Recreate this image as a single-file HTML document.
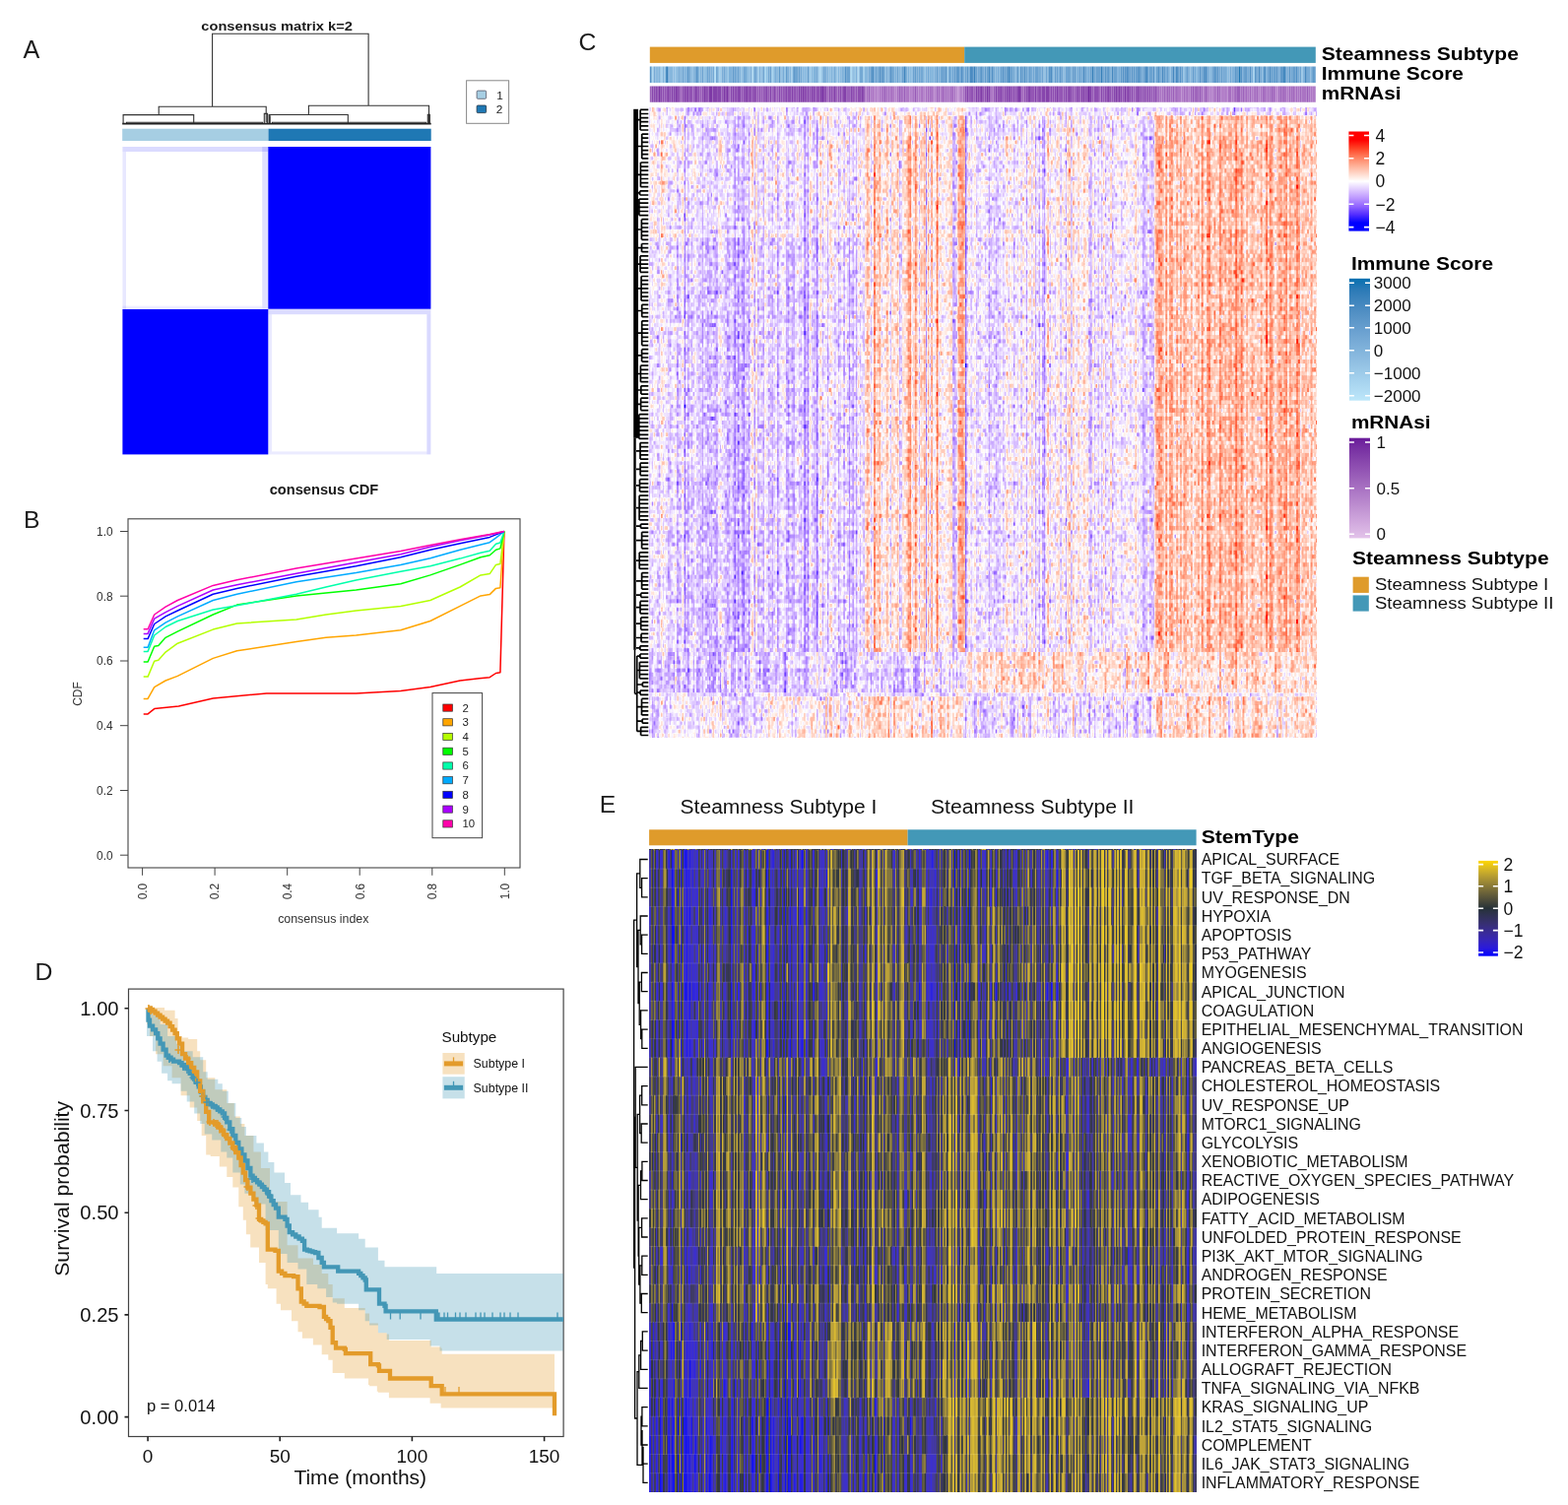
<!DOCTYPE html>
<html><head><meta charset="utf-8"><title>Figure</title>
<style>html,body{margin:0;padding:0;background:#fff;}svg{display:block;}</style></head>
<body><svg width="1592" height="1528" viewBox="0 0 1592 1528" font-family="'Liberation Sans', Arial, Helvetica, sans-serif">
<defs><filter id="fC" x="0" y="0" width="1" height="1" filterUnits="objectBoundingBox" color-interpolation-filters="sRGB"><feComponentTransfer><feFuncR type="table" tableValues="0 0 0 0 0 0 0 0 0 0 0 0 0 0 0 0 0.254 0.361 0.443 0.511 0.572 0.626 0.677 0.725 0.77 0.812 0.853 0.892 0.929 0.965 1 1 1 1 1 1 1 1 1 1 1 1 1 1 1 1 1 1 1 1 1 1 1 1 1 1 1 1 1 1 1"/><feFuncG type="table" tableValues="0 0 0 0 0 0 0 0 0 0 0 0 0 0 0 0 0.127 0.205 0.272 0.335 0.396 0.456 0.516 0.576 0.635 0.695 0.755 0.816 0.877 0.938 1 0.95 0.9 0.85 0.8 0.749 0.698 0.646 0.593 0.538 0.481 0.422 0.357 0.284 0.192 0 0 0 0 0 0 0 0 0 0 0 0 0 0 0 0"/><feFuncB type="table" tableValues="1 1 1 1 1 1 1 1 1 1 1 1 1 1 1 1 1 1 1 1 1 1 1 1 1 1 1 1 1 1 1 0.932 0.864 0.797 0.731 0.666 0.602 0.538 0.475 0.413 0.352 0.29 0.229 0.165 0.095 0 0 0 0 0 0 0 0 0 0 0 0 0 0 0 0"/><feFuncA type="linear" slope="0" intercept="1"/></feComponentTransfer><feGaussianBlur stdDeviation="0.55 0.35"/><feComponentTransfer><feFuncA type="linear" slope="0" intercept="1"/></feComponentTransfer></filter><pattern id="hct0" patternUnits="userSpaceOnUse" width="61" height="23" x="34" y="1"><path fill="#000000" d="M8 2h1v1h-1zM39 3h1v1h-1zM43 3h1v1h-1zM21 5h1v1h-1zM57 5h1v1h-1zM0 6h2v1h-2zM15 9h1v1h-1zM47 9h1v1h-1zM1 10h1v1h-1zM19 16h1v1h-1zM43 20h1v1h-1zM37 21h1v1h-1zM48 22h1v1h-1zM52 22h1v1h-1z"/><path fill="#050505" d="M41 4h1v1h-1zM6 5h1v1h-1zM15 12h1v1h-1z"/><path fill="#0b0b0b" d="M15 8h1v1h-1z"/><path fill="#101010" d="M42 19h1v1h-1z"/><path fill="#161616" d="M2 6h1v1h-1zM35 7h1v1h-1zM44 12h1v1h-1zM11 15h1v1h-1zM35 21h1v1h-1z"/><path fill="#1b1b1b" d="M13 5h1v1h-1zM30 9h1v1h-1zM6 16h1v1h-1z"/><path fill="#212121" d="M52 2h1v1h-1zM46 3h1v1h-1zM10 9h1v1h-1z"/><path fill="#262626" d="M31 9h1v1h-1zM10 14h1v1h-1zM13 14h1v1h-1zM57 21h1v1h-1zM59 21h1v1h-1z"/><path fill="#2b2b2b" d="M18 3h1v1h-1zM9 10h1v1h-1z"/><path fill="#313131" d="M42 0h1v1h-1zM47 0h1v1h-1zM36 5h1v1h-1zM35 8h1v1h-1zM38 8h1v1h-1zM52 8h1v1h-1zM31 10h1v1h-1zM55 10h1v1h-1zM18 11h1v1h-1zM29 12h1v1h-1zM60 14h1v1h-1z"/><path fill="#363636" d="M33 1h1v1h-1zM53 8h1v1h-1zM43 13h1v1h-1zM53 13h1v1h-1zM25 14h1v1h-1zM37 14h1v1h-1zM31 16h1v1h-1zM13 17h1v1h-1zM53 17h1v1h-1zM1 18h1v1h-1zM6 21h1v1h-1zM32 22h1v1h-1zM42 22h1v1h-1zM54 22h1v1h-1z"/><path fill="#3c3c3c" d="M15 0h1v1h-1zM26 1h1v1h-1zM29 2h1v1h-1zM46 2h1v1h-1zM24 4h1v1h-1zM60 6h1v1h-1zM58 8h1v1h-1zM20 11h1v1h-1zM17 17h1v1h-1zM22 21h1v1h-1zM60 21h1v1h-1zM24 22h1v1h-1z"/><path fill="#414141" d="M26 0h1v1h-1zM46 1h1v1h-1zM6 4h1v1h-1zM41 5h1v1h-1zM44 5h1v1h-1zM36 6h1v1h-1zM6 7h1v1h-1zM44 7h1v1h-1zM2 8h1v1h-1zM28 8h2v1h-2zM39 10h1v1h-1zM58 12h1v1h-1zM45 13h1v1h-1zM2 14h2v1h-2zM12 14h1v1h-1zM39 14h1v1h-1zM22 15h1v1h-1zM42 15h1v1h-1zM28 18h1v1h-1zM4 19h1v1h-1zM6 19h1v1h-1zM38 19h1v1h-1zM4 20h1v1h-1zM31 22h1v1h-1zM55 22h1v1h-1z"/><path fill="#474747" d="M23 2h1v1h-1zM54 4h1v1h-1zM9 6h1v1h-1zM25 7h1v1h-1zM1 8h1v1h-1zM27 8h1v1h-1zM13 9h1v1h-1zM21 10h1v1h-1zM9 11h1v1h-1zM40 12h1v1h-1zM46 12h1v1h-1zM26 14h1v1h-1zM2 15h1v1h-1zM32 16h1v1h-1zM7 17h1v1h-1zM45 17h1v1h-1zM50 18h1v1h-1zM32 20h1v1h-1zM3 21h1v1h-1zM58 22h1v1h-1z"/><path fill="#4c4c4c" d="M1 0h1v1h-1zM30 0h1v1h-1zM37 0h1v1h-1zM14 1h1v1h-1zM16 1h1v1h-1zM23 1h1v1h-1zM32 1h1v1h-1zM14 3h1v1h-1zM1 4h1v1h-1zM28 4h1v1h-1zM8 5h1v1h-1zM11 5h1v1h-1zM14 5h1v1h-1zM30 5h1v1h-1zM38 5h1v1h-1zM56 6h1v1h-1zM24 10h1v1h-1zM49 10h1v1h-1zM28 11h1v1h-1zM36 11h1v1h-1zM47 11h1v1h-1zM48 13h1v1h-1zM27 14h1v1h-1zM7 15h1v1h-1zM20 16h1v1h-1zM24 17h1v1h-1zM44 17h1v1h-1zM57 18h1v1h-1zM16 19h1v1h-1zM39 19h1v1h-1zM55 19h1v1h-1zM5 20h1v1h-1zM45 20h1v1h-1zM2 21h1v1h-1zM14 21h1v1h-1zM18 21h1v1h-1zM36 21h1v1h-1zM13 22h1v1h-1zM45 22h1v1h-1z"/><path fill="#515151" d="M11 0h1v1h-1zM17 0h1v1h-1zM51 0h1v1h-1zM15 1h1v1h-1zM20 1h1v1h-1zM25 1h1v1h-1zM60 1h1v1h-1zM42 2h1v1h-1zM47 3h1v1h-1zM36 4h1v1h-1zM22 5h1v1h-1zM43 5h1v1h-1zM48 5h1v1h-1zM3 7h1v1h-1zM18 7h1v1h-1zM26 7h1v1h-1zM47 8h1v1h-1zM56 9h1v1h-1zM16 11h1v1h-1zM43 12h1v1h-1zM48 12h1v1h-1zM30 13h1v1h-1zM5 14h1v1h-1zM28 14h1v1h-1zM40 14h1v1h-1zM3 15h1v1h-1zM16 17h1v1h-1zM2 18h1v1h-1zM13 18h1v1h-1zM54 19h1v1h-1zM17 21h1v1h-1zM23 21h1v1h-1zM33 21h1v1h-1z"/><path fill="#575757" d="M28 0h1v1h-1zM34 0h1v1h-1zM36 0h1v1h-1zM39 0h1v1h-1zM44 0h1v1h-1zM53 0h1v1h-1zM22 1h1v1h-1zM54 1h1v1h-1zM2 2h1v1h-1zM26 2h1v1h-1zM3 3h1v1h-1zM15 3h1v1h-1zM22 3h1v1h-1zM50 3h1v1h-1zM56 4h1v1h-1zM7 5h1v1h-1zM26 6h1v1h-1zM33 6h1v1h-1zM24 7h1v1h-1zM32 7h1v1h-1zM11 8h1v1h-1zM21 8h1v1h-1zM39 8h1v1h-1zM51 8h1v1h-1zM3 9h1v1h-1zM33 9h1v1h-1zM36 9h1v1h-1zM41 10h1v1h-1zM38 11h1v1h-1zM2 12h1v1h-1zM57 12h1v1h-1zM5 13h1v1h-1zM11 13h1v1h-1zM35 13h1v1h-1zM0 14h1v1h-1zM9 14h1v1h-1zM45 14h1v1h-1zM10 15h1v1h-1zM41 16h1v1h-1zM42 18h1v1h-1zM2 22h1v1h-1z"/><path fill="#5c5c5c" d="M12 0h1v1h-1zM55 0h1v1h-1zM12 1h1v1h-1zM19 1h1v1h-1zM49 1h1v1h-1zM11 2h1v1h-1zM17 2h1v1h-1zM37 2h1v1h-1zM41 2h1v1h-1zM49 2h1v1h-1zM1 3h1v1h-1zM9 3h1v1h-1zM34 3h1v1h-1zM5 4h1v1h-1zM46 4h1v1h-1zM49 4h2v1h-2zM18 6h1v1h-1zM45 7h1v1h-1zM52 7h1v1h-1zM8 8h1v1h-1zM12 8h1v1h-1zM24 8h1v1h-1zM34 8h1v1h-1zM14 9h1v1h-1zM41 9h1v1h-1zM59 10h1v1h-1zM14 11h1v1h-1zM17 11h1v1h-1zM30 11h1v1h-1zM37 11h1v1h-1zM53 11h2v1h-2zM59 11h1v1h-1zM18 12h1v1h-1zM36 12h1v1h-1zM45 12h1v1h-1zM11 14h1v1h-1zM22 14h1v1h-1zM4 15h1v1h-1zM31 15h1v1h-1zM5 16h1v1h-1zM54 16h1v1h-1zM41 17h1v1h-1zM12 18h1v1h-1zM17 19h1v1h-1zM53 19h1v1h-1zM18 20h2v1h-2zM51 20h1v1h-1zM54 21h1v1h-1zM44 22h1v1h-1zM56 22h1v1h-1z"/><path fill="#626262" d="M0 0h1v1h-1zM7 0h1v1h-1zM20 0h1v1h-1zM39 1h1v1h-1zM33 2h1v1h-1zM44 2h1v1h-1zM25 3h1v1h-1zM2 4h1v1h-1zM23 4h1v1h-1zM59 4h1v1h-1zM10 5h1v1h-1zM24 5h3v1h-3zM54 7h1v1h-1zM33 8h1v1h-1zM34 9h1v1h-1zM45 9h1v1h-1zM52 9h1v1h-1zM59 9h1v1h-1zM11 10h1v1h-1zM23 10h1v1h-1zM27 10h1v1h-1zM53 10h1v1h-1zM56 10h1v1h-1zM3 11h1v1h-1zM42 11h1v1h-1zM35 12h1v1h-1zM49 12h1v1h-1zM54 14h2v1h-2zM35 15h1v1h-1zM53 15h1v1h-1zM16 16h1v1h-1zM38 17h1v1h-1zM46 17h1v1h-1zM48 17h1v1h-1zM3 18h3v1h-3zM20 18h1v1h-1zM60 18h1v1h-1zM37 20h1v1h-1zM8 21h1v1h-1zM46 21h1v1h-1zM43 22h1v1h-1zM46 22h1v1h-1z"/><path fill="#676767" d="M18 0h1v1h-1zM23 0h1v1h-1zM1 1h1v1h-1zM52 1h2v1h-2zM45 2h1v1h-1zM4 3h1v1h-1zM19 3h1v1h-1zM56 3h1v1h-1zM48 4h1v1h-1zM53 4h1v1h-1zM60 4h1v1h-1zM9 5h1v1h-1zM47 5h1v1h-1zM58 5h1v1h-1zM11 6h1v1h-1zM29 6h1v1h-1zM31 6h1v1h-1zM9 7h1v1h-1zM19 7h1v1h-1zM29 7h1v1h-1zM6 9h1v1h-1zM9 9h1v1h-1zM20 9h1v1h-1zM29 9h1v1h-1zM55 9h1v1h-1zM28 10h1v1h-1zM32 10h1v1h-1zM54 10h1v1h-1zM60 10h1v1h-1zM6 11h1v1h-1zM10 11h1v1h-1zM27 11h1v1h-1zM24 12h1v1h-1zM27 12h1v1h-1zM15 13h1v1h-1zM31 13h1v1h-1zM42 13h1v1h-1zM4 14h1v1h-1zM15 14h1v1h-1zM13 15h1v1h-1zM29 15h1v1h-1zM33 15h1v1h-1zM46 15h1v1h-1zM55 15h1v1h-1zM2 16h1v1h-1zM10 16h1v1h-1zM18 16h1v1h-1zM23 16h1v1h-1zM5 17h1v1h-1zM8 17h1v1h-1zM7 18h1v1h-1zM32 18h1v1h-1zM18 19h1v1h-1zM28 19h1v1h-1zM60 19h1v1h-1zM9 20h1v1h-1zM36 20h1v1h-1zM37 22h1v1h-1zM47 22h1v1h-1z"/><path fill="#6d6d6d" d="M6 0h1v1h-1zM19 0h1v1h-1zM28 1h1v1h-1zM31 1h1v1h-1zM37 1h2v1h-2zM40 1h1v1h-1zM6 2h1v1h-1zM30 2h2v1h-2zM53 2h1v1h-1zM0 3h1v1h-1zM17 3h1v1h-1zM52 3h1v1h-1zM42 5h1v1h-1zM49 5h1v1h-1zM53 5h1v1h-1zM16 6h1v1h-1zM47 6h1v1h-1zM52 6h1v1h-1zM58 6h1v1h-1zM28 7h1v1h-1zM50 7h1v1h-1zM48 8h1v1h-1zM54 9h1v1h-1zM57 9h1v1h-1zM7 11h1v1h-1zM25 11h1v1h-1zM33 11h1v1h-1zM43 11h1v1h-1zM4 12h1v1h-1zM47 12h1v1h-1zM29 13h1v1h-1zM6 14h1v1h-1zM42 14h1v1h-1zM47 14h1v1h-1zM15 15h1v1h-1zM52 15h1v1h-1zM0 16h1v1h-1zM0 17h1v1h-1zM18 17h1v1h-1zM26 17h1v1h-1zM28 17h1v1h-1zM37 17h1v1h-1zM54 17h1v1h-1zM35 18h1v1h-1zM37 18h1v1h-1zM41 18h1v1h-1zM52 18h1v1h-1zM1 19h1v1h-1zM5 19h1v1h-1zM43 19h1v1h-1zM46 19h1v1h-1zM52 19h1v1h-1zM7 20h1v1h-1zM14 20h1v1h-1zM27 20h1v1h-1zM31 20h1v1h-1zM57 20h1v1h-1zM25 21h1v1h-1zM16 22h1v1h-1zM27 22h1v1h-1zM33 22h1v1h-1zM49 22h1v1h-1z"/><path fill="#727272" d="M33 0h1v1h-1zM35 0h1v1h-1zM54 0h1v1h-1zM4 1h1v1h-1zM8 1h1v1h-1zM18 1h1v1h-1zM35 1h1v1h-1zM42 1h1v1h-1zM57 1h1v1h-1zM1 2h1v1h-1zM18 2h1v1h-1zM36 2h1v1h-1zM54 2h1v1h-1zM51 3h1v1h-1zM55 3h1v1h-1zM8 4h2v1h-2zM20 4h1v1h-1zM32 4h1v1h-1zM43 4h2v1h-2zM28 5h1v1h-1zM40 5h1v1h-1zM50 5h2v1h-2zM17 6h1v1h-1zM19 6h1v1h-1zM21 6h1v1h-1zM35 6h1v1h-1zM41 6h1v1h-1zM51 6h1v1h-1zM57 6h1v1h-1zM11 7h1v1h-1zM57 7h1v1h-1zM56 8h2v1h-2zM11 9h1v1h-1zM22 9h1v1h-1zM50 9h1v1h-1zM38 10h1v1h-1zM2 11h1v1h-1zM11 11h1v1h-1zM9 12h1v1h-1zM12 12h1v1h-1zM20 12h1v1h-1zM25 12h1v1h-1zM54 12h2v1h-2zM3 13h1v1h-1zM8 13h1v1h-1zM36 13h1v1h-1zM50 13h1v1h-1zM57 13h1v1h-1zM1 14h1v1h-1zM21 14h1v1h-1zM23 14h1v1h-1zM33 14h1v1h-1zM11 16h1v1h-1zM21 16h1v1h-1zM34 16h1v1h-1zM25 17h1v1h-1zM60 17h1v1h-1zM3 19h1v1h-1zM20 19h1v1h-1zM23 19h1v1h-1zM6 20h1v1h-1zM23 20h1v1h-1zM25 20h1v1h-1zM34 20h1v1h-1zM38 20h1v1h-1zM60 20h1v1h-1zM44 21h1v1h-1zM3 22h2v1h-2zM15 22h1v1h-1zM29 22h1v1h-1zM59 22h1v1h-1z"/><path fill="#777777" d="M2 0h1v1h-1zM27 0h1v1h-1zM29 0h1v1h-1zM48 0h2v1h-2zM9 1h1v1h-1zM34 1h1v1h-1zM34 2h2v1h-2zM57 2h1v1h-1zM5 3h1v1h-1zM26 3h1v1h-1zM32 3h1v1h-1zM38 3h1v1h-1zM41 3h1v1h-1zM49 3h1v1h-1zM0 4h1v1h-1zM34 4h2v1h-2zM2 5h1v1h-1zM5 5h1v1h-1zM31 5h1v1h-1zM39 5h1v1h-1zM60 5h1v1h-1zM48 6h1v1h-1zM55 7h1v1h-1zM18 8h1v1h-1zM23 8h1v1h-1zM31 8h1v1h-1zM2 9h1v1h-1zM19 9h1v1h-1zM23 9h1v1h-1zM18 10h1v1h-1zM13 11h1v1h-1zM24 11h1v1h-1zM3 12h1v1h-1zM17 12h1v1h-1zM19 13h1v1h-1zM24 13h1v1h-1zM26 13h1v1h-1zM44 13h1v1h-1zM56 13h1v1h-1zM58 14h1v1h-1zM19 15h1v1h-1zM45 15h1v1h-1zM28 16h2v1h-2zM37 16h1v1h-1zM55 16h1v1h-1zM57 16h1v1h-1zM3 17h2v1h-2zM11 17h1v1h-1zM22 17h1v1h-1zM39 17h1v1h-1zM47 17h1v1h-1zM51 17h1v1h-1zM6 18h1v1h-1zM14 18h1v1h-1zM29 18h1v1h-1zM48 18h1v1h-1zM14 19h2v1h-2zM22 19h1v1h-1zM29 19h1v1h-1zM49 19h1v1h-1zM10 20h1v1h-1zM15 20h1v1h-1zM17 20h1v1h-1zM26 20h1v1h-1zM35 20h1v1h-1zM59 20h1v1h-1zM43 21h1v1h-1zM48 21h1v1h-1zM36 22h1v1h-1z"/><path fill="#7d7d7d" d="M16 0h1v1h-1zM22 0h1v1h-1zM32 0h1v1h-1zM2 1h1v1h-1zM6 1h1v1h-1zM27 1h1v1h-1zM29 1h1v1h-1zM4 2h1v1h-1zM56 2h1v1h-1zM58 2h1v1h-1zM13 3h1v1h-1zM33 3h1v1h-1zM36 3h1v1h-1zM57 3h1v1h-1zM18 4h1v1h-1zM31 4h1v1h-1zM38 4h1v1h-1zM58 4h1v1h-1zM23 5h1v1h-1zM27 5h1v1h-1zM46 5h1v1h-1zM52 5h1v1h-1zM30 6h1v1h-1zM4 7h1v1h-1zM22 7h1v1h-1zM13 8h1v1h-1zM32 8h1v1h-1zM41 8h1v1h-1zM21 9h1v1h-1zM24 9h1v1h-1zM38 9h1v1h-1zM43 9h1v1h-1zM58 9h1v1h-1zM42 10h1v1h-1zM58 10h1v1h-1zM0 11h2v1h-2zM58 11h1v1h-1zM46 13h1v1h-1zM49 13h1v1h-1zM19 14h1v1h-1zM29 14h1v1h-1zM1 15h1v1h-1zM14 15h1v1h-1zM30 16h1v1h-1zM36 16h1v1h-1zM1 17h1v1h-1zM8 18h1v1h-1zM16 18h1v1h-1zM26 18h1v1h-1zM30 18h1v1h-1zM38 18h1v1h-1zM49 18h1v1h-1zM2 19h1v1h-1zM33 19h1v1h-1zM0 20h1v1h-1zM8 20h1v1h-1zM44 20h1v1h-1zM53 20h1v1h-1zM55 20h1v1h-1zM5 21h1v1h-1zM15 21h1v1h-1zM24 21h1v1h-1zM29 21h1v1h-1zM0 22h1v1h-1zM11 22h1v1h-1zM41 22h1v1h-1z"/><path fill="#828282" d="M5 0h1v1h-1zM31 0h1v1h-1zM46 0h1v1h-1zM11 1h1v1h-1zM43 1h1v1h-1zM51 1h1v1h-1zM7 2h1v1h-1zM15 2h1v1h-1zM22 2h1v1h-1zM28 2h1v1h-1zM43 2h1v1h-1zM20 3h1v1h-1zM35 3h1v1h-1zM44 3h1v1h-1zM4 4h1v1h-1zM7 4h1v1h-1zM26 4h1v1h-1zM33 4h1v1h-1zM39 4h2v1h-2zM45 4h1v1h-1zM33 5h1v1h-1zM30 7h1v1h-1zM38 7h1v1h-1zM16 8h1v1h-1zM1 9h1v1h-1zM8 9h1v1h-1zM18 9h1v1h-1zM25 9h1v1h-1zM37 9h1v1h-1zM44 9h1v1h-1zM13 10h1v1h-1zM30 10h1v1h-1zM45 10h2v1h-2zM26 11h1v1h-1zM29 11h1v1h-1zM41 11h1v1h-1zM46 11h1v1h-1zM11 12h1v1h-1zM13 12h2v1h-2zM33 12h1v1h-1zM52 12h1v1h-1zM4 13h1v1h-1zM18 13h1v1h-1zM38 13h1v1h-1zM44 14h1v1h-1zM46 14h1v1h-1zM52 14h1v1h-1zM47 15h1v1h-1zM13 16h1v1h-1zM24 16h1v1h-1zM26 16h1v1h-1zM47 16h1v1h-1zM50 16h1v1h-1zM59 16h1v1h-1zM33 17h1v1h-1zM52 17h1v1h-1zM59 17h1v1h-1zM10 18h1v1h-1zM56 18h1v1h-1zM9 19h1v1h-1zM11 19h1v1h-1zM48 19h1v1h-1zM3 20h1v1h-1zM11 20h1v1h-1zM13 20h1v1h-1zM30 20h1v1h-1zM41 20h1v1h-1zM0 21h1v1h-1zM7 21h1v1h-1zM31 21h1v1h-1zM7 22h2v1h-2zM18 22h1v1h-1zM39 22h1v1h-1z"/><path fill="#888888" d="M10 0h1v1h-1zM14 0h1v1h-1zM38 0h1v1h-1zM43 0h1v1h-1zM5 1h1v1h-1zM10 1h1v1h-1zM36 1h1v1h-1zM0 2h1v1h-1zM38 2h1v1h-1zM11 3h1v1h-1zM51 4h1v1h-1zM45 5h1v1h-1zM7 6h1v1h-1zM13 6h2v1h-2zM46 6h1v1h-1zM59 6h1v1h-1zM7 7h1v1h-1zM14 7h1v1h-1zM37 7h1v1h-1zM43 7h1v1h-1zM17 8h1v1h-1zM19 8h1v1h-1zM25 8h1v1h-1zM36 8h2v1h-2zM42 8h1v1h-1zM28 9h1v1h-1zM48 9h1v1h-1zM53 9h1v1h-1zM3 10h2v1h-2zM8 10h1v1h-1zM12 10h1v1h-1zM50 10h1v1h-1zM12 11h1v1h-1zM39 11h1v1h-1zM50 11h1v1h-1zM56 11h1v1h-1zM5 12h1v1h-1zM10 12h1v1h-1zM37 12h1v1h-1zM51 12h1v1h-1zM37 13h1v1h-1zM39 13h1v1h-1zM18 14h1v1h-1zM20 14h1v1h-1zM35 14h1v1h-1zM20 15h1v1h-1zM24 15h3v1h-3zM32 15h1v1h-1zM36 15h1v1h-1zM39 15h1v1h-1zM44 15h1v1h-1zM56 15h1v1h-1zM3 16h2v1h-2zM9 16h1v1h-1zM15 16h1v1h-1zM53 16h1v1h-1zM60 16h1v1h-1zM21 17h1v1h-1zM30 17h1v1h-1zM35 17h1v1h-1zM57 17h1v1h-1zM11 18h1v1h-1zM27 18h1v1h-1zM33 18h1v1h-1zM44 18h1v1h-1zM51 18h1v1h-1zM12 19h2v1h-2zM19 19h1v1h-1zM31 19h1v1h-1zM37 19h1v1h-1zM58 19h1v1h-1zM33 20h1v1h-1zM50 20h1v1h-1zM52 20h1v1h-1zM4 21h1v1h-1zM19 21h1v1h-1zM27 21h1v1h-1zM30 21h1v1h-1zM42 21h1v1h-1zM50 21h1v1h-1zM53 21h1v1h-1zM14 22h1v1h-1zM17 22h1v1h-1zM25 22h1v1h-1zM34 22h1v1h-1zM53 22h1v1h-1zM57 22h1v1h-1zM60 22h1v1h-1z"/><path fill="#8d8d8d" d="M24 0h1v1h-1zM48 1h1v1h-1zM8 3h1v1h-1zM30 3h1v1h-1zM59 3h1v1h-1zM11 4h2v1h-2zM19 5h1v1h-1zM54 5h1v1h-1zM56 5h1v1h-1zM3 6h2v1h-2zM27 6h1v1h-1zM32 6h1v1h-1zM27 7h1v1h-1zM39 7h1v1h-1zM51 7h1v1h-1zM53 7h1v1h-1zM60 7h1v1h-1zM14 8h1v1h-1zM22 8h1v1h-1zM50 8h1v1h-1zM55 8h1v1h-1zM59 8h1v1h-1zM7 9h1v1h-1zM7 10h1v1h-1zM15 11h1v1h-1zM40 11h1v1h-1zM49 11h1v1h-1zM60 11h1v1h-1zM1 12h1v1h-1zM8 12h1v1h-1zM30 12h1v1h-1zM32 12h1v1h-1zM41 12h1v1h-1zM7 13h1v1h-1zM20 13h1v1h-1zM28 13h1v1h-1zM32 13h1v1h-1zM41 13h1v1h-1zM47 13h1v1h-1zM55 13h1v1h-1zM60 13h1v1h-1zM8 14h1v1h-1zM16 14h1v1h-1zM30 14h2v1h-2zM43 15h1v1h-1zM48 15h2v1h-2zM8 16h1v1h-1zM39 16h1v1h-1zM15 17h1v1h-1zM19 17h1v1h-1zM55 17h2v1h-2zM25 18h1v1h-1zM10 19h1v1h-1zM40 19h1v1h-1zM2 20h1v1h-1zM20 20h1v1h-1zM42 20h1v1h-1zM1 21h1v1h-1zM9 21h1v1h-1zM26 21h1v1h-1zM40 21h1v1h-1zM55 21h1v1h-1zM21 22h1v1h-1zM30 22h1v1h-1z"/><path fill="#929292" d="M3 0h1v1h-1zM21 0h1v1h-1zM21 1h1v1h-1zM45 1h1v1h-1zM58 1h1v1h-1zM5 2h1v1h-1zM12 2h1v1h-1zM6 3h1v1h-1zM10 3h1v1h-1zM54 3h1v1h-1zM21 4h1v1h-1zM42 4h1v1h-1zM0 5h1v1h-1zM12 5h1v1h-1zM17 5h2v1h-2zM20 5h1v1h-1zM55 5h1v1h-1zM59 5h1v1h-1zM12 6h1v1h-1zM39 6h2v1h-2zM2 7h1v1h-1zM13 7h1v1h-1zM42 7h1v1h-1zM56 7h1v1h-1zM59 7h1v1h-1zM20 8h1v1h-1zM17 9h1v1h-1zM35 9h1v1h-1zM19 10h1v1h-1zM40 10h1v1h-1zM44 10h1v1h-1zM21 11h1v1h-1zM32 11h1v1h-1zM34 11h1v1h-1zM39 12h1v1h-1zM42 12h1v1h-1zM50 12h1v1h-1zM60 12h1v1h-1zM52 13h1v1h-1zM54 13h1v1h-1zM58 13h1v1h-1zM57 15h1v1h-1zM59 15h1v1h-1zM12 16h1v1h-1zM42 16h1v1h-1zM39 18h1v1h-1zM0 19h1v1h-1zM24 19h1v1h-1zM12 20h1v1h-1zM28 20h1v1h-1zM39 20h1v1h-1zM38 21h1v1h-1zM51 21h1v1h-1zM50 22h2v1h-2z"/><path fill="#989898" d="M45 0h1v1h-1zM57 0h1v1h-1zM59 0h1v1h-1zM7 1h1v1h-1zM24 1h1v1h-1zM14 2h1v1h-1zM20 2h1v1h-1zM40 2h1v1h-1zM55 2h1v1h-1zM23 3h1v1h-1zM60 3h1v1h-1zM3 4h1v1h-1zM55 6h1v1h-1zM41 7h1v1h-1zM49 7h1v1h-1zM58 7h1v1h-1zM3 8h1v1h-1zM10 8h1v1h-1zM12 9h1v1h-1zM32 9h1v1h-1zM34 10h1v1h-1zM37 10h1v1h-1zM4 11h1v1h-1zM22 11h1v1h-1zM48 11h1v1h-1zM16 12h1v1h-1zM19 12h1v1h-1zM22 12h1v1h-1zM0 13h1v1h-1zM59 13h1v1h-1zM14 14h1v1h-1zM36 14h1v1h-1zM6 15h1v1h-1zM21 15h1v1h-1zM17 16h1v1h-1zM22 16h1v1h-1zM25 16h1v1h-1zM33 16h1v1h-1zM44 16h1v1h-1zM9 18h1v1h-1zM24 18h1v1h-1zM55 18h1v1h-1zM41 19h1v1h-1zM47 19h1v1h-1zM21 20h1v1h-1zM47 20h1v1h-1zM54 20h1v1h-1zM56 20h1v1h-1zM58 20h1v1h-1zM41 21h1v1h-1zM56 21h1v1h-1zM10 22h1v1h-1zM20 22h1v1h-1z"/><path fill="#9d9d9d" d="M8 0h1v1h-1zM25 0h1v1h-1zM41 0h1v1h-1zM52 0h1v1h-1zM16 2h1v1h-1zM19 2h1v1h-1zM24 3h1v1h-1zM53 3h1v1h-1zM16 4h1v1h-1zM27 4h1v1h-1zM30 4h1v1h-1zM52 4h1v1h-1zM37 5h1v1h-1zM6 6h1v1h-1zM23 6h3v1h-3zM43 6h1v1h-1zM54 6h1v1h-1zM8 7h1v1h-1zM10 7h1v1h-1zM16 7h1v1h-1zM20 7h1v1h-1zM23 7h1v1h-1zM47 7h1v1h-1zM6 8h2v1h-2zM9 8h1v1h-1zM54 8h1v1h-1zM39 9h1v1h-1zM46 9h1v1h-1zM2 10h1v1h-1zM10 10h1v1h-1zM20 10h1v1h-1zM35 10h1v1h-1zM47 10h1v1h-1zM52 10h1v1h-1zM19 11h1v1h-1zM23 11h1v1h-1zM52 11h1v1h-1zM1 13h1v1h-1zM9 13h1v1h-1zM17 13h1v1h-1zM25 13h1v1h-1zM34 14h1v1h-1zM41 14h1v1h-1zM50 14h1v1h-1zM57 14h1v1h-1zM18 15h1v1h-1zM1 16h1v1h-1zM43 16h1v1h-1zM14 17h1v1h-1zM23 17h1v1h-1zM40 17h1v1h-1zM43 17h1v1h-1zM45 18h1v1h-1zM47 18h1v1h-1zM58 18h1v1h-1zM32 19h1v1h-1zM26 22h1v1h-1z"/><path fill="#a3a3a3" d="M50 0h1v1h-1zM60 0h1v1h-1zM13 1h1v1h-1zM17 1h1v1h-1zM50 1h1v1h-1zM10 2h1v1h-1zM48 2h1v1h-1zM50 2h1v1h-1zM29 3h1v1h-1zM45 3h1v1h-1zM13 4h1v1h-1zM47 4h1v1h-1zM1 5h1v1h-1zM3 5h1v1h-1zM29 5h1v1h-1zM10 6h1v1h-1zM15 6h1v1h-1zM38 6h1v1h-1zM44 6h2v1h-2zM21 7h1v1h-1zM4 8h1v1h-1zM42 9h1v1h-1zM60 9h1v1h-1zM14 10h1v1h-1zM48 10h1v1h-1zM57 11h1v1h-1zM26 12h1v1h-1zM28 12h1v1h-1zM31 12h1v1h-1zM12 13h1v1h-1zM27 13h1v1h-1zM34 13h1v1h-1zM40 13h1v1h-1zM56 14h1v1h-1zM12 15h1v1h-1zM27 15h1v1h-1zM34 15h1v1h-1zM37 15h1v1h-1zM54 15h1v1h-1zM56 16h1v1h-1zM6 17h1v1h-1zM42 17h1v1h-1zM58 17h1v1h-1zM15 18h1v1h-1zM36 18h1v1h-1zM40 18h1v1h-1zM46 18h1v1h-1zM27 19h1v1h-1zM45 19h1v1h-1zM1 20h1v1h-1zM16 20h1v1h-1zM40 20h1v1h-1zM46 20h1v1h-1zM49 21h1v1h-1zM1 22h1v1h-1zM9 22h1v1h-1zM38 22h1v1h-1z"/><path fill="#a8a8a8" d="M56 1h1v1h-1zM25 2h1v1h-1zM39 2h1v1h-1zM7 3h1v1h-1zM48 3h1v1h-1zM55 4h1v1h-1zM16 5h1v1h-1zM49 6h1v1h-1zM45 8h1v1h-1zM60 8h1v1h-1zM40 9h1v1h-1zM16 10h1v1h-1zM45 11h1v1h-1zM6 12h1v1h-1zM34 12h1v1h-1zM2 13h1v1h-1zM13 13h1v1h-1zM21 13h2v1h-2zM32 14h1v1h-1zM53 14h1v1h-1zM28 15h1v1h-1zM38 15h1v1h-1zM58 15h1v1h-1zM7 16h1v1h-1zM38 16h1v1h-1zM46 16h1v1h-1zM49 16h1v1h-1zM51 16h1v1h-1zM9 17h1v1h-1zM12 17h1v1h-1zM27 17h1v1h-1zM29 17h1v1h-1zM17 18h2v1h-2zM31 18h1v1h-1zM8 19h1v1h-1zM25 19h1v1h-1zM30 19h1v1h-1zM59 19h1v1h-1zM29 20h1v1h-1zM11 21h1v1h-1zM16 21h1v1h-1zM20 21h1v1h-1zM58 21h1v1h-1zM23 22h1v1h-1z"/><path fill="#aeaeae" d="M40 0h1v1h-1zM55 1h1v1h-1zM21 3h1v1h-1zM31 3h1v1h-1zM42 3h1v1h-1zM22 4h1v1h-1zM25 4h1v1h-1zM57 4h1v1h-1zM34 5h2v1h-2zM22 6h1v1h-1zM53 6h1v1h-1zM12 7h1v1h-1zM43 8h1v1h-1zM49 8h1v1h-1zM4 9h1v1h-1zM49 9h1v1h-1zM6 10h1v1h-1zM8 11h1v1h-1zM35 11h1v1h-1zM44 11h1v1h-1zM14 13h1v1h-1zM38 14h1v1h-1zM0 15h1v1h-1zM23 15h1v1h-1zM14 16h1v1h-1zM45 16h1v1h-1zM58 16h1v1h-1zM2 17h1v1h-1zM19 18h1v1h-1zM21 18h1v1h-1zM36 19h1v1h-1zM44 19h1v1h-1zM50 19h2v1h-2zM22 20h1v1h-1zM49 20h1v1h-1zM12 21h1v1h-1zM21 21h1v1h-1zM6 22h1v1h-1z"/><path fill="#b3b3b3" d="M3 1h1v1h-1zM30 1h1v1h-1zM9 2h1v1h-1zM27 2h1v1h-1zM51 2h1v1h-1zM40 3h1v1h-1zM58 3h1v1h-1zM5 6h1v1h-1zM0 7h1v1h-1zM5 7h1v1h-1zM17 7h1v1h-1zM0 8h1v1h-1zM44 8h1v1h-1zM46 8h1v1h-1zM16 9h1v1h-1zM55 11h1v1h-1zM38 12h1v1h-1zM56 12h1v1h-1zM16 13h1v1h-1zM9 15h1v1h-1zM16 15h1v1h-1zM41 15h1v1h-1zM20 17h1v1h-1zM49 17h1v1h-1zM22 18h1v1h-1zM56 19h1v1h-1zM24 20h1v1h-1zM39 21h1v1h-1zM12 22h1v1h-1zM35 22h1v1h-1z"/><path fill="#b8b8b8" d="M56 0h1v1h-1zM16 3h1v1h-1zM50 6h1v1h-1zM1 7h1v1h-1zM46 7h1v1h-1zM26 8h1v1h-1zM0 10h1v1h-1zM59 12h1v1h-1zM48 14h1v1h-1zM17 15h1v1h-1zM40 15h1v1h-1zM50 15h1v1h-1zM60 15h1v1h-1zM35 16h1v1h-1zM52 16h1v1h-1zM10 17h1v1h-1zM43 18h1v1h-1zM59 18h1v1h-1zM35 19h1v1h-1zM48 20h1v1h-1zM52 21h1v1h-1z"/><path fill="#bebebe" d="M9 0h1v1h-1zM13 0h1v1h-1zM21 2h1v1h-1zM32 2h1v1h-1zM20 6h1v1h-1zM28 6h1v1h-1zM34 6h1v1h-1zM0 9h1v1h-1zM26 9h1v1h-1zM25 10h1v1h-1zM57 10h1v1h-1zM5 11h1v1h-1zM0 12h1v1h-1zM33 13h1v1h-1zM49 14h1v1h-1zM40 16h1v1h-1zM50 17h1v1h-1zM0 18h1v1h-1zM34 19h1v1h-1zM22 22h1v1h-1z"/><path fill="#c3c3c3" d="M47 1h1v1h-1zM27 3h2v1h-2zM10 4h1v1h-1zM29 4h1v1h-1zM37 6h1v1h-1zM36 7h1v1h-1zM40 7h1v1h-1zM43 10h1v1h-1zM51 10h1v1h-1zM31 11h1v1h-1zM51 11h1v1h-1zM53 12h1v1h-1zM43 14h1v1h-1zM5 15h1v1h-1zM28 21h1v1h-1zM45 21h1v1h-1zM47 21h1v1h-1z"/><path fill="#c9c9c9" d="M44 1h1v1h-1zM59 1h1v1h-1zM3 2h1v1h-1zM13 2h1v1h-1zM24 2h1v1h-1zM47 2h1v1h-1zM59 2h1v1h-1zM12 3h1v1h-1zM32 5h1v1h-1zM8 6h1v1h-1zM31 7h1v1h-1zM21 12h1v1h-1zM23 12h1v1h-1zM51 13h1v1h-1zM8 15h1v1h-1zM30 15h1v1h-1zM27 16h1v1h-1zM34 18h1v1h-1zM54 18h1v1h-1zM21 19h1v1h-1zM26 19h1v1h-1zM57 19h1v1h-1zM40 22h1v1h-1z"/><path fill="#cecece" d="M4 5h1v1h-1zM15 5h1v1h-1zM15 7h1v1h-1zM48 7h1v1h-1zM5 8h1v1h-1zM30 8h1v1h-1zM51 9h1v1h-1zM15 10h1v1h-1zM33 10h1v1h-1zM7 12h1v1h-1zM23 18h1v1h-1z"/><path fill="#d4d4d4" d="M60 2h1v1h-1zM26 10h1v1h-1zM23 13h1v1h-1z"/><path fill="#d9d9d9" d="M24 14h1v1h-1zM32 17h1v1h-1zM13 21h1v1h-1z"/><path fill="#dedede" d="M58 0h1v1h-1zM40 8h1v1h-1zM5 10h1v1h-1zM17 10h1v1h-1zM7 14h1v1h-1zM31 17h1v1h-1zM36 17h1v1h-1zM32 21h1v1h-1zM19 22h1v1h-1z"/><path fill="#e4e4e4" d="M17 4h1v1h-1zM37 4h1v1h-1zM27 9h1v1h-1zM34 21h1v1h-1z"/><path fill="#e9e9e9" d="M2 3h1v1h-1zM37 3h1v1h-1zM10 21h1v1h-1z"/><path fill="#efefef" d="M6 13h1v1h-1zM7 19h1v1h-1z"/><path fill="#f4f4f4" d="M14 4h1v1h-1zM10 13h1v1h-1zM17 14h1v1h-1z"/><path fill="#fafafa" d="M29 10h1v1h-1z"/><path fill="#ffffff" d="M4 0h1v1h-1zM0 1h1v1h-1zM41 1h1v1h-1zM15 4h1v1h-1zM19 4h1v1h-1zM42 6h1v1h-1zM33 7h2v1h-2zM5 9h1v1h-1zM22 10h1v1h-1zM36 10h1v1h-1zM51 14h1v1h-1zM59 14h1v1h-1zM51 15h1v1h-1zM48 16h1v1h-1zM34 17h1v1h-1zM53 18h1v1h-1zM5 22h1v1h-1zM28 22h1v1h-1z"/></pattern><pattern id="hct1" patternUnits="userSpaceOnUse" width="47" height="29" x="8" y="26"><path fill="#000000" d="M11 0h1v1h-1zM43 1h1v1h-1zM2 2h1v1h-1zM29 4h1v1h-1zM1 7h1v1h-1zM7 8h1v1h-1zM38 11h1v1h-1zM44 11h1v1h-1zM32 14h1v1h-1zM12 15h1v1h-1zM37 17h1v1h-1zM31 19h1v1h-1zM4 21h1v1h-1zM5 23h1v1h-1zM26 24h1v1h-1zM42 25h1v1h-1z"/><path fill="#050505" d="M7 10h1v1h-1z"/><path fill="#0b0b0b" d="M12 5h1v1h-1zM12 7h1v1h-1zM19 12h1v1h-1zM20 19h1v1h-1z"/><path fill="#101010" d="M1 28h1v1h-1z"/><path fill="#161616" d="M39 2h1v1h-1zM27 8h1v1h-1zM40 13h1v1h-1zM1 17h1v1h-1z"/><path fill="#1b1b1b" d="M7 18h1v1h-1zM29 19h1v1h-1zM20 26h1v1h-1z"/><path fill="#212121" d="M16 1h1v1h-1zM23 8h1v1h-1zM45 10h1v1h-1zM0 20h1v1h-1zM13 20h1v1h-1z"/><path fill="#262626" d="M3 3h1v1h-1zM35 4h1v1h-1zM11 18h1v1h-1zM12 20h1v1h-1zM3 21h1v1h-1z"/><path fill="#2b2b2b" d="M43 8h1v1h-1zM1 10h1v1h-1zM24 18h1v1h-1zM22 20h1v1h-1zM30 20h1v1h-1zM8 25h1v1h-1z"/><path fill="#313131" d="M19 10h1v1h-1zM36 10h1v1h-1zM5 14h1v1h-1zM23 16h1v1h-1zM11 21h1v1h-1zM7 23h1v1h-1zM6 25h1v1h-1zM11 25h1v1h-1z"/><path fill="#363636" d="M2 0h1v1h-1zM21 7h1v1h-1zM5 8h1v1h-1zM3 9h1v1h-1zM33 10h1v1h-1zM40 20h1v1h-1zM2 21h1v1h-1zM1 22h1v1h-1zM29 25h1v1h-1zM5 26h1v1h-1zM15 27h1v1h-1zM45 27h1v1h-1zM40 28h1v1h-1z"/><path fill="#3c3c3c" d="M6 0h1v1h-1zM46 2h1v1h-1zM33 5h1v1h-1zM28 8h1v1h-1zM38 9h1v1h-1zM16 10h1v1h-1zM11 14h1v1h-1zM6 23h1v1h-1zM14 25h1v1h-1zM28 25h1v1h-1zM35 26h1v1h-1zM21 27h1v1h-1z"/><path fill="#414141" d="M0 0h1v1h-1zM4 0h1v1h-1zM24 0h1v1h-1zM31 0h1v1h-1zM38 3h1v1h-1zM44 3h1v1h-1zM2 7h1v1h-1zM42 7h1v1h-1zM39 8h1v1h-1zM24 9h1v1h-1zM26 12h1v1h-1zM27 17h1v1h-1zM34 17h1v1h-1zM30 19h1v1h-1zM19 21h1v1h-1zM2 25h1v1h-1zM39 28h1v1h-1z"/><path fill="#474747" d="M34 0h1v1h-1zM35 1h1v1h-1zM46 1h1v1h-1zM18 4h1v1h-1zM32 4h1v1h-1zM44 5h1v1h-1zM13 6h1v1h-1zM35 6h1v1h-1zM4 8h1v1h-1zM42 9h1v1h-1zM20 10h1v1h-1zM0 11h1v1h-1zM36 11h1v1h-1zM4 13h1v1h-1zM10 18h1v1h-1zM30 18h1v1h-1zM35 18h1v1h-1zM27 19h1v1h-1zM27 21h1v1h-1zM2 22h1v1h-1zM10 22h1v1h-1zM32 23h1v1h-1zM37 24h1v1h-1zM33 27h1v1h-1zM10 28h1v1h-1zM13 28h1v1h-1zM21 28h1v1h-1zM27 28h1v1h-1z"/><path fill="#4c4c4c" d="M17 3h1v1h-1zM11 4h1v1h-1zM36 4h1v1h-1zM42 5h1v1h-1zM27 6h1v1h-1zM7 7h1v1h-1zM30 7h1v1h-1zM45 8h1v1h-1zM41 9h1v1h-1zM25 11h1v1h-1zM13 13h1v1h-1zM16 13h1v1h-1zM14 14h1v1h-1zM20 14h1v1h-1zM43 14h1v1h-1zM40 15h1v1h-1zM46 16h1v1h-1zM28 19h1v1h-1zM34 19h1v1h-1zM28 20h1v1h-1zM22 21h1v1h-1zM19 22h1v1h-1zM0 23h1v1h-1zM18 23h1v1h-1zM33 23h1v1h-1zM32 24h1v1h-1zM15 25h1v1h-1zM19 25h1v1h-1zM13 27h1v1h-1zM28 27h1v1h-1zM42 27h1v1h-1z"/><path fill="#515151" d="M11 1h1v1h-1zM0 2h2v1h-2zM33 2h1v1h-1zM8 3h1v1h-1zM15 3h1v1h-1zM13 4h1v1h-1zM3 5h1v1h-1zM8 5h1v1h-1zM11 5h1v1h-1zM20 6h1v1h-1zM24 6h1v1h-1zM38 7h1v1h-1zM11 8h1v1h-1zM16 9h1v1h-1zM34 10h1v1h-1zM38 10h1v1h-1zM11 11h1v1h-1zM10 12h1v1h-1zM9 13h1v1h-1zM35 13h1v1h-1zM16 15h1v1h-1zM39 15h1v1h-1zM14 16h1v1h-1zM22 16h1v1h-1zM31 17h1v1h-1zM33 17h1v1h-1zM36 17h1v1h-1zM7 20h1v1h-1zM34 20h1v1h-1zM21 22h2v1h-2zM30 25h1v1h-1zM4 26h1v1h-1zM39 26h1v1h-1zM33 28h1v1h-1zM42 28h1v1h-1z"/><path fill="#575757" d="M27 0h1v1h-1zM10 1h1v1h-1zM37 1h1v1h-1zM45 2h1v1h-1zM6 3h1v1h-1zM19 3h1v1h-1zM30 3h1v1h-1zM20 4h1v1h-1zM28 5h1v1h-1zM9 6h1v1h-1zM14 6h1v1h-1zM28 6h1v1h-1zM44 6h1v1h-1zM35 7h1v1h-1zM26 8h1v1h-1zM42 8h1v1h-1zM44 9h1v1h-1zM17 10h1v1h-1zM42 10h1v1h-1zM16 12h1v1h-1zM39 12h1v1h-1zM1 13h1v1h-1zM25 13h1v1h-1zM36 13h1v1h-1zM43 13h1v1h-1zM25 14h1v1h-1zM8 15h1v1h-1zM0 16h1v1h-1zM28 18h1v1h-1zM16 19h1v1h-1zM19 20h1v1h-1zM39 20h1v1h-1zM5 21h1v1h-1zM26 21h1v1h-1zM30 21h1v1h-1zM32 22h1v1h-1zM19 23h1v1h-1zM12 24h1v1h-1zM16 24h1v1h-1zM10 25h1v1h-1zM38 25h1v1h-1zM24 26h1v1h-1zM23 27h1v1h-1zM35 27h1v1h-1zM4 28h1v1h-1zM26 28h1v1h-1zM31 28h1v1h-1z"/><path fill="#5c5c5c" d="M10 0h1v1h-1zM39 0h1v1h-1zM6 4h1v1h-1zM44 4h1v1h-1zM0 5h1v1h-1zM4 6h1v1h-1zM25 6h1v1h-1zM30 6h1v1h-1zM38 6h2v1h-2zM14 7h2v1h-2zM23 7h1v1h-1zM27 7h1v1h-1zM44 7h1v1h-1zM3 8h1v1h-1zM16 8h1v1h-1zM13 11h1v1h-1zM26 11h1v1h-1zM37 12h1v1h-1zM0 13h1v1h-1zM29 13h1v1h-1zM22 14h1v1h-1zM23 15h1v1h-1zM28 15h1v1h-1zM33 15h1v1h-1zM15 16h1v1h-1zM19 16h1v1h-1zM36 16h1v1h-1zM20 17h1v1h-1zM4 18h1v1h-1zM42 19h1v1h-1zM46 19h1v1h-1zM4 20h1v1h-1zM44 20h1v1h-1zM17 21h1v1h-1zM43 21h1v1h-1zM0 26h2v1h-2zM9 26h1v1h-1zM27 27h1v1h-1zM39 27h1v1h-1zM41 27h1v1h-1z"/><path fill="#626262" d="M45 0h1v1h-1zM2 1h1v1h-1zM23 1h1v1h-1zM36 1h1v1h-1zM41 1h1v1h-1zM3 2h1v1h-1zM43 2h1v1h-1zM9 3h2v1h-2zM14 3h1v1h-1zM40 3h1v1h-1zM15 5h1v1h-1zM1 6h1v1h-1zM31 6h1v1h-1zM3 7h1v1h-1zM9 7h1v1h-1zM2 8h1v1h-1zM6 8h1v1h-1zM2 9h1v1h-1zM2 10h1v1h-1zM46 10h1v1h-1zM9 11h1v1h-1zM19 11h1v1h-1zM24 12h1v1h-1zM40 12h1v1h-1zM7 14h1v1h-1zM38 14h1v1h-1zM3 15h1v1h-1zM10 15h1v1h-1zM25 15h2v1h-2zM9 16h1v1h-1zM37 16h1v1h-1zM43 16h1v1h-1zM10 17h1v1h-1zM12 17h1v1h-1zM43 17h1v1h-1zM34 18h1v1h-1zM3 19h1v1h-1zM25 19h1v1h-1zM41 19h1v1h-1zM42 20h1v1h-1zM10 21h1v1h-1zM20 22h1v1h-1zM38 22h1v1h-1zM40 22h1v1h-1zM4 23h1v1h-1zM31 23h1v1h-1zM44 23h2v1h-2zM0 24h1v1h-1zM10 24h1v1h-1zM46 24h1v1h-1zM33 25h1v1h-1zM3 27h1v1h-1zM12 27h1v1h-1zM25 27h1v1h-1zM8 28h1v1h-1zM14 28h1v1h-1z"/><path fill="#676767" d="M1 0h1v1h-1zM18 0h1v1h-1zM18 1h1v1h-1zM40 1h1v1h-1zM21 3h1v1h-1zM43 4h1v1h-1zM46 4h1v1h-1zM26 5h1v1h-1zM30 5h1v1h-1zM10 6h1v1h-1zM22 7h1v1h-1zM24 7h1v1h-1zM0 8h1v1h-1zM15 8h1v1h-1zM38 8h1v1h-1zM41 8h1v1h-1zM6 9h1v1h-1zM10 9h1v1h-1zM31 9h1v1h-1zM14 10h1v1h-1zM21 10h1v1h-1zM27 10h1v1h-1zM29 10h1v1h-1zM40 10h1v1h-1zM34 11h1v1h-1zM13 12h1v1h-1zM35 12h1v1h-1zM38 12h1v1h-1zM34 13h1v1h-1zM38 13h1v1h-1zM4 14h1v1h-1zM13 14h1v1h-1zM24 14h1v1h-1zM2 15h1v1h-1zM13 16h1v1h-1zM26 16h1v1h-1zM32 16h1v1h-1zM22 18h1v1h-1zM5 19h1v1h-1zM45 19h1v1h-1zM20 21h1v1h-1zM15 22h1v1h-1zM45 22h1v1h-1zM27 23h1v1h-1zM30 23h1v1h-1zM17 24h1v1h-1zM0 25h1v1h-1zM9 25h1v1h-1zM35 25h1v1h-1zM18 26h1v1h-1zM22 26h1v1h-1zM30 26h1v1h-1zM30 27h1v1h-1zM2 28h1v1h-1zM18 28h1v1h-1z"/><path fill="#6d6d6d" d="M21 0h1v1h-1zM25 0h1v1h-1zM8 1h1v1h-1zM12 1h2v1h-2zM6 2h1v1h-1zM15 2h1v1h-1zM26 2h1v1h-1zM34 2h1v1h-1zM2 3h1v1h-1zM39 3h1v1h-1zM3 4h1v1h-1zM16 4h2v1h-2zM1 5h1v1h-1zM19 5h1v1h-1zM7 6h1v1h-1zM36 6h1v1h-1zM32 7h1v1h-1zM9 8h1v1h-1zM20 8h1v1h-1zM28 9h1v1h-1zM6 10h1v1h-1zM13 10h1v1h-1zM6 11h1v1h-1zM16 11h1v1h-1zM23 11h1v1h-1zM42 11h1v1h-1zM27 13h1v1h-1zM8 14h1v1h-1zM33 14h1v1h-1zM31 15h1v1h-1zM41 15h1v1h-1zM7 16h1v1h-1zM35 16h1v1h-1zM17 17h1v1h-1zM38 17h1v1h-1zM44 17h1v1h-1zM6 18h1v1h-1zM14 18h1v1h-1zM17 18h1v1h-1zM4 19h1v1h-1zM14 19h1v1h-1zM26 19h1v1h-1zM43 19h1v1h-1zM10 20h1v1h-1zM18 20h1v1h-1zM41 21h1v1h-1zM33 22h1v1h-1zM36 22h1v1h-1zM43 22h1v1h-1zM1 24h1v1h-1zM13 25h1v1h-1zM46 25h1v1h-1zM21 26h1v1h-1zM20 28h1v1h-1zM38 28h1v1h-1z"/><path fill="#727272" d="M26 0h1v1h-1zM32 1h1v1h-1zM38 1h1v1h-1zM17 2h1v1h-1zM21 2h1v1h-1zM36 2h2v1h-2zM5 3h1v1h-1zM26 3h1v1h-1zM29 3h1v1h-1zM5 4h1v1h-1zM8 4h1v1h-1zM33 4h1v1h-1zM37 5h1v1h-1zM5 6h1v1h-1zM29 7h1v1h-1zM37 7h1v1h-1zM8 8h1v1h-1zM17 8h1v1h-1zM27 9h1v1h-1zM22 10h1v1h-1zM21 11h1v1h-1zM35 11h1v1h-1zM40 11h1v1h-1zM30 12h1v1h-1zM33 12h1v1h-1zM12 13h1v1h-1zM15 13h1v1h-1zM28 14h1v1h-1zM46 14h1v1h-1zM17 15h1v1h-1zM8 16h1v1h-1zM20 16h1v1h-1zM0 17h1v1h-1zM21 17h1v1h-1zM0 18h1v1h-1zM16 18h1v1h-1zM21 18h1v1h-1zM32 18h1v1h-1zM15 19h1v1h-1zM24 19h1v1h-1zM37 19h1v1h-1zM35 20h1v1h-1zM41 20h1v1h-1zM46 20h1v1h-1zM14 21h1v1h-1zM11 22h1v1h-1zM16 22h1v1h-1zM16 23h1v1h-1zM25 23h1v1h-1zM40 23h1v1h-1zM11 24h1v1h-1zM24 24h1v1h-1zM31 24h1v1h-1zM16 25h1v1h-1zM8 26h1v1h-1zM14 26h1v1h-1zM10 27h1v1h-1zM15 28h1v1h-1zM37 28h1v1h-1z"/><path fill="#777777" d="M17 0h1v1h-1zM20 0h1v1h-1zM41 0h1v1h-1zM17 1h1v1h-1zM44 1h1v1h-1zM5 2h1v1h-1zM20 2h1v1h-1zM1 3h1v1h-1zM32 3h1v1h-1zM36 3h1v1h-1zM42 3h1v1h-1zM2 4h1v1h-1zM19 4h1v1h-1zM16 5h1v1h-1zM39 5h1v1h-1zM34 6h1v1h-1zM5 7h1v1h-1zM13 7h1v1h-1zM16 7h1v1h-1zM39 7h1v1h-1zM29 8h1v1h-1zM33 8h1v1h-1zM37 8h1v1h-1zM36 9h1v1h-1zM39 10h1v1h-1zM12 11h1v1h-1zM28 11h1v1h-1zM32 11h1v1h-1zM8 12h1v1h-1zM41 12h1v1h-1zM7 13h1v1h-1zM9 14h1v1h-1zM15 14h1v1h-1zM0 15h1v1h-1zM45 15h1v1h-1zM5 16h1v1h-1zM25 17h1v1h-1zM29 17h1v1h-1zM29 18h1v1h-1zM37 18h1v1h-1zM44 18h1v1h-1zM6 19h1v1h-1zM10 19h1v1h-1zM3 20h1v1h-1zM17 20h1v1h-1zM32 20h1v1h-1zM13 21h1v1h-1zM3 22h1v1h-1zM1 23h1v1h-1zM8 23h1v1h-1zM5 24h1v1h-1zM13 24h1v1h-1zM18 24h1v1h-1zM39 24h1v1h-1zM42 24h1v1h-1zM18 25h1v1h-1zM26 25h1v1h-1zM39 25h1v1h-1zM12 26h1v1h-1zM26 26h1v1h-1zM38 26h1v1h-1zM16 27h2v1h-2zM19 27h2v1h-2zM46 27h1v1h-1zM7 28h1v1h-1zM22 28h1v1h-1zM25 28h1v1h-1z"/><path fill="#7d7d7d" d="M5 0h1v1h-1zM29 0h1v1h-1zM33 0h1v1h-1zM19 1h1v1h-1zM25 1h1v1h-1zM27 1h1v1h-1zM42 1h1v1h-1zM40 2h1v1h-1zM7 3h1v1h-1zM12 3h1v1h-1zM37 3h1v1h-1zM7 4h1v1h-1zM21 5h1v1h-1zM23 5h3v1h-3zM32 5h1v1h-1zM36 5h1v1h-1zM11 7h1v1h-1zM20 7h1v1h-1zM18 8h1v1h-1zM25 8h1v1h-1zM7 9h1v1h-1zM11 9h1v1h-1zM20 9h2v1h-2zM25 9h1v1h-1zM40 9h1v1h-1zM43 9h1v1h-1zM9 10h1v1h-1zM12 10h1v1h-1zM30 10h1v1h-1zM20 11h1v1h-1zM18 12h1v1h-1zM23 12h1v1h-1zM27 12h1v1h-1zM17 13h1v1h-1zM0 14h1v1h-1zM12 14h1v1h-1zM4 15h2v1h-2zM7 15h1v1h-1zM25 16h1v1h-1zM13 17h1v1h-1zM16 17h1v1h-1zM39 17h1v1h-1zM2 18h1v1h-1zM12 18h1v1h-1zM26 18h1v1h-1zM41 18h1v1h-1zM39 19h1v1h-1zM6 20h1v1h-1zM21 20h1v1h-1zM23 20h1v1h-1zM33 20h1v1h-1zM7 21h1v1h-1zM9 21h1v1h-1zM23 21h1v1h-1zM28 21h1v1h-1zM8 22h1v1h-1zM13 22h1v1h-1zM39 22h1v1h-1zM14 23h1v1h-1zM20 23h1v1h-1zM9 24h1v1h-1zM35 24h1v1h-1zM40 25h1v1h-1zM43 25h1v1h-1zM6 26h1v1h-1zM17 26h1v1h-1zM34 26h1v1h-1zM5 27h1v1h-1zM8 27h1v1h-1zM24 27h1v1h-1zM38 27h1v1h-1zM0 28h1v1h-1zM44 28h1v1h-1z"/><path fill="#828282" d="M19 0h1v1h-1zM5 1h1v1h-1zM21 1h1v1h-1zM14 2h1v1h-1zM32 2h1v1h-1zM4 5h2v1h-2zM22 5h1v1h-1zM27 5h1v1h-1zM33 7h1v1h-1zM24 8h1v1h-1zM46 8h1v1h-1zM9 9h1v1h-1zM23 9h1v1h-1zM30 9h1v1h-1zM23 10h1v1h-1zM28 10h1v1h-1zM37 10h1v1h-1zM41 10h1v1h-1zM10 11h1v1h-1zM14 11h1v1h-1zM4 12h1v1h-1zM15 12h1v1h-1zM21 12h1v1h-1zM22 13h1v1h-1zM44 13h1v1h-1zM26 14h1v1h-1zM35 14h1v1h-1zM44 14h1v1h-1zM21 15h2v1h-2zM30 15h1v1h-1zM35 15h1v1h-1zM4 16h1v1h-1zM6 16h1v1h-1zM29 16h1v1h-1zM5 17h1v1h-1zM7 17h1v1h-1zM11 17h1v1h-1zM19 17h1v1h-1zM40 17h1v1h-1zM15 18h1v1h-1zM25 18h1v1h-1zM27 18h1v1h-1zM33 18h1v1h-1zM46 18h1v1h-1zM11 19h1v1h-1zM36 19h1v1h-1zM2 20h1v1h-1zM8 20h1v1h-1zM11 20h1v1h-1zM1 21h1v1h-1zM24 21h1v1h-1zM25 22h1v1h-1zM12 23h2v1h-2zM3 24h1v1h-1zM38 24h1v1h-1zM41 24h1v1h-1zM45 24h1v1h-1zM3 25h1v1h-1zM32 25h1v1h-1zM36 25h1v1h-1zM3 26h1v1h-1zM29 26h1v1h-1zM0 27h1v1h-1zM2 27h1v1h-1zM36 27h1v1h-1zM9 28h1v1h-1zM46 28h1v1h-1z"/><path fill="#888888" d="M9 0h1v1h-1zM16 0h1v1h-1zM37 0h1v1h-1zM0 1h1v1h-1zM20 1h1v1h-1zM39 1h1v1h-1zM10 2h1v1h-1zM16 2h1v1h-1zM27 2h1v1h-1zM29 2h1v1h-1zM41 2h1v1h-1zM34 3h1v1h-1zM43 3h1v1h-1zM45 3h1v1h-1zM0 4h1v1h-1zM14 4h1v1h-1zM26 4h1v1h-1zM45 4h1v1h-1zM2 5h1v1h-1zM7 5h1v1h-1zM10 5h1v1h-1zM41 5h1v1h-1zM0 6h1v1h-1zM11 6h1v1h-1zM37 6h1v1h-1zM6 7h1v1h-1zM40 7h2v1h-2zM46 7h1v1h-1zM5 9h1v1h-1zM22 9h1v1h-1zM32 9h1v1h-1zM35 9h1v1h-1zM15 10h1v1h-1zM1 11h1v1h-1zM5 11h1v1h-1zM24 11h1v1h-1zM39 11h1v1h-1zM9 12h1v1h-1zM22 12h1v1h-1zM25 12h1v1h-1zM34 12h1v1h-1zM45 12h1v1h-1zM19 14h1v1h-1zM21 14h1v1h-1zM23 14h1v1h-1zM29 14h1v1h-1zM19 15h1v1h-1zM34 15h1v1h-1zM43 15h1v1h-1zM11 16h1v1h-1zM38 16h1v1h-1zM42 16h1v1h-1zM23 18h1v1h-1zM1 19h1v1h-1zM38 19h1v1h-1zM29 20h1v1h-1zM31 20h1v1h-1zM36 20h1v1h-1zM25 21h1v1h-1zM37 21h1v1h-1zM4 22h1v1h-1zM7 22h1v1h-1zM26 22h1v1h-1zM30 22h1v1h-1zM2 24h1v1h-1zM7 24h2v1h-2zM36 24h1v1h-1zM7 25h1v1h-1zM21 25h1v1h-1zM24 25h1v1h-1zM13 26h1v1h-1zM31 26h1v1h-1zM44 26h1v1h-1zM31 27h1v1h-1zM19 28h1v1h-1zM36 28h1v1h-1zM43 28h1v1h-1z"/><path fill="#8d8d8d" d="M22 0h1v1h-1zM46 0h1v1h-1zM9 1h1v1h-1zM31 1h1v1h-1zM33 1h1v1h-1zM13 2h1v1h-1zM24 2h1v1h-1zM30 2h1v1h-1zM35 3h1v1h-1zM31 4h1v1h-1zM9 5h1v1h-1zM35 5h1v1h-1zM46 5h1v1h-1zM18 6h1v1h-1zM21 6h1v1h-1zM45 7h1v1h-1zM13 8h1v1h-1zM0 9h1v1h-1zM13 9h3v1h-3zM25 10h1v1h-1zM6 12h1v1h-1zM12 12h1v1h-1zM32 12h1v1h-1zM43 12h1v1h-1zM11 13h1v1h-1zM30 13h1v1h-1zM10 14h1v1h-1zM14 15h1v1h-1zM38 15h1v1h-1zM44 15h1v1h-1zM21 16h1v1h-1zM30 16h1v1h-1zM39 16h1v1h-1zM30 17h1v1h-1zM39 18h1v1h-1zM13 19h1v1h-1zM33 21h1v1h-1zM38 21h2v1h-2zM0 22h1v1h-1zM23 22h1v1h-1zM28 22h2v1h-2zM34 22h1v1h-1zM46 22h1v1h-1zM2 23h2v1h-2zM23 23h1v1h-1zM41 23h1v1h-1zM43 23h1v1h-1zM14 24h2v1h-2zM20 24h1v1h-1zM40 24h1v1h-1zM4 25h1v1h-1zM45 25h1v1h-1zM19 26h1v1h-1zM32 26h1v1h-1z"/><path fill="#929292" d="M3 0h1v1h-1zM7 0h1v1h-1zM38 0h1v1h-1zM42 0h1v1h-1zM44 0h1v1h-1zM4 1h1v1h-1zM22 1h1v1h-1zM28 1h1v1h-1zM34 1h1v1h-1zM22 2h1v1h-1zM35 2h1v1h-1zM0 3h1v1h-1zM4 3h1v1h-1zM24 4h1v1h-1zM28 4h1v1h-1zM40 4h1v1h-1zM31 5h1v1h-1zM45 5h1v1h-1zM12 6h1v1h-1zM15 6h1v1h-1zM17 6h1v1h-1zM19 6h1v1h-1zM41 6h1v1h-1zM45 6h1v1h-1zM4 7h1v1h-1zM31 8h2v1h-2zM35 8h1v1h-1zM4 10h1v1h-1zM11 10h1v1h-1zM32 10h1v1h-1zM17 11h1v1h-1zM1 12h1v1h-1zM5 12h1v1h-1zM20 12h1v1h-1zM3 13h1v1h-1zM18 13h1v1h-1zM32 13h1v1h-1zM42 13h1v1h-1zM34 14h1v1h-1zM1 15h1v1h-1zM9 15h1v1h-1zM24 15h1v1h-1zM12 16h1v1h-1zM45 16h1v1h-1zM32 17h1v1h-1zM42 17h1v1h-1zM13 18h1v1h-1zM18 18h1v1h-1zM20 18h1v1h-1zM8 19h1v1h-1zM12 19h1v1h-1zM12 21h1v1h-1zM5 22h1v1h-1zM42 22h1v1h-1zM10 23h1v1h-1zM24 23h1v1h-1zM26 23h1v1h-1zM21 24h1v1h-1zM28 24h1v1h-1zM33 24h1v1h-1zM5 25h1v1h-1zM17 25h1v1h-1zM31 25h1v1h-1zM41 25h1v1h-1zM44 25h1v1h-1zM4 27h1v1h-1zM6 27h1v1h-1zM9 27h1v1h-1zM32 27h1v1h-1zM12 28h1v1h-1zM24 28h1v1h-1z"/><path fill="#989898" d="M30 0h1v1h-1zM32 0h1v1h-1zM43 0h1v1h-1zM8 2h1v1h-1zM28 2h1v1h-1zM38 2h1v1h-1zM12 4h1v1h-1zM15 4h1v1h-1zM23 4h1v1h-1zM29 5h1v1h-1zM23 6h1v1h-1zM32 6h1v1h-1zM0 7h1v1h-1zM1 8h1v1h-1zM19 8h1v1h-1zM30 8h1v1h-1zM44 8h1v1h-1zM12 9h1v1h-1zM17 9h1v1h-1zM19 9h1v1h-1zM29 9h1v1h-1zM39 9h1v1h-1zM26 10h1v1h-1zM31 10h1v1h-1zM27 11h1v1h-1zM45 11h1v1h-1zM5 13h1v1h-1zM21 13h1v1h-1zM45 13h2v1h-2zM6 14h1v1h-1zM31 14h1v1h-1zM37 14h1v1h-1zM42 14h1v1h-1zM13 15h1v1h-1zM18 16h1v1h-1zM3 17h1v1h-1zM6 17h1v1h-1zM9 17h1v1h-1zM14 17h1v1h-1zM8 18h2v1h-2zM31 18h1v1h-1zM36 18h1v1h-1zM42 18h1v1h-1zM22 19h1v1h-1zM33 19h1v1h-1zM25 20h1v1h-1zM45 20h1v1h-1zM18 21h1v1h-1zM29 21h1v1h-1zM45 21h1v1h-1zM17 22h1v1h-1zM27 22h1v1h-1zM11 23h1v1h-1zM37 23h1v1h-1zM23 24h1v1h-1zM15 26h1v1h-1zM42 26h1v1h-1zM7 27h1v1h-1zM37 27h1v1h-1zM34 28h1v1h-1zM41 28h1v1h-1z"/><path fill="#9d9d9d" d="M13 0h1v1h-1zM7 1h1v1h-1zM15 1h1v1h-1zM19 2h1v1h-1zM20 3h1v1h-1zM33 3h1v1h-1zM10 4h1v1h-1zM37 4h2v1h-2zM13 5h1v1h-1zM43 5h1v1h-1zM33 6h1v1h-1zM42 6h1v1h-1zM8 7h1v1h-1zM26 7h1v1h-1zM43 7h1v1h-1zM45 9h1v1h-1zM5 10h1v1h-1zM29 11h1v1h-1zM41 11h1v1h-1zM11 12h1v1h-1zM19 13h1v1h-1zM37 13h1v1h-1zM18 14h1v1h-1zM30 14h1v1h-1zM39 14h1v1h-1zM41 14h1v1h-1zM11 15h1v1h-1zM3 16h1v1h-1zM10 16h1v1h-1zM2 17h1v1h-1zM4 17h1v1h-1zM9 19h1v1h-1zM17 19h1v1h-1zM44 19h1v1h-1zM38 20h1v1h-1zM16 21h1v1h-1zM31 21h1v1h-1zM6 22h1v1h-1zM12 22h1v1h-1zM37 22h1v1h-1zM39 23h1v1h-1zM6 24h1v1h-1zM29 24h1v1h-1zM43 24h1v1h-1zM16 26h1v1h-1zM23 26h1v1h-1zM17 28h1v1h-1zM28 28h2v1h-2zM32 28h1v1h-1zM45 28h1v1h-1z"/><path fill="#a3a3a3" d="M35 0h2v1h-2zM3 1h1v1h-1zM1 4h1v1h-1zM22 4h1v1h-1zM27 4h1v1h-1zM40 5h1v1h-1zM8 6h1v1h-1zM22 6h1v1h-1zM43 6h1v1h-1zM18 7h1v1h-1zM4 9h1v1h-1zM46 9h1v1h-1zM18 10h1v1h-1zM24 10h1v1h-1zM30 11h1v1h-1zM46 11h1v1h-1zM3 12h1v1h-1zM28 12h1v1h-1zM36 12h1v1h-1zM8 13h1v1h-1zM17 14h1v1h-1zM6 15h1v1h-1zM42 15h1v1h-1zM44 16h1v1h-1zM26 17h1v1h-1zM28 17h1v1h-1zM1 18h1v1h-1zM5 18h1v1h-1zM21 19h1v1h-1zM1 20h1v1h-1zM16 20h1v1h-1zM43 20h1v1h-1zM21 21h1v1h-1zM35 23h1v1h-1zM27 25h1v1h-1zM45 26h1v1h-1zM11 27h1v1h-1zM18 27h1v1h-1zM40 27h1v1h-1zM11 28h1v1h-1z"/><path fill="#a8a8a8" d="M8 0h1v1h-1zM12 0h1v1h-1zM28 0h1v1h-1zM40 0h1v1h-1zM30 1h1v1h-1zM9 2h1v1h-1zM23 2h1v1h-1zM25 2h1v1h-1zM31 2h1v1h-1zM44 2h1v1h-1zM11 3h1v1h-1zM24 3h1v1h-1zM4 4h1v1h-1zM21 4h1v1h-1zM25 4h1v1h-1zM17 7h1v1h-1zM36 7h1v1h-1zM34 8h1v1h-1zM18 9h1v1h-1zM8 10h1v1h-1zM43 10h1v1h-1zM15 11h1v1h-1zM18 11h1v1h-1zM33 11h1v1h-1zM0 12h1v1h-1zM29 12h1v1h-1zM26 13h1v1h-1zM2 14h2v1h-2zM27 15h1v1h-1zM36 15h1v1h-1zM34 16h1v1h-1zM8 17h1v1h-1zM22 17h1v1h-1zM3 18h1v1h-1zM0 19h1v1h-1zM2 19h1v1h-1zM18 19h1v1h-1zM15 20h1v1h-1zM37 20h1v1h-1zM6 21h1v1h-1zM32 21h1v1h-1zM34 21h2v1h-2zM9 22h1v1h-1zM44 22h1v1h-1zM38 23h1v1h-1zM42 23h1v1h-1zM37 25h1v1h-1zM25 26h1v1h-1zM37 26h1v1h-1zM40 26h1v1h-1zM14 27h1v1h-1zM22 27h1v1h-1zM34 27h1v1h-1zM16 28h1v1h-1z"/><path fill="#aeaeae" d="M1 1h1v1h-1zM26 1h1v1h-1zM29 1h1v1h-1zM12 2h1v1h-1zM41 3h1v1h-1zM9 4h1v1h-1zM30 4h1v1h-1zM39 4h1v1h-1zM34 5h1v1h-1zM26 6h1v1h-1zM40 6h1v1h-1zM46 6h1v1h-1zM10 7h1v1h-1zM28 7h1v1h-1zM31 7h1v1h-1zM12 8h1v1h-1zM36 8h1v1h-1zM37 9h1v1h-1zM7 11h1v1h-1zM17 12h1v1h-1zM33 13h1v1h-1zM1 14h1v1h-1zM27 14h1v1h-1zM40 14h1v1h-1zM20 15h1v1h-1zM24 16h1v1h-1zM33 16h1v1h-1zM41 17h1v1h-1zM45 18h1v1h-1zM7 19h1v1h-1zM32 19h1v1h-1zM40 19h1v1h-1zM5 20h1v1h-1zM27 20h1v1h-1zM0 21h1v1h-1zM36 21h1v1h-1zM40 21h1v1h-1zM14 22h1v1h-1zM31 22h1v1h-1zM9 23h1v1h-1zM17 23h1v1h-1zM4 24h1v1h-1zM44 24h1v1h-1zM43 26h1v1h-1zM26 27h1v1h-1zM43 27h2v1h-2zM3 28h1v1h-1z"/><path fill="#b3b3b3" d="M14 0h1v1h-1zM11 2h1v1h-1zM42 2h1v1h-1zM13 3h1v1h-1zM18 3h1v1h-1zM17 5h1v1h-1zM16 6h1v1h-1zM19 7h1v1h-1zM26 9h1v1h-1zM4 11h1v1h-1zM7 12h1v1h-1zM44 12h1v1h-1zM10 13h1v1h-1zM2 16h1v1h-1zM24 17h1v1h-1zM45 17h1v1h-1zM19 18h1v1h-1zM29 23h1v1h-1zM34 23h1v1h-1zM22 24h1v1h-1zM27 24h1v1h-1zM1 25h1v1h-1zM23 25h1v1h-1zM25 25h1v1h-1zM2 26h1v1h-1zM28 26h1v1h-1zM36 26h1v1h-1zM46 26h1v1h-1zM1 27h1v1h-1zM29 27h1v1h-1zM5 28h1v1h-1z"/><path fill="#b8b8b8" d="M24 1h1v1h-1zM18 2h1v1h-1zM2 6h1v1h-1zM1 9h1v1h-1zM0 10h1v1h-1zM2 11h2v1h-2zM41 13h1v1h-1zM18 15h1v1h-1zM32 15h1v1h-1zM16 16h1v1h-1zM46 17h1v1h-1zM35 19h1v1h-1zM42 21h1v1h-1zM28 23h1v1h-1zM19 24h1v1h-1zM30 24h1v1h-1zM20 25h1v1h-1zM22 25h1v1h-1zM7 26h1v1h-1zM11 26h1v1h-1zM27 26h1v1h-1z"/><path fill="#bebebe" d="M45 1h1v1h-1zM7 2h1v1h-1zM22 3h1v1h-1zM46 3h1v1h-1zM20 5h1v1h-1zM6 6h1v1h-1zM29 6h1v1h-1zM10 8h1v1h-1zM21 8h2v1h-2zM40 8h1v1h-1zM2 12h1v1h-1zM20 13h1v1h-1zM28 13h1v1h-1zM31 13h1v1h-1zM39 13h1v1h-1zM16 14h1v1h-1zM27 16h1v1h-1zM18 17h1v1h-1zM35 17h1v1h-1zM14 20h1v1h-1zM22 23h1v1h-1zM30 28h1v1h-1z"/><path fill="#c3c3c3" d="M14 1h1v1h-1zM16 3h1v1h-1zM41 4h1v1h-1zM6 5h1v1h-1zM18 5h1v1h-1zM38 5h1v1h-1zM3 6h1v1h-1zM33 9h1v1h-1zM10 10h1v1h-1zM37 15h1v1h-1zM40 18h1v1h-1zM9 20h1v1h-1zM20 20h1v1h-1zM26 20h1v1h-1zM8 21h1v1h-1zM15 23h1v1h-1zM36 23h1v1h-1zM41 26h1v1h-1z"/><path fill="#c9c9c9" d="M15 0h1v1h-1zM6 1h1v1h-1zM4 2h1v1h-1zM31 3h1v1h-1zM8 9h1v1h-1zM34 9h1v1h-1zM22 11h1v1h-1zM43 11h1v1h-1zM14 12h1v1h-1zM14 13h1v1h-1zM36 14h1v1h-1zM43 18h1v1h-1zM19 19h1v1h-1zM18 22h1v1h-1zM41 22h1v1h-1zM25 24h1v1h-1zM33 26h1v1h-1z"/><path fill="#cecece" d="M23 0h1v1h-1zM23 3h1v1h-1zM35 10h1v1h-1zM31 12h1v1h-1zM42 12h1v1h-1zM2 13h1v1h-1zM1 16h1v1h-1zM44 21h1v1h-1zM6 28h1v1h-1z"/><path fill="#d4d4d4" d="M28 3h1v1h-1zM34 4h1v1h-1zM44 10h1v1h-1zM24 13h1v1h-1zM28 16h1v1h-1zM23 17h1v1h-1zM23 28h1v1h-1z"/><path fill="#d9d9d9" d="M34 7h1v1h-1zM23 13h1v1h-1zM15 15h1v1h-1zM29 15h1v1h-1zM34 24h1v1h-1z"/><path fill="#dedede" d="M24 20h1v1h-1z"/><path fill="#e4e4e4" d="M31 11h1v1h-1zM40 16h1v1h-1z"/><path fill="#e9e9e9" d="M25 7h1v1h-1zM37 11h1v1h-1zM17 16h1v1h-1zM31 16h1v1h-1zM23 19h1v1h-1zM15 21h1v1h-1zM46 21h1v1h-1zM35 22h1v1h-1z"/><path fill="#efefef" d="M42 4h1v1h-1zM34 25h1v1h-1zM10 26h1v1h-1z"/><path fill="#f4f4f4" d="M6 13h1v1h-1z"/><path fill="#ffffff" d="M25 3h1v1h-1zM27 3h1v1h-1zM14 5h1v1h-1zM14 8h1v1h-1zM3 10h1v1h-1zM8 11h1v1h-1zM46 12h1v1h-1zM45 14h1v1h-1zM46 15h1v1h-1zM41 16h1v1h-1zM15 17h1v1h-1zM38 18h1v1h-1zM24 22h1v1h-1zM21 23h1v1h-1zM46 23h1v1h-1zM12 25h1v1h-1zM35 28h1v1h-1z"/></pattern><linearGradient id="gC" x1="0" y1="0" x2="0" y2="1"><stop offset="0.000" stop-color="#ff0000"/><stop offset="0.083" stop-color="#ff0000"/><stop offset="0.167" stop-color="#ff4124"/><stop offset="0.250" stop-color="#ff7b5a"/><stop offset="0.333" stop-color="#ffa98f"/><stop offset="0.417" stop-color="#ffd5c6"/><stop offset="0.500" stop-color="#ffffff"/><stop offset="0.583" stop-color="#e0cbff"/><stop offset="0.667" stop-color="#bd98ff"/><stop offset="0.750" stop-color="#9265ff"/><stop offset="0.833" stop-color="#542eff"/><stop offset="0.917" stop-color="#0000ff"/><stop offset="1.000" stop-color="#0000ff"/></linearGradient><linearGradient id="gI" x1="0" y1="0" x2="0" y2="1"><stop offset="0.000" stop-color="#0570b0"/><stop offset="0.083" stop-color="#2979b6"/><stop offset="0.167" stop-color="#3c83bc"/><stop offset="0.250" stop-color="#4c8cc2"/><stop offset="0.333" stop-color="#5b96c8"/><stop offset="0.417" stop-color="#689fcf"/><stop offset="0.500" stop-color="#75a9d5"/><stop offset="0.583" stop-color="#81b3db"/><stop offset="0.667" stop-color="#8ebde1"/><stop offset="0.750" stop-color="#9ac8e7"/><stop offset="0.833" stop-color="#a5d2ee"/><stop offset="0.917" stop-color="#b1dcf4"/><stop offset="1.000" stop-color="#bde7fa"/></linearGradient><linearGradient id="gM" x1="0" y1="0" x2="0" y2="1"><stop offset="0.000" stop-color="#6a1b9a"/><stop offset="0.083" stop-color="#752ca1"/><stop offset="0.167" stop-color="#7f3ba7"/><stop offset="0.250" stop-color="#8a49ae"/><stop offset="0.333" stop-color="#9456b5"/><stop offset="0.417" stop-color="#9e64bb"/><stop offset="0.500" stop-color="#a871c2"/><stop offset="0.583" stop-color="#b27fc9"/><stop offset="0.667" stop-color="#bc8ccf"/><stop offset="0.750" stop-color="#c69ad6"/><stop offset="0.833" stop-color="#d0a7dd"/><stop offset="0.917" stop-color="#d9b5e3"/><stop offset="1.000" stop-color="#e3c3ea"/></linearGradient><filter id="fE" x="0" y="0" width="1" height="1" filterUnits="objectBoundingBox" color-interpolation-filters="sRGB"><feComponentTransfer><feFuncR type="table" tableValues="0.063 0.063 0.063 0.063 0.063 0.063 0.063 0.063 0.063 0.063 0.063 0.063 0.063 0.063 0.063 0.083 0.118 0.152 0.186 0.221 0.234 0.243 0.252 0.26 0.264 0.268 0.273 0.26 0.236 0.212 0.188 0.264 0.34 0.416 0.486 0.557 0.627 0.681 0.735 0.788 0.812 0.835 0.858 0.882 0.895 0.907 0.918 0.93 0.941 0.941 0.941 0.941 0.941 0.941 0.941 0.941 0.941 0.941 0.941 0.941 0.941"/><feFuncG type="table" tableValues="0.063 0.063 0.063 0.063 0.063 0.063 0.063 0.063 0.063 0.063 0.063 0.063 0.063 0.063 0.063 0.077 0.101 0.124 0.148 0.172 0.184 0.194 0.204 0.214 0.222 0.231 0.24 0.238 0.229 0.22 0.212 0.271 0.329 0.388 0.443 0.498 0.553 0.593 0.634 0.675 0.695 0.716 0.736 0.757 0.77 0.781 0.793 0.804 0.816 0.816 0.816 0.816 0.816 0.816 0.816 0.816 0.816 0.816 0.816 0.816 0.816"/><feFuncB type="table" tableValues="0.941 0.941 0.941 0.941 0.941 0.941 0.941 0.941 0.941 0.941 0.941 0.941 0.941 0.941 0.941 0.929 0.91 0.89 0.871 0.851 0.819 0.784 0.749 0.708 0.638 0.568 0.498 0.433 0.371 0.309 0.247 0.248 0.25 0.251 0.248 0.246 0.243 0.235 0.227 0.22 0.21 0.201 0.192 0.182 0.171 0.16 0.148 0.137 0.125 0.125 0.125 0.125 0.125 0.125 0.125 0.125 0.125 0.125 0.125 0.125 0.125"/><feFuncA type="linear" slope="0" intercept="1"/></feComponentTransfer><feGaussianBlur stdDeviation="0.7 0.35"/><feComponentTransfer><feFuncA type="linear" slope="0" intercept="1"/></feComponentTransfer></filter><pattern id="het0" patternUnits="userSpaceOnUse" width="53" height="7" x="23" y="3"><path fill="#0b0b0b" d="M38 4h1v1h-1z"/><path fill="#212121" d="M12 5h1v1h-1z"/><path fill="#262626" d="M26 0h1v1h-1z"/><path fill="#313131" d="M20 2h1v1h-1zM35 4h1v1h-1z"/><path fill="#363636" d="M18 1h1v1h-1zM46 1h1v1h-1zM17 2h1v1h-1zM1 4h1v1h-1z"/><path fill="#3c3c3c" d="M18 0h1v1h-1zM20 0h1v1h-1zM37 4h1v1h-1zM48 6h1v1h-1z"/><path fill="#414141" d="M45 1h1v1h-1zM22 2h1v1h-1zM7 3h1v1h-1zM48 3h1v1h-1zM25 5h1v1h-1zM46 6h1v1h-1z"/><path fill="#474747" d="M30 0h1v1h-1zM45 0h1v1h-1zM27 2h1v1h-1zM0 4h1v1h-1zM10 4h1v1h-1zM51 5h1v1h-1z"/><path fill="#4c4c4c" d="M50 2h1v1h-1zM4 3h1v1h-1zM31 3h1v1h-1zM7 4h1v1h-1zM23 4h1v1h-1zM27 4h1v1h-1zM49 6h1v1h-1z"/><path fill="#515151" d="M16 0h1v1h-1zM19 0h1v1h-1zM22 0h1v1h-1zM42 0h1v1h-1zM15 1h1v1h-1zM43 1h1v1h-1zM39 2h1v1h-1zM16 3h1v1h-1zM41 3h1v1h-1zM3 5h1v1h-1zM6 5h1v1h-1zM16 6h1v1h-1zM27 6h1v1h-1z"/><path fill="#575757" d="M51 0h1v1h-1zM10 1h1v1h-1zM32 1h1v1h-1zM18 2h1v1h-1zM15 3h1v1h-1zM47 3h1v1h-1zM42 4h1v1h-1zM16 5h1v1h-1zM44 5h1v1h-1zM17 6h1v1h-1z"/><path fill="#5c5c5c" d="M5 0h1v1h-1zM13 0h1v1h-1zM32 0h1v1h-1zM6 2h1v1h-1zM9 2h1v1h-1zM33 2h1v1h-1zM1 3h1v1h-1zM50 3h1v1h-1zM9 4h1v1h-1zM14 4h1v1h-1zM16 4h1v1h-1zM43 4h1v1h-1zM52 4h1v1h-1zM9 6h1v1h-1zM14 6h1v1h-1zM31 6h1v1h-1z"/><path fill="#626262" d="M3 0h1v1h-1zM33 0h1v1h-1zM35 0h1v1h-1zM16 1h1v1h-1zM48 1h1v1h-1zM51 1h1v1h-1zM11 2h1v1h-1zM24 2h1v1h-1zM37 2h1v1h-1zM51 2h1v1h-1zM6 4h1v1h-1zM17 4h1v1h-1zM19 4h1v1h-1zM0 6h1v1h-1zM2 6h1v1h-1zM19 6h1v1h-1zM32 6h1v1h-1z"/><path fill="#676767" d="M9 0h1v1h-1zM48 0h1v1h-1zM6 1h1v1h-1zM52 1h1v1h-1zM38 2h1v1h-1zM44 2h1v1h-1zM0 3h1v1h-1zM6 3h1v1h-1zM11 3h1v1h-1zM15 4h1v1h-1zM36 4h1v1h-1zM1 5h1v1h-1zM39 5h1v1h-1z"/><path fill="#6d6d6d" d="M8 0h1v1h-1zM17 0h1v1h-1zM27 0h1v1h-1zM31 0h1v1h-1zM38 0h1v1h-1zM8 1h1v1h-1zM11 1h1v1h-1zM19 1h1v1h-1zM15 2h1v1h-1zM35 2h1v1h-1zM46 2h1v1h-1zM13 3h1v1h-1zM18 3h1v1h-1zM22 3h1v1h-1zM30 3h1v1h-1zM28 4h1v1h-1zM39 4h1v1h-1zM9 5h1v1h-1zM23 5h1v1h-1zM38 5h1v1h-1zM6 6h1v1h-1zM26 6h1v1h-1zM33 6h1v1h-1z"/><path fill="#727272" d="M4 0h1v1h-1zM23 1h2v1h-2zM27 1h1v1h-1zM34 1h1v1h-1zM39 1h1v1h-1zM47 1h1v1h-1zM45 2h1v1h-1zM48 2h1v1h-1zM21 3h1v1h-1zM39 3h1v1h-1zM24 5h1v1h-1zM43 5h1v1h-1zM47 5h1v1h-1zM5 6h1v1h-1z"/><path fill="#777777" d="M2 0h1v1h-1zM21 0h1v1h-1zM25 0h1v1h-1zM1 1h1v1h-1zM12 1h1v1h-1zM25 1h1v1h-1zM28 1h1v1h-1zM31 1h1v1h-1zM2 2h2v1h-2zM31 2h2v1h-2zM41 2h1v1h-1zM49 2h1v1h-1zM5 3h1v1h-1zM24 3h1v1h-1zM4 4h1v1h-1zM8 4h1v1h-1zM32 4h1v1h-1zM17 5h2v1h-2zM32 5h2v1h-2zM48 5h2v1h-2zM52 5h1v1h-1zM12 6h2v1h-2zM25 6h1v1h-1zM35 6h1v1h-1zM38 6h1v1h-1z"/><path fill="#7d7d7d" d="M14 0h1v1h-1zM28 0h1v1h-1zM36 0h1v1h-1zM39 0h1v1h-1zM3 1h1v1h-1zM20 1h1v1h-1zM30 1h1v1h-1zM33 1h1v1h-1zM37 1h1v1h-1zM41 1h1v1h-1zM7 2h1v1h-1zM16 2h1v1h-1zM30 2h1v1h-1zM36 2h1v1h-1zM9 3h1v1h-1zM14 3h1v1h-1zM20 3h1v1h-1zM25 3h1v1h-1zM34 3h1v1h-1zM51 3h1v1h-1zM12 4h1v1h-1zM25 4h2v1h-2zM30 4h1v1h-1zM34 4h1v1h-1zM47 4h1v1h-1zM4 5h2v1h-2zM14 5h1v1h-1zM21 5h1v1h-1zM37 5h1v1h-1zM45 5h1v1h-1zM8 6h1v1h-1zM39 6h1v1h-1zM41 6h1v1h-1zM52 6h1v1h-1z"/><path fill="#828282" d="M0 0h1v1h-1zM6 0h1v1h-1zM12 0h1v1h-1zM29 0h1v1h-1zM40 0h2v1h-2zM43 0h1v1h-1zM47 0h1v1h-1zM52 0h1v1h-1zM9 1h1v1h-1zM8 2h1v1h-1zM14 2h1v1h-1zM26 2h1v1h-1zM43 2h1v1h-1zM47 2h1v1h-1zM10 3h1v1h-1zM26 3h1v1h-1zM3 4h1v1h-1zM5 4h1v1h-1zM31 4h1v1h-1zM41 4h1v1h-1zM46 4h1v1h-1zM48 4h1v1h-1zM15 5h1v1h-1zM30 5h1v1h-1zM34 5h1v1h-1zM42 5h1v1h-1zM50 5h1v1h-1zM28 6h1v1h-1zM45 6h1v1h-1z"/><path fill="#888888" d="M1 0h1v1h-1zM23 0h2v1h-2zM7 1h1v1h-1zM49 1h1v1h-1zM0 2h1v1h-1zM10 2h1v1h-1zM13 2h1v1h-1zM19 3h1v1h-1zM2 4h1v1h-1zM18 4h1v1h-1zM45 4h1v1h-1zM51 4h1v1h-1zM13 5h1v1h-1zM31 5h1v1h-1zM7 6h1v1h-1zM22 6h1v1h-1zM34 6h1v1h-1zM36 6h2v1h-2zM40 6h1v1h-1z"/><path fill="#8d8d8d" d="M11 0h1v1h-1zM29 1h1v1h-1zM44 1h1v1h-1zM19 2h1v1h-1zM2 3h1v1h-1zM12 3h1v1h-1zM29 3h1v1h-1zM13 4h1v1h-1zM20 4h2v1h-2zM11 5h1v1h-1zM20 5h1v1h-1zM15 6h1v1h-1zM47 6h1v1h-1z"/><path fill="#929292" d="M10 0h1v1h-1zM0 1h1v1h-1zM42 1h1v1h-1zM1 2h1v1h-1zM5 2h1v1h-1zM35 3h1v1h-1zM43 3h1v1h-1zM11 4h1v1h-1zM50 4h1v1h-1zM0 5h1v1h-1zM36 5h1v1h-1zM41 5h1v1h-1zM3 6h1v1h-1zM10 6h1v1h-1zM23 6h1v1h-1zM42 6h1v1h-1zM44 6h1v1h-1z"/><path fill="#989898" d="M15 0h1v1h-1zM2 1h1v1h-1zM4 1h1v1h-1zM17 1h1v1h-1zM22 1h1v1h-1zM36 1h1v1h-1zM38 1h1v1h-1zM4 2h1v1h-1zM23 2h1v1h-1zM8 3h1v1h-1zM23 3h1v1h-1zM28 3h1v1h-1zM29 4h1v1h-1zM29 5h1v1h-1zM51 6h1v1h-1z"/><path fill="#9d9d9d" d="M37 0h1v1h-1zM46 0h1v1h-1zM50 0h1v1h-1zM13 1h1v1h-1zM21 2h1v1h-1zM25 2h1v1h-1zM36 3h2v1h-2zM42 3h1v1h-1zM44 3h1v1h-1zM49 3h1v1h-1zM52 3h1v1h-1zM24 4h1v1h-1zM49 4h1v1h-1zM10 5h1v1h-1zM46 5h1v1h-1zM1 6h1v1h-1zM50 6h1v1h-1z"/><path fill="#a3a3a3" d="M34 0h1v1h-1zM40 1h1v1h-1zM12 2h1v1h-1zM42 2h1v1h-1zM32 3h2v1h-2zM38 3h1v1h-1zM27 5h2v1h-2zM30 6h1v1h-1z"/><path fill="#a8a8a8" d="M14 1h1v1h-1zM35 1h1v1h-1zM34 2h1v1h-1zM27 3h1v1h-1zM33 4h1v1h-1zM44 4h1v1h-1zM2 5h1v1h-1zM19 5h1v1h-1zM20 6h1v1h-1z"/><path fill="#aeaeae" d="M7 0h1v1h-1zM44 0h1v1h-1zM21 1h1v1h-1zM28 2h1v1h-1zM40 2h1v1h-1zM17 3h1v1h-1zM40 4h1v1h-1zM18 6h1v1h-1z"/><path fill="#b3b3b3" d="M5 1h1v1h-1zM29 2h1v1h-1zM3 3h1v1h-1zM40 3h1v1h-1zM46 3h1v1h-1zM8 5h1v1h-1zM35 5h1v1h-1zM29 6h1v1h-1z"/><path fill="#b8b8b8" d="M26 1h1v1h-1zM52 2h1v1h-1zM22 5h1v1h-1zM26 5h1v1h-1zM40 5h1v1h-1zM4 6h1v1h-1zM21 6h1v1h-1z"/><path fill="#bebebe" d="M7 5h1v1h-1z"/><path fill="#c3c3c3" d="M45 3h1v1h-1zM24 6h1v1h-1zM43 6h1v1h-1z"/><path fill="#c9c9c9" d="M49 0h1v1h-1zM22 4h1v1h-1zM11 6h1v1h-1z"/><path fill="#cecece" d="M50 1h1v1h-1z"/></pattern><pattern id="het1" patternUnits="userSpaceOnUse" width="41" height="5" x="31" y="3"><path fill="#1b1b1b" d="M0 3h1v1h-1z"/><path fill="#262626" d="M37 4h1v1h-1z"/><path fill="#363636" d="M3 4h1v1h-1z"/><path fill="#3c3c3c" d="M37 0h1v1h-1zM23 2h1v1h-1zM12 3h1v1h-1z"/><path fill="#414141" d="M26 0h1v1h-1zM5 2h1v1h-1zM8 2h1v1h-1z"/><path fill="#474747" d="M8 1h1v1h-1zM25 1h1v1h-1zM11 2h1v1h-1zM32 2h1v1h-1zM19 4h1v1h-1zM34 4h1v1h-1z"/><path fill="#4c4c4c" d="M21 0h1v1h-1zM38 2h1v1h-1zM6 3h1v1h-1zM29 4h1v1h-1zM39 4h1v1h-1z"/><path fill="#515151" d="M20 0h1v1h-1zM11 1h1v1h-1zM22 1h1v1h-1zM34 2h1v1h-1zM39 3h1v1h-1zM0 4h1v1h-1zM40 4h1v1h-1z"/><path fill="#575757" d="M6 0h1v1h-1zM9 0h1v1h-1zM11 0h1v1h-1zM33 0h1v1h-1zM2 1h1v1h-1zM40 1h1v1h-1zM7 2h1v1h-1zM12 2h1v1h-1zM14 2h1v1h-1zM22 2h1v1h-1zM2 3h1v1h-1zM4 3h1v1h-1zM17 3h1v1h-1zM13 4h1v1h-1z"/><path fill="#5c5c5c" d="M34 0h1v1h-1zM14 1h1v1h-1zM21 1h1v1h-1zM28 1h1v1h-1zM21 2h1v1h-1zM31 2h1v1h-1zM33 2h1v1h-1zM37 2h1v1h-1zM7 3h1v1h-1zM28 3h1v1h-1zM34 3h1v1h-1zM9 4h1v1h-1z"/><path fill="#626262" d="M5 0h1v1h-1zM27 0h1v1h-1zM19 1h1v1h-1zM32 1h1v1h-1zM3 2h1v1h-1zM16 2h1v1h-1zM11 3h1v1h-1zM23 3h1v1h-1z"/><path fill="#676767" d="M1 0h1v1h-1zM6 1h1v1h-1zM27 1h1v1h-1zM35 1h1v1h-1zM13 2h1v1h-1zM17 2h1v1h-1zM19 2h1v1h-1zM26 3h1v1h-1zM33 3h1v1h-1zM1 4h1v1h-1zM24 4h1v1h-1z"/><path fill="#6d6d6d" d="M15 0h1v1h-1zM15 1h2v1h-2zM18 1h1v1h-1zM30 1h1v1h-1zM25 3h1v1h-1zM36 3h1v1h-1zM11 4h1v1h-1z"/><path fill="#727272" d="M0 0h1v1h-1zM18 0h2v1h-2zM30 0h1v1h-1zM0 1h1v1h-1zM9 1h1v1h-1zM20 1h1v1h-1zM25 2h1v1h-1zM39 2h1v1h-1zM10 3h1v1h-1zM13 3h1v1h-1zM7 4h2v1h-2zM17 4h1v1h-1z"/><path fill="#777777" d="M8 0h1v1h-1zM23 0h1v1h-1zM1 1h1v1h-1zM4 1h1v1h-1zM34 1h1v1h-1zM37 1h1v1h-1zM5 3h1v1h-1zM32 3h1v1h-1zM35 3h1v1h-1zM2 4h1v1h-1zM6 4h1v1h-1zM10 4h1v1h-1zM25 4h1v1h-1z"/><path fill="#7d7d7d" d="M7 0h1v1h-1zM17 0h1v1h-1zM17 1h1v1h-1zM23 1h1v1h-1zM39 1h1v1h-1zM0 2h1v1h-1zM4 2h1v1h-1zM9 2h1v1h-1zM27 2h1v1h-1zM14 3h3v1h-3zM18 3h2v1h-2zM22 3h1v1h-1zM24 3h1v1h-1zM27 3h1v1h-1zM30 3h1v1h-1zM38 3h1v1h-1zM16 4h1v1h-1zM36 4h1v1h-1z"/><path fill="#828282" d="M10 0h1v1h-1zM26 1h1v1h-1zM1 2h1v1h-1zM29 2h1v1h-1zM40 3h1v1h-1zM4 4h2v1h-2zM12 4h1v1h-1zM15 4h1v1h-1z"/><path fill="#888888" d="M4 0h1v1h-1zM24 0h1v1h-1zM28 0h1v1h-1zM32 0h1v1h-1zM7 1h1v1h-1zM26 2h1v1h-1zM28 2h1v1h-1zM31 3h1v1h-1zM37 3h1v1h-1zM14 4h1v1h-1zM21 4h2v1h-2zM28 4h1v1h-1zM33 4h1v1h-1z"/><path fill="#8d8d8d" d="M29 0h1v1h-1zM13 1h1v1h-1zM33 1h1v1h-1zM15 2h1v1h-1zM20 2h1v1h-1zM23 4h1v1h-1zM27 4h1v1h-1zM38 4h1v1h-1z"/><path fill="#929292" d="M16 0h1v1h-1zM36 0h1v1h-1zM39 0h1v1h-1zM36 1h1v1h-1zM38 1h1v1h-1zM18 2h1v1h-1zM1 3h1v1h-1zM29 3h1v1h-1zM18 4h1v1h-1zM20 4h1v1h-1zM30 4h1v1h-1z"/><path fill="#989898" d="M2 0h1v1h-1zM6 2h1v1h-1zM35 2h1v1h-1zM26 4h1v1h-1z"/><path fill="#9d9d9d" d="M22 0h1v1h-1zM35 0h1v1h-1zM24 1h1v1h-1zM29 1h1v1h-1zM36 2h1v1h-1zM9 3h1v1h-1z"/><path fill="#a3a3a3" d="M13 0h1v1h-1zM25 0h1v1h-1zM31 0h1v1h-1zM10 1h1v1h-1zM2 2h1v1h-1zM3 3h1v1h-1zM32 4h1v1h-1zM35 4h1v1h-1z"/><path fill="#a8a8a8" d="M12 0h1v1h-1zM14 0h1v1h-1zM12 1h1v1h-1zM10 2h1v1h-1zM31 4h1v1h-1z"/><path fill="#aeaeae" d="M38 0h1v1h-1zM40 0h1v1h-1zM20 3h1v1h-1z"/><path fill="#b3b3b3" d="M31 1h1v1h-1zM40 2h1v1h-1zM8 3h1v1h-1z"/><path fill="#b8b8b8" d="M5 1h1v1h-1z"/><path fill="#c3c3c3" d="M24 2h1v1h-1zM30 2h1v1h-1zM21 3h1v1h-1z"/><path fill="#cecece" d="M3 0h1v1h-1z"/><path fill="#d9d9d9" d="M3 1h1v1h-1z"/></pattern><linearGradient id="gE" x1="0" y1="0" x2="0" y2="1"><stop offset="0.000" stop-color="#ffd700"/><stop offset="0.083" stop-color="#d9b924"/><stop offset="0.167" stop-color="#b49b31"/><stop offset="0.250" stop-color="#907f37"/><stop offset="0.333" stop-color="#6d6439"/><stop offset="0.417" stop-color="#4b4a3a"/><stop offset="0.500" stop-color="#263238"/><stop offset="0.583" stop-color="#303156"/><stop offset="0.667" stop-color="#372f75"/><stop offset="0.750" stop-color="#392b96"/><stop offset="0.833" stop-color="#3625b8"/><stop offset="0.917" stop-color="#2a1adb"/><stop offset="1.000" stop-color="#0000ff"/></linearGradient></defs>
<rect width="1592" height="1528" fill="#fff"/>
<text x="23.6" y="58.8" font-size="25.2" fill="#1a1a1a">A</text>
<text x="24.0" y="536" font-size="24.7" fill="#1a1a1a">B</text>
<text x="587.6" y="51" font-size="24.7" fill="#1a1a1a">C</text>
<text x="35.6" y="995.1" font-size="24.8" fill="#1a1a1a">D</text>
<text x="608.8" y="825.3" font-size="24.7" fill="#1a1a1a">E</text>
<text x="204.3" y="30.6" font-size="13.6" font-weight="bold" fill="#1a1a1a" textLength="153.7" lengthAdjust="spacingAndGlyphs">consensus matrix k=2</text>
<path d="M215.6 108.3V34.3H374.1V107.2 M161.2 116.6V108.3H270.2V124.5 M125.1 125.6V116.6H196.7V125.6 M313.4 116.5V107.2H435.5V125.6 M273.2 125.6V116.5H353.3V125.6 M268.3 125.6V115.4H271.6V125.6 M274.2 125.6V117.3 M434.3 125.6V116.2H436.4V125.6 M128.5 125.6V124.3H266.4V125.6 M276.5 125.6V124.3H432.3V125.6" stroke="#333" stroke-width="1.1" fill="none"/>
<path d="M124.2 125.7H437.7" stroke="#222" stroke-width="1.8"/>
<rect x="124.2" y="130.7" width="148.3" height="12.3" fill="#A6CEE3"/>
<rect x="272.5" y="130.7" width="165.2" height="12.3" fill="#1F78B4"/>
<rect x="272.3" y="149" width="165.1" height="164.7" fill="#0000FF"/>
<rect x="124.4" y="314" width="147.9" height="147.4" fill="#0000FF"/>
<rect x="124.4" y="149" width="147.9" height="5" fill="#0000FF" fill-opacity="0.14"/>
<rect x="124.4" y="154" width="3.6" height="160" fill="#0000FF" fill-opacity="0.09"/>
<rect x="266.2" y="149" width="6.1" height="165" fill="#0000FF" fill-opacity="0.12"/>
<rect x="124.4" y="310.5" width="141.8" height="3.5" fill="#0000FF" fill-opacity="0.06"/>
<rect x="272.3" y="314" width="165.1" height="5.2" fill="#0000FF" fill-opacity="0.14"/>
<rect x="272.3" y="319.2" width="3.8" height="142.2" fill="#0000FF" fill-opacity="0.08"/>
<rect x="433.4" y="319.2" width="4.0" height="142.2" fill="#0000FF" fill-opacity="0.15"/>
<rect x="276.1" y="458.4" width="157.3" height="3.0" fill="#0000FF" fill-opacity="0.08"/>
<rect x="473.6" y="81.8" width="43" height="43.5" fill="none" stroke="#888" stroke-width="1"/>
<rect x="484.1" y="92.1" width="9.5" height="8.2" rx="1" fill="#A6CEE3" stroke="#556" stroke-width="0.8"/>
<rect x="484.1" y="107" width="9.5" height="7.6" rx="1" fill="#1F78B4" stroke="#234" stroke-width="0.8"/>
<text x="504.2" y="100.7" font-size="11.8" fill="#222">1</text>
<text x="503.8" y="114.8" font-size="11.8" fill="#222">2</text>
<text x="273.7" y="501.6" font-size="13.8" font-weight="bold" fill="#1a1a1a" textLength="110.6" lengthAdjust="spacingAndGlyphs">consensus CDF</text>
<rect x="130" y="526.8" width="398" height="354.2" fill="none" stroke="#444" stroke-width="1.1"/>
<text x="114.6" y="872.5" font-size="11.9" text-anchor="end" fill="#333">0.0</text>
<text x="114.6" y="806.76" font-size="11.9" text-anchor="end" fill="#333">0.2</text>
<text x="114.6" y="741.02" font-size="11.9" text-anchor="end" fill="#333">0.4</text>
<text x="114.6" y="675.28" font-size="11.9" text-anchor="end" fill="#333">0.6</text>
<text x="114.6" y="609.54" font-size="11.9" text-anchor="end" fill="#333">0.8</text>
<text x="114.6" y="543.8" font-size="11.9" text-anchor="end" fill="#333">1.0</text>
<text transform="translate(148.9,913.3) rotate(-90)" font-size="11.9" fill="#333">0.0</text>
<text transform="translate(222.4,913.3) rotate(-90)" font-size="11.9" fill="#333">0.2</text>
<text transform="translate(296.0,913.3) rotate(-90)" font-size="11.9" fill="#333">0.4</text>
<text transform="translate(369.5,913.3) rotate(-90)" font-size="11.9" fill="#333">0.6</text>
<text transform="translate(443.1,913.3) rotate(-90)" font-size="11.9" fill="#333">0.8</text>
<text transform="translate(516.6,913.3) rotate(-90)" font-size="11.9" fill="#333">1.0</text>
<path d="M122 868.2H130 M122 802.5H130 M122 736.7H130 M122 671.0H130 M122 605.2H130 M122 539.5H130 M144.6 881V888.8 M218.1 881V888.8 M291.7 881V888.8 M365.2 881V888.8 M438.8 881V888.8 M512.3 881V888.8" stroke="#444" stroke-width="1"/>
<text x="328.3" y="936.7" font-size="12.4" text-anchor="middle" fill="#333">consensus index</text>
<text transform="translate(83.2,704.5) rotate(-90)" font-size="12" fill="#333" text-anchor="middle">CDF</text>
<polyline points="145.7,724.9 150.1,724.9 156.7,719.6 181.4,717.0 216.3,709.1 270.7,703.9 361.5,703.9 406.8,701.5 436.9,697.6 467.1,691.0 486.6,688.7 497.2,687.7 503.5,683.5 507.9,682.8 511.9,539.5" fill="none" stroke="#FF0000" stroke-width="1.5" stroke-linejoin="round"/>
<polyline points="145.7,709.4 150.1,709.4 156.7,697.6 168.1,691.0 180.3,686.4 216.3,668.4 240.6,660.8 300.9,651.6 331.0,647.3 361.5,645.0 406.8,639.8 436.9,630.5 467.1,615.4 488.0,604.9 497.2,603.6 503.5,597.4 507.9,596.7 511.9,539.5" fill="none" stroke="#FFA500" stroke-width="1.5" stroke-linejoin="round"/>
<polyline points="145.7,687.1 150.1,687.1 156.7,671.3 160.8,670.3 168.1,662.1 180.3,653.2 216.3,639.1 240.6,632.9 300.9,628.9 331.0,624.0 361.5,620.0 406.8,615.4 436.9,609.5 467.1,596.0 488.0,583.9 497.2,582.6 503.5,573.4 507.9,572.4 511.9,539.5" fill="none" stroke="#B3FF00" stroke-width="1.5" stroke-linejoin="round"/>
<polyline points="145.7,672.0 150.1,672.0 156.7,656.2 160.8,655.5 168.1,647.3 180.3,641.1 216.3,624.0 240.6,614.1 300.9,604.9 331.0,602.0 361.5,599.0 406.8,592.7 436.9,583.9 467.1,573.4 488.0,565.8 497.2,563.8 503.5,558.2 507.9,556.9 511.9,539.5" fill="none" stroke="#00FF00" stroke-width="1.5" stroke-linejoin="round"/>
<polyline points="145.7,661.4 150.1,661.4 156.7,645.0 168.1,636.5 180.3,630.5 216.3,619.0 240.6,614.8 300.9,603.3 331.0,596.0 361.5,589.1 406.8,580.3 436.9,574.7 467.1,567.1 488.0,561.2 497.2,559.2 503.5,552.3 507.9,551.0 511.9,539.5" fill="none" stroke="#00FFAA" stroke-width="1.5" stroke-linejoin="round"/>
<polyline points="145.7,657.2 150.1,657.2 156.7,639.8 168.1,632.2 180.3,625.9 216.3,609.5 240.6,603.3 300.9,590.8 361.5,581.6 406.8,573.4 436.9,566.8 467.1,558.2 497.2,550.7 503.5,546.1 511.9,539.5" fill="none" stroke="#00AAFF" stroke-width="1.5" stroke-linejoin="round"/>
<polyline points="145.7,648.6 150.1,648.6 156.7,633.5 168.1,625.9 180.3,620.0 216.3,603.3 240.6,597.4 300.9,585.2 361.5,574.7 406.8,565.8 436.9,558.2 467.1,551.7 497.2,545.4 511.9,539.5" fill="none" stroke="#0000FF" stroke-width="1.5" stroke-linejoin="round"/>
<polyline points="145.7,643.4 150.1,643.4 156.7,628.2 168.1,621.7 180.3,615.4 216.3,599.0 240.6,593.7 300.9,582.2 361.5,571.1 406.8,562.8 436.9,555.3 467.1,548.7 497.2,543.1 511.9,539.5" fill="none" stroke="#AA00FF" stroke-width="1.5" stroke-linejoin="round"/>
<polyline points="145.7,638.8 150.1,638.8 156.7,624.0 168.1,616.1 180.3,609.5 216.3,594.4 240.6,588.8 300.9,577.0 361.5,567.1 406.8,559.6 436.9,553.6 467.1,547.7 497.2,542.5 511.9,539.5" fill="none" stroke="#FF00AA" stroke-width="1.5" stroke-linejoin="round"/>
<rect x="439" y="703.6" width="50.6" height="147.1" fill="#fff" stroke="#444" stroke-width="1"/>
<rect x="449.8" y="715.0" width="9.6" height="7.2" fill="#FF0000" stroke="#333" stroke-width="0.7"/>
<text x="469.4" y="722.6" font-size="11.4" fill="#222">2</text>
<rect x="449.8" y="729.7" width="9.6" height="7.2" fill="#FFA500" stroke="#333" stroke-width="0.7"/>
<text x="469.4" y="737.32" font-size="11.4" fill="#222">3</text>
<rect x="449.8" y="744.4" width="9.6" height="7.2" fill="#B3FF00" stroke="#333" stroke-width="0.7"/>
<text x="469.4" y="752.0400000000001" font-size="11.4" fill="#222">4</text>
<rect x="449.8" y="759.2" width="9.6" height="7.2" fill="#00FF00" stroke="#333" stroke-width="0.7"/>
<text x="469.4" y="766.76" font-size="11.4" fill="#222">5</text>
<rect x="449.8" y="773.9" width="9.6" height="7.2" fill="#00FFAA" stroke="#333" stroke-width="0.7"/>
<text x="469.4" y="781.48" font-size="11.4" fill="#222">6</text>
<rect x="449.8" y="788.6" width="9.6" height="7.2" fill="#00AAFF" stroke="#333" stroke-width="0.7"/>
<text x="469.4" y="796.2" font-size="11.4" fill="#222">7</text>
<rect x="449.8" y="803.3" width="9.6" height="7.2" fill="#0000FF" stroke="#333" stroke-width="0.7"/>
<text x="469.4" y="810.9200000000001" font-size="11.4" fill="#222">8</text>
<rect x="449.8" y="818.0" width="9.6" height="7.2" fill="#AA00FF" stroke="#333" stroke-width="0.7"/>
<text x="469.4" y="825.64" font-size="11.4" fill="#222">9</text>
<rect x="449.8" y="832.8" width="9.6" height="7.2" fill="#FF00AA" stroke="#333" stroke-width="0.7"/>
<text x="469.4" y="840.36" font-size="11.4" fill="#222">10</text>
<rect x="130.5" y="1004.1" width="441.6" height="454.4" fill="none" stroke="#444" stroke-width="1.2"/>
<polygon points="149.0,1023.0 167.1,1023.0 167.1,1025.8 177.6,1025.8 177.6,1034.1 180.6,1034.1 180.6,1052.1 185.0,1052.1 185.0,1053.6 191.2,1053.6 191.2,1055.0 200.2,1055.0 200.2,1067.2 203.2,1067.2 203.2,1076.2 209.2,1076.2 209.2,1094.3 218.3,1094.3 218.3,1106.3 230.3,1106.3 230.3,1119.9 237.8,1119.9 237.8,1133.4 243.8,1133.4 243.8,1140.9 248.4,1140.9 248.4,1153.0 257.4,1153.0 257.4,1169.5 264.9,1169.5 264.9,1186.1 274.0,1186.1 274.0,1220.0 291.6,1220.0 291.6,1264.3 302.5,1264.3 302.5,1277.5 318.0,1277.5 318.0,1284.0 326.7,1284.0 326.7,1292.9 333.3,1292.9 333.3,1303.9 337.7,1303.9 337.7,1318.2 349.8,1318.2 349.8,1328.0 370.7,1328.0 370.7,1333.6 375.1,1333.6 375.1,1343.5 383.9,1343.5 383.9,1345.6 383.9,1345.6 383.9,1353.3 392.7,1353.3 392.7,1354.4 394.9,1354.4 394.9,1361.0 436.6,1361.0 436.6,1361.0 437.7,1361.0 437.7,1367.6 447.6,1367.6 447.6,1368.7 448.7,1368.7 448.7,1374.7 563.0,1374.7 563.0,1374.7 563.0,1429.6 447.6,1429.6 447.6,1429.6 447.6,1429.6 447.6,1424.8 436.6,1424.8 436.6,1424.8 436.6,1424.8 436.6,1419.3 394.9,1419.3 394.9,1419.3 394.9,1419.3 394.9,1413.8 383.9,1413.8 383.9,1412.7 382.8,1412.7 382.8,1407.2 375.1,1407.2 375.1,1406.1 374.0,1406.1 374.0,1399.5 350.9,1399.5 350.9,1399.5 349.8,1399.5 349.8,1394.0 342.1,1394.0 342.1,1394.0 337.7,1394.0 337.7,1389.6 337.7,1389.6 337.7,1380.8 333.3,1380.8 333.3,1375.3 326.7,1375.3 326.7,1365.4 317.9,1365.4 317.9,1358.8 306.9,1358.8 306.9,1352.2 302.5,1352.2 302.5,1341.2 296.0,1341.2 296.0,1330.3 285.0,1330.3 285.0,1323.7 280.6,1323.7 280.6,1308.3 271.8,1308.3 271.8,1303.9 269.6,1303.9 269.6,1281.9 263.0,1281.9 263.0,1266.5 254.2,1266.5 254.2,1253.3 249.9,1253.3 249.9,1238.7 246.8,1238.7 246.8,1225.2 242.3,1225.2 242.3,1205.6 236.3,1205.6 236.3,1195.1 230.3,1195.1 230.3,1184.6 222.8,1184.6 222.8,1174.0 213.7,1174.0 213.7,1172.5 209.2,1172.5 209.2,1153.0 204.7,1153.0 204.7,1137.9 200.2,1137.9 200.2,1124.4 192.7,1124.4 192.7,1112.3 183.6,1112.3 183.6,1094.3 174.6,1094.3 174.6,1082.2 165.6,1082.2 165.6,1070.2 158.1,1070.2 158.1,1052.0 152.0,1052.0 152.0,1040.0 149.0,1040.0 149.0,1028.0" fill="#E39B2A" fill-opacity="0.3"/>
<polygon points="149.0,1025.0 155.0,1025.0 155.0,1031.0 162.6,1031.0 162.6,1040.1 170.1,1040.1 170.1,1052.1 179.1,1052.1 179.1,1059.7 185.1,1059.7 185.1,1067.2 195.7,1067.2 195.7,1073.2 206.2,1073.2 206.2,1088.3 210.7,1088.3 210.7,1095.8 221.3,1095.8 221.3,1100.3 225.8,1100.3 225.8,1107.8 231.8,1107.8 231.8,1119.9 239.3,1119.9 239.3,1134.9 245.3,1134.9 245.3,1143.9 249.9,1143.9 249.9,1153.0 260.4,1153.0 260.4,1160.5 267.9,1160.5 267.9,1169.5 272.4,1169.5 272.4,1180.1 278.4,1180.1 278.4,1190.6 289.0,1190.6 289.0,1201.1 295.0,1201.1 295.0,1213.2 305.5,1213.2 305.5,1220.7 313.1,1220.7 313.1,1228.2 323.6,1228.2 323.6,1235.7 326.7,1235.7 326.7,1246.7 342.1,1246.7 342.1,1252.2 364.1,1252.2 364.1,1257.7 370.7,1257.7 370.7,1266.5 383.9,1266.5 383.9,1279.7 390.5,1279.7 390.5,1286.3 442.1,1286.3 442.1,1286.3 443.2,1286.3 443.2,1292.9 571.8,1292.9 571.8,1292.9 571.8,1371.6 447.6,1371.6 447.6,1371.6 446.5,1371.6 446.5,1366.5 436.6,1366.5 436.6,1364.3 436.6,1364.3 436.6,1360.0 394.9,1360.0 394.9,1360.0 392.7,1360.0 392.7,1353.3 383.9,1353.3 383.9,1352.2 383.9,1352.2 383.9,1345.6 375.1,1345.6 375.1,1341.2 370.7,1341.2 370.7,1330.3 364.1,1330.3 364.1,1323.7 342.1,1323.7 342.1,1322.6 337.7,1322.6 337.7,1317.1 331.1,1317.1 331.1,1308.3 322.3,1308.3 322.3,1303.9 311.3,1303.9 311.3,1288.5 302.5,1288.5 302.5,1281.9 291.6,1281.9 291.6,1273.1 282.8,1273.1 282.8,1248.9 269.6,1248.9 269.6,1222.5 258.0,1222.5 258.0,1212.0 252.9,1212.0 252.9,1211.7 248.4,1211.7 248.4,1202.6 243.8,1202.6 243.8,1190.6 236.3,1190.6 236.3,1175.5 230.3,1175.5 230.3,1169.5 224.3,1169.5 224.3,1157.5 215.2,1157.5 215.2,1151.5 207.7,1151.5 207.7,1140.9 203.2,1140.9 203.2,1130.4 197.2,1130.4 197.2,1118.4 189.7,1118.4 189.7,1107.8 183.6,1107.8 183.6,1100.3 174.6,1100.3 174.6,1097.3 170.1,1097.3 170.1,1089.8 164.1,1089.8 164.1,1077.7 159.6,1077.7 159.6,1067.2 155.0,1067.2 155.0,1052.0 149.0,1052.0 149.0,1040.0" fill="#4397B6" fill-opacity="0.3"/>
<polyline points="150.5,1024.0 150.5,1024.0 150.5,1035.6 152.0,1035.6 152.0,1041.6 155.1,1041.6 155.1,1045.3 158.1,1045.3 158.1,1049.1 160.3,1049.1 160.3,1054.4 162.6,1054.4 162.6,1059.7 165.6,1059.7 165.6,1065.7 168.6,1065.7 168.6,1071.7 171.1,1071.7 171.1,1073.7 173.6,1073.7 173.6,1075.7 176.1,1075.7 176.1,1077.7 182.1,1077.7 182.1,1079.2 184.6,1079.2 184.6,1081.2 187.2,1081.2 187.2,1083.2 189.7,1083.2 189.7,1085.2 192.7,1085.2 192.7,1089.8 195.7,1089.8 195.7,1094.3 198.7,1094.3 198.7,1098.8 201.7,1098.8 201.7,1103.3 203.9,1103.3 203.9,1108.5 206.2,1108.5 206.2,1113.8 208.4,1113.8 208.4,1116.8 210.7,1116.8 210.7,1119.9 213.2,1119.9 213.2,1121.4 215.8,1121.4 215.8,1122.9 218.3,1122.9 218.3,1124.4 220.8,1124.4 220.8,1126.4 223.3,1126.4 223.3,1128.4 225.8,1128.4 225.8,1130.4 228.1,1130.4 228.1,1134.9 230.3,1134.9 230.3,1139.4 233.3,1139.4 233.3,1146.2 236.3,1146.2 236.3,1153.0 239.3,1153.0 239.3,1159.8 242.3,1159.8 242.3,1166.5 245.4,1166.5 245.4,1172.5 248.4,1172.5 248.4,1178.5 251.4,1178.5 251.4,1186.0 254.4,1186.0 254.4,1193.6 256.6,1193.6 256.6,1195.8 258.9,1195.8 258.9,1198.1 261.1,1198.1 261.1,1200.3 263.4,1200.3 263.4,1202.6 265.9,1202.6 265.9,1205.1 268.4,1205.1 268.4,1207.7 270.9,1207.7 270.9,1210.2 273.1,1210.2 273.1,1214.7 275.4,1214.7 275.4,1219.2 277.7,1219.2 277.7,1223.0 280.0,1223.0 280.0,1226.7 282.8,1226.7 282.8,1235.7 289.4,1235.7 289.4,1237.9 291.6,1237.9 291.6,1244.5 293.8,1244.5 293.8,1251.1 297.1,1251.1 297.1,1253.3 300.3,1253.3 300.3,1255.5 303.6,1255.5 303.6,1257.7 306.9,1257.7 306.9,1259.9 309.1,1259.9 309.1,1268.7 311.9,1268.7 311.9,1269.5 314.6,1269.5 314.6,1270.3 317.4,1270.3 317.4,1271.2 320.1,1271.2 320.1,1272.0 323.4,1272.0 323.4,1277.0 326.7,1277.0 326.7,1281.9 328.9,1281.9 328.9,1286.3 342.1,1286.3 342.1,1286.3 343.2,1286.3 343.2,1290.7 361.9,1290.7 361.9,1290.7 364.1,1290.7 364.1,1292.9 366.3,1292.9 366.3,1295.1 368.5,1295.1 368.5,1297.3 370.7,1297.3 370.7,1299.5 371.8,1299.5 371.8,1309.4 383.9,1309.4 383.9,1309.4 385.0,1309.4 385.0,1323.7 390.5,1323.7 390.5,1325.9 391.6,1325.9 391.6,1331.4 442.1,1331.4 442.1,1331.4 442.8,1331.4 442.8,1339.5 572.0,1339.5 572.0,1339.5" fill="none" stroke="#4397B6" stroke-width="4.3"/>
<polyline points="150.5,1023.5 152.8,1023.5 152.8,1025.0 155.0,1025.0 155.0,1026.6 157.5,1026.6 157.5,1028.6 160.1,1028.6 160.1,1030.6 162.6,1030.6 162.6,1032.6 165.1,1032.6 165.1,1034.6 167.6,1034.6 167.6,1036.6 170.1,1036.6 170.1,1038.6 172.6,1038.6 172.6,1042.1 175.1,1042.1 175.1,1045.6 177.6,1045.6 177.6,1049.1 179.8,1049.1 179.8,1054.4 182.1,1054.4 182.1,1059.7 185.1,1059.7 185.1,1070.2 188.1,1070.2 188.1,1074.7 191.2,1074.7 191.2,1079.2 194.2,1079.2 194.2,1083.8 197.2,1083.8 197.2,1088.3 200.2,1088.3 200.2,1097.3 203.2,1097.3 203.2,1107.8 206.2,1107.8 206.2,1118.4 209.2,1118.4 209.2,1128.9 212.2,1128.9 212.2,1139.4 218.3,1139.4 218.3,1140.9 221.3,1140.9 221.3,1144.7 224.3,1144.7 224.3,1148.4 227.3,1148.4 227.3,1152.2 230.3,1152.2 230.3,1156.0 233.3,1156.0 233.3,1160.5 236.3,1160.5 236.3,1165.0 239.3,1165.0 239.3,1170.2 242.3,1170.2 242.3,1175.5 244.6,1175.5 244.6,1183.0 246.8,1183.0 246.8,1190.6 249.1,1190.6 249.1,1198.1 251.4,1198.1 251.4,1205.6 254.4,1205.6 254.4,1211.7 257.4,1211.7 257.4,1217.7 260.4,1217.7 260.4,1223.7 263.0,1223.7 263.0,1237.9 265.2,1237.9 265.2,1239.4 267.4,1239.4 267.4,1240.8 269.6,1240.8 269.6,1242.3 271.8,1242.3 271.8,1268.7 279.5,1268.7 279.5,1269.8 282.8,1269.8 282.8,1290.7 286.1,1290.7 286.1,1292.9 289.4,1292.9 289.4,1295.1 298.1,1295.1 298.1,1296.2 302.5,1296.2 302.5,1308.3 305.8,1308.3 305.8,1321.5 308.6,1321.5 308.6,1323.7 311.3,1323.7 311.3,1325.9 324.5,1325.9 324.5,1327.0 328.9,1327.0 328.9,1336.9 331.1,1336.9 331.1,1339.1 333.3,1339.1 333.3,1341.2 335.5,1341.2 335.5,1347.8 337.7,1347.8 337.7,1363.2 341.0,1363.2 341.0,1368.7 349.8,1368.7 349.8,1369.8 350.9,1369.8 350.9,1374.2 375.1,1374.2 375.1,1374.2 376.2,1374.2 376.2,1385.2 383.9,1385.2 383.9,1386.3 385.0,1386.3 385.0,1391.8 394.9,1391.8 394.9,1391.8 396.0,1391.8 396.0,1399.5 436.6,1399.5 436.6,1399.5 437.7,1399.5 437.7,1407.2 447.6,1407.2 447.6,1407.2 448.7,1407.2 448.7,1415.3 563.0,1415.3 563.0,1415.3 563.0,1415.3 563.0,1437.2" fill="none" stroke="#E39B2A" stroke-width="4.3"/>
<path d="M445 1332.5v7 M446 1332.5v7 M451 1332.5v7 M454.5 1332.5v7 M462.5 1332.5v7 M467 1332.5v7 M473 1332.5v7 M483 1332.5v7 M488 1332.5v7 M492 1332.5v7 M500 1332.5v7 M508 1332.5v7 M512 1332.5v7 M518 1332.5v7 M526 1332.5v7 M566 1332.5v7 M396.5 1332.5v7 M406.2 1332.5v7 M427 1332.5v7" stroke="#4397B6" stroke-width="1.3"/>
<path d="M452 1408v7 M466 1408v7" stroke="#E39B2A" stroke-width="1.3"/>
<path d="M168.5 1075h7M172 1071v8 M182.5 1083h7M186 1079v8 M186.5 1086h7M190 1082v8 M192.5 1094h7M196 1090v8 M196.5 1099h7M200 1095v8 M202.5 1113h7M206 1109v8 M206.5 1119h7M210 1115v8 M211.5 1122h7M215 1118v8 M216.5 1125h7M220 1121v8 M224.5 1134h7M228 1130v8 M230.5 1147h7M234 1143v8 M252.5 1197h7M256 1193v8 M261.5 1203h7M265 1199v8 M266.5 1209h7M270 1205v8 M269.5 1213h7M273 1209v8" stroke="#4397B6" stroke-width="1.6"/>
<path d="M147.5 1024h7M151 1020v8 M149.5 1026h7M153 1022v8 M177.5 1066h7M181 1062v8 M186.5 1075h7M190 1071v8 M194.5 1088h7M198 1084v8 M202.5 1113h7M206 1109v8 M209.5 1139h7M213 1135v8 M213.5 1140h7M217 1136v8 M215.5 1141h7M219 1137v8 M217.5 1141h7M221 1137v8 M219.5 1144h7M223 1140v8 M221.5 1146h7M225 1142v8 M224.5 1152h7M228 1148v8 M233.5 1165h7M237 1161v8 M234.5 1167h7M238 1163v8 M247.5 1205h7M251 1201v8 M256.5 1224h7M260 1220v8 M259.5 1237h7M263 1233v8" stroke="#E39B2A" stroke-width="1.6"/>
<text x="120.6" y="1031.0" font-size="20.2" text-anchor="end" fill="#111">1.00</text>
<text x="120.6" y="1134.7" font-size="20.2" text-anchor="end" fill="#111">0.75</text>
<text x="120.6" y="1238.4" font-size="20.2" text-anchor="end" fill="#111">0.50</text>
<text x="120.6" y="1342.1000000000001" font-size="20.2" text-anchor="end" fill="#111">0.25</text>
<text x="120.6" y="1445.8" font-size="20.2" text-anchor="end" fill="#111">0.00</text>
<text x="150.1" y="1484.6" font-size="19" text-anchor="middle" fill="#111">0</text>
<text x="284.25" y="1484.6" font-size="19" text-anchor="middle" fill="#111">50</text>
<text x="418.4" y="1484.6" font-size="19" text-anchor="middle" fill="#111">100</text>
<text x="552.5500000000001" y="1484.6" font-size="19" text-anchor="middle" fill="#111">150</text>
<path d="M126.5 1023.8H130.5 M126.5 1127.5H130.5 M126.5 1231.2H130.5 M126.5 1334.9H130.5 M126.5 1438.6H130.5 M150.1 1458.5V1463.3 M284.2 1458.5V1463.3 M418.4 1458.5V1463.3 M552.6 1458.5V1463.3" stroke="#222" stroke-width="1.6"/>
<text x="298.4" y="1507.3" font-size="19.4" fill="#111" textLength="134.7" lengthAdjust="spacingAndGlyphs">Time (months)</text>
<text transform="translate(69.5,1295.8) rotate(-90)" font-size="21" fill="#111" textLength="177.9" lengthAdjust="spacingAndGlyphs">Survival probability</text>
<text x="148.9" y="1433" font-size="16" fill="#111" textLength="69.7" lengthAdjust="spacingAndGlyphs">p = 0.014</text>
<text x="448.5" y="1058" font-size="15.2" fill="#111" textLength="55.8" lengthAdjust="spacingAndGlyphs">Subtype</text>
<rect x="449.4" y="1069" width="22.3" height="21.7" fill="#E39B2A" fill-opacity="0.3"/>
<rect x="449.4" y="1093.2" width="22.3" height="22.2" fill="#4397B6" fill-opacity="0.3"/>
<path d="M450.9 1079.9H470.1" stroke="#E39B2A" stroke-width="5" fill="none"/><path d="M460.5 1073.4V1080" stroke="#E39B2A" stroke-width="1.3"/>
<path d="M450.9 1104.3H470.1" stroke="#4397B6" stroke-width="5" fill="none"/><path d="M460.5 1097.8V1104" stroke="#4397B6" stroke-width="1.3"/>
<text x="480.6" y="1084" font-size="12.4" fill="#111">Subtype I</text>
<text x="480.6" y="1108.8" font-size="12.4" fill="#111">Subtype II</text>
<rect x="659.8" y="47.6" width="319.4" height="16.3" fill="#DF9B2B"/>
<rect x="979.2" y="47.6" width="356.6" height="16.3" fill="#4398B7"/>
<g transform="translate(659.8,67.5) scale(1.81720,16.4)"><path fill="#b6e0f6" d="M36 0h1v1h-1z"/><path fill="#b2ddf4" d="M116 0h1v1h-1z"/><path fill="#afdaf2" d="M1 0h1v1h-1zM57 0h1v1h-1zM112 0h1v1h-1z"/><path fill="#a7d4ef" d="M64 0h1v1h-1zM68 0h1v1h-1zM95 0h1v1h-1z"/><path fill="#a4d0ed" d="M6 0h1v1h-1zM337 0h1v1h-1z"/><path fill="#a0cdeb" d="M39 0h1v1h-1zM60 0h1v1h-1zM79 0h1v1h-1zM94 0h1v1h-1zM119 0h1v1h-1z"/><path fill="#9ccae9" d="M89 0h1v1h-1zM166 0h1v1h-1zM364 0h1v1h-1z"/><path fill="#99c7e7" d="M104 0h1v1h-1z"/><path fill="#95c4e5" d="M14 0h1v1h-1zM43 0h1v1h-1zM73 0h1v1h-1zM75 0h1v1h-1zM114 0h1v1h-1zM220 0h1v1h-1zM298 0h1v1h-1z"/><path fill="#91c1e3" d="M8 0h1v1h-1zM30 0h1v1h-1zM38 0h1v1h-1zM51 0h1v1h-1zM62 0h1v1h-1zM65 0h1v1h-1zM153 0h1v1h-1zM225 0h1v1h-1z"/><path fill="#8ebde1" d="M13 0h1v1h-1zM55 0h1v1h-1zM86 0h2v1h-2zM100 0h1v1h-1zM102 0h1v1h-1zM113 0h1v1h-1zM146 0h1v1h-1zM206 0h1v1h-1zM231 0h1v1h-1zM282 0h1v1h-1z"/><path fill="#8abadf" d="M3 0h2v1h-2zM23 0h1v1h-1zM69 0h1v1h-1zM71 0h1v1h-1zM85 0h1v1h-1zM90 0h1v1h-1zM96 0h1v1h-1zM106 0h1v1h-1zM131 0h1v1h-1zM145 0h1v1h-1zM204 0h1v1h-1zM290 0h1v1h-1zM305 0h1v1h-1zM323 0h1v1h-1z"/><path fill="#86b7dd" d="M11 0h2v1h-2zM15 0h1v1h-1zM27 0h1v1h-1zM31 0h1v1h-1zM42 0h1v1h-1zM78 0h1v1h-1zM91 0h1v1h-1zM105 0h1v1h-1zM120 0h2v1h-2zM133 0h1v1h-1zM140 0h1v1h-1zM158 0h1v1h-1zM302 0h1v1h-1z"/><path fill="#82b4db" d="M5 0h1v1h-1zM7 0h1v1h-1zM17 0h1v1h-1zM19 0h1v1h-1zM24 0h1v1h-1zM28 0h1v1h-1zM50 0h1v1h-1zM54 0h1v1h-1zM99 0h1v1h-1zM101 0h1v1h-1zM108 0h1v1h-1zM139 0h1v1h-1zM156 0h1v1h-1zM195 0h1v1h-1zM222 0h1v1h-1zM235 0h1v1h-1zM238 0h1v1h-1zM257 0h1v1h-1zM301 0h1v1h-1zM313 0h1v1h-1zM322 0h1v1h-1zM342 0h1v1h-1zM369 0h1v1h-1z"/><path fill="#7eb1da" d="M20 0h1v1h-1zM34 0h1v1h-1zM44 0h2v1h-2zM61 0h1v1h-1zM77 0h1v1h-1zM107 0h1v1h-1zM115 0h1v1h-1zM137 0h1v1h-1zM144 0h1v1h-1zM154 0h1v1h-1zM157 0h1v1h-1zM161 0h1v1h-1zM168 0h1v1h-1zM193 0h1v1h-1zM228 0h1v1h-1zM244 0h1v1h-1zM261 0h1v1h-1zM312 0h1v1h-1zM325 0h2v1h-2zM344 0h1v1h-1z"/><path fill="#7baed8" d="M10 0h1v1h-1zM40 0h1v1h-1zM48 0h1v1h-1zM56 0h1v1h-1zM70 0h1v1h-1zM92 0h1v1h-1zM98 0h1v1h-1zM125 0h1v1h-1zM136 0h1v1h-1zM143 0h1v1h-1zM159 0h1v1h-1zM175 0h1v1h-1zM211 0h1v1h-1zM218 0h1v1h-1zM245 0h1v1h-1zM285 0h1v1h-1zM293 0h1v1h-1zM336 0h1v1h-1zM351 0h1v1h-1zM356 0h1v1h-1zM365 0h1v1h-1z"/><path fill="#77abd6" d="M2 0h1v1h-1zM16 0h1v1h-1zM59 0h1v1h-1zM74 0h1v1h-1zM84 0h1v1h-1zM103 0h1v1h-1zM132 0h1v1h-1zM162 0h1v1h-1zM178 0h1v1h-1zM186 0h1v1h-1zM190 0h1v1h-1zM192 0h1v1h-1zM194 0h1v1h-1zM213 0h1v1h-1zM239 0h1v1h-1zM241 0h1v1h-1zM262 0h1v1h-1zM288 0h1v1h-1zM291 0h1v1h-1zM299 0h1v1h-1zM304 0h1v1h-1zM306 0h1v1h-1zM331 0h1v1h-1zM334 0h1v1h-1zM339 0h1v1h-1zM341 0h1v1h-1zM362 0h1v1h-1zM367 0h2v1h-2z"/><path fill="#73a8d4" d="M22 0h1v1h-1zM25 0h1v1h-1zM33 0h1v1h-1zM35 0h1v1h-1zM41 0h1v1h-1zM52 0h2v1h-2zM58 0h1v1h-1zM66 0h1v1h-1zM93 0h1v1h-1zM117 0h2v1h-2zM122 0h1v1h-1zM127 0h1v1h-1zM149 0h1v1h-1zM151 0h2v1h-2zM155 0h1v1h-1zM169 0h1v1h-1zM173 0h1v1h-1zM183 0h1v1h-1zM230 0h1v1h-1zM253 0h1v1h-1zM275 0h1v1h-1zM308 0h1v1h-1zM318 0h1v1h-1zM320 0h1v1h-1zM324 0h1v1h-1zM358 0h1v1h-1z"/><path fill="#6fa5d2" d="M32 0h1v1h-1zM47 0h1v1h-1zM63 0h1v1h-1zM81 0h2v1h-2zM97 0h1v1h-1zM150 0h1v1h-1zM203 0h1v1h-1zM214 0h1v1h-1zM217 0h1v1h-1zM219 0h1v1h-1zM221 0h1v1h-1zM232 0h2v1h-2zM248 0h1v1h-1zM278 0h1v1h-1zM321 0h1v1h-1zM355 0h1v1h-1z"/><path fill="#6ba2d0" d="M18 0h1v1h-1zM29 0h1v1h-1zM37 0h1v1h-1zM49 0h1v1h-1zM110 0h2v1h-2zM138 0h1v1h-1zM141 0h1v1h-1zM147 0h1v1h-1zM176 0h1v1h-1zM182 0h1v1h-1zM188 0h1v1h-1zM208 0h1v1h-1zM210 0h1v1h-1zM215 0h2v1h-2zM227 0h1v1h-1zM240 0h1v1h-1zM246 0h1v1h-1zM251 0h1v1h-1zM259 0h2v1h-2zM268 0h1v1h-1zM271 0h1v1h-1zM279 0h2v1h-2zM295 0h1v1h-1zM297 0h1v1h-1zM311 0h1v1h-1zM314 0h1v1h-1zM328 0h1v1h-1zM348 0h1v1h-1zM363 0h1v1h-1z"/><path fill="#679fce" d="M67 0h1v1h-1zM83 0h1v1h-1zM123 0h1v1h-1zM126 0h1v1h-1zM129 0h1v1h-1zM135 0h1v1h-1zM164 0h1v1h-1zM184 0h1v1h-1zM196 0h1v1h-1zM198 0h1v1h-1zM202 0h1v1h-1zM226 0h1v1h-1zM234 0h1v1h-1zM243 0h1v1h-1zM249 0h1v1h-1zM255 0h1v1h-1zM274 0h1v1h-1zM289 0h1v1h-1zM300 0h1v1h-1zM345 0h1v1h-1zM347 0h1v1h-1zM349 0h1v1h-1zM360 0h1v1h-1zM371 0h1v1h-1z"/><path fill="#639ccc" d="M46 0h1v1h-1zM76 0h1v1h-1zM88 0h1v1h-1zM148 0h1v1h-1zM160 0h1v1h-1zM163 0h1v1h-1zM167 0h1v1h-1zM170 0h1v1h-1zM187 0h1v1h-1zM201 0h1v1h-1zM212 0h1v1h-1zM283 0h1v1h-1zM303 0h1v1h-1zM316 0h1v1h-1zM319 0h1v1h-1zM333 0h1v1h-1zM359 0h1v1h-1z"/><path fill="#5f99ca" d="M21 0h1v1h-1zM72 0h1v1h-1zM80 0h1v1h-1zM171 0h2v1h-2zM199 0h1v1h-1zM229 0h1v1h-1zM236 0h1v1h-1zM250 0h1v1h-1zM256 0h1v1h-1zM263 0h1v1h-1zM270 0h1v1h-1zM287 0h1v1h-1zM317 0h1v1h-1zM352 0h2v1h-2zM370 0h1v1h-1z"/><path fill="#5b96c8" d="M130 0h1v1h-1zM177 0h1v1h-1zM185 0h1v1h-1zM205 0h1v1h-1zM207 0h1v1h-1zM237 0h1v1h-1zM254 0h1v1h-1zM265 0h1v1h-1zM267 0h1v1h-1zM269 0h1v1h-1zM272 0h1v1h-1zM276 0h1v1h-1zM327 0h1v1h-1zM332 0h1v1h-1zM338 0h1v1h-1zM350 0h1v1h-1zM357 0h1v1h-1z"/><path fill="#5693c7" d="M0 0h1v1h-1zM26 0h1v1h-1zM109 0h1v1h-1zM134 0h1v1h-1zM180 0h1v1h-1zM197 0h1v1h-1zM264 0h1v1h-1zM296 0h1v1h-1zM307 0h1v1h-1zM309 0h1v1h-1zM315 0h1v1h-1zM330 0h1v1h-1z"/><path fill="#5290c5" d="M128 0h1v1h-1zM165 0h1v1h-1zM174 0h1v1h-1zM191 0h1v1h-1zM209 0h1v1h-1zM223 0h1v1h-1zM266 0h1v1h-1zM281 0h1v1h-1zM284 0h1v1h-1zM335 0h1v1h-1zM361 0h1v1h-1z"/><path fill="#4d8dc3" d="M224 0h1v1h-1zM273 0h1v1h-1z"/><path fill="#498ac1" d="M124 0h1v1h-1zM189 0h1v1h-1zM286 0h1v1h-1zM310 0h1v1h-1zM340 0h1v1h-1zM343 0h1v1h-1zM346 0h1v1h-1zM366 0h1v1h-1z"/><path fill="#4487bf" d="M200 0h1v1h-1zM242 0h1v1h-1zM258 0h1v1h-1zM292 0h1v1h-1z"/><path fill="#3f84bd" d="M142 0h1v1h-1zM277 0h1v1h-1zM294 0h1v1h-1z"/><path fill="#3a81bb" d="M179 0h1v1h-1zM181 0h1v1h-1z"/><path fill="#347eb9" d="M9 0h1v1h-1zM247 0h1v1h-1zM252 0h1v1h-1zM354 0h1v1h-1z"/><path fill="#1f76b4" d="M329 0h1v1h-1z"/></g>
<g transform="translate(659.8,87.5) scale(1.81720,16.2)"><path fill="#c294d4" d="M172 0h1v1h-1z"/><path fill="#b988cd" d="M171 0h1v1h-1zM350 0h1v1h-1z"/><path fill="#b684cb" d="M125 0h1v1h-1zM127 0h1v1h-1zM137 0h1v1h-1zM153 0h1v1h-1zM159 0h1v1h-1zM162 0h1v1h-1zM174 0h1v1h-1zM322 0h1v1h-1z"/><path fill="#b380c9" d="M145 0h1v1h-1zM158 0h1v1h-1zM309 0h1v1h-1zM314 0h1v1h-1zM319 0h2v1h-2zM340 0h1v1h-1z"/><path fill="#b07cc7" d="M120 0h1v1h-1zM123 0h1v1h-1zM136 0h1v1h-1zM146 0h1v1h-1zM150 0h1v1h-1zM173 0h1v1h-1zM297 0h1v1h-1zM301 0h1v1h-1zM312 0h1v1h-1zM316 0h1v1h-1zM336 0h1v1h-1zM349 0h1v1h-1zM356 0h1v1h-1zM360 0h1v1h-1zM370 0h2v1h-2z"/><path fill="#ad77c5" d="M126 0h1v1h-1zM129 0h1v1h-1zM141 0h1v1h-1zM143 0h2v1h-2zM151 0h1v1h-1zM167 0h1v1h-1zM191 0h1v1h-1zM288 0h1v1h-1zM293 0h1v1h-1zM295 0h2v1h-2zM299 0h1v1h-1zM313 0h1v1h-1zM325 0h1v1h-1zM332 0h1v1h-1zM334 0h1v1h-1zM337 0h1v1h-1zM344 0h1v1h-1zM369 0h1v1h-1z"/><path fill="#aa73c3" d="M124 0h1v1h-1zM128 0h1v1h-1zM134 0h2v1h-2zM147 0h1v1h-1zM149 0h1v1h-1zM152 0h1v1h-1zM170 0h1v1h-1zM285 0h1v1h-1zM321 0h1v1h-1zM326 0h1v1h-1zM341 0h1v1h-1zM355 0h1v1h-1zM362 0h1v1h-1zM364 0h3v1h-3z"/><path fill="#a76fc1" d="M121 0h1v1h-1zM130 0h1v1h-1zM132 0h1v1h-1zM138 0h1v1h-1zM154 0h1v1h-1zM156 0h1v1h-1zM163 0h2v1h-2zM166 0h1v1h-1zM168 0h2v1h-2zM175 0h1v1h-1zM286 0h1v1h-1zM300 0h1v1h-1zM311 0h1v1h-1zM315 0h1v1h-1zM323 0h2v1h-2zM330 0h1v1h-1zM338 0h1v1h-1zM346 0h1v1h-1zM368 0h1v1h-1z"/><path fill="#a46bbf" d="M99 0h1v1h-1zM133 0h1v1h-1zM140 0h1v1h-1zM155 0h1v1h-1zM157 0h1v1h-1zM165 0h1v1h-1zM190 0h1v1h-1zM208 0h1v1h-1zM251 0h1v1h-1zM284 0h1v1h-1zM291 0h1v1h-1zM298 0h1v1h-1zM304 0h1v1h-1zM308 0h1v1h-1zM333 0h1v1h-1zM342 0h2v1h-2zM345 0h1v1h-1zM351 0h1v1h-1zM353 0h1v1h-1zM358 0h1v1h-1zM361 0h1v1h-1z"/><path fill="#a167bd" d="M17 0h1v1h-1zM44 0h1v1h-1zM161 0h1v1h-1zM283 0h1v1h-1zM290 0h1v1h-1zM306 0h1v1h-1zM318 0h1v1h-1zM327 0h1v1h-1zM335 0h1v1h-1zM339 0h1v1h-1zM348 0h1v1h-1zM357 0h1v1h-1zM359 0h1v1h-1zM363 0h1v1h-1z"/><path fill="#9d63bb" d="M68 0h1v1h-1zM70 0h1v1h-1zM104 0h1v1h-1zM160 0h1v1h-1zM181 0h1v1h-1zM240 0h1v1h-1zM287 0h1v1h-1zM289 0h1v1h-1zM294 0h1v1h-1zM302 0h1v1h-1zM331 0h1v1h-1zM354 0h1v1h-1z"/><path fill="#9a5fb9" d="M0 0h1v1h-1zM28 0h1v1h-1zM60 0h1v1h-1zM71 0h1v1h-1zM107 0h1v1h-1zM110 0h2v1h-2zM114 0h1v1h-1zM122 0h1v1h-1zM131 0h1v1h-1zM139 0h1v1h-1zM142 0h1v1h-1zM237 0h1v1h-1zM270 0h1v1h-1zM277 0h1v1h-1zM292 0h1v1h-1zM310 0h1v1h-1zM317 0h1v1h-1zM328 0h2v1h-2zM347 0h1v1h-1zM352 0h1v1h-1zM367 0h1v1h-1z"/><path fill="#975ab7" d="M24 0h1v1h-1zM59 0h1v1h-1zM62 0h1v1h-1zM66 0h1v1h-1zM102 0h1v1h-1zM148 0h1v1h-1zM178 0h1v1h-1zM186 0h1v1h-1zM192 0h1v1h-1zM197 0h1v1h-1zM216 0h1v1h-1zM223 0h1v1h-1zM247 0h1v1h-1zM271 0h1v1h-1zM278 0h1v1h-1zM280 0h1v1h-1zM303 0h1v1h-1zM305 0h1v1h-1z"/><path fill="#9456b5" d="M4 0h1v1h-1zM8 0h1v1h-1zM32 0h1v1h-1zM40 0h1v1h-1zM51 0h1v1h-1zM63 0h1v1h-1zM74 0h1v1h-1zM80 0h1v1h-1zM82 0h1v1h-1zM92 0h1v1h-1zM202 0h1v1h-1zM207 0h1v1h-1zM213 0h2v1h-2zM229 0h2v1h-2zM233 0h1v1h-1zM253 0h1v1h-1zM258 0h1v1h-1zM264 0h1v1h-1zM266 0h1v1h-1zM281 0h1v1h-1zM307 0h1v1h-1z"/><path fill="#9152b3" d="M9 0h1v1h-1zM11 0h1v1h-1zM22 0h2v1h-2zM27 0h1v1h-1zM47 0h1v1h-1zM73 0h1v1h-1zM75 0h1v1h-1zM81 0h1v1h-1zM89 0h1v1h-1zM105 0h1v1h-1zM115 0h1v1h-1zM179 0h2v1h-2zM194 0h2v1h-2zM204 0h1v1h-1zM209 0h1v1h-1zM218 0h1v1h-1zM228 0h1v1h-1zM231 0h1v1h-1zM236 0h1v1h-1zM257 0h1v1h-1zM261 0h1v1h-1zM268 0h1v1h-1zM275 0h1v1h-1z"/><path fill="#8e4eb1" d="M7 0h1v1h-1zM16 0h1v1h-1zM29 0h1v1h-1zM52 0h1v1h-1zM55 0h2v1h-2zM61 0h1v1h-1zM64 0h1v1h-1zM77 0h2v1h-2zM86 0h2v1h-2zM93 0h2v1h-2zM97 0h2v1h-2zM101 0h1v1h-1zM113 0h1v1h-1zM116 0h2v1h-2zM176 0h1v1h-1zM184 0h1v1h-1zM187 0h1v1h-1zM225 0h1v1h-1zM248 0h3v1h-3zM255 0h1v1h-1zM274 0h1v1h-1zM279 0h1v1h-1zM282 0h1v1h-1z"/><path fill="#8b4aaf" d="M2 0h1v1h-1zM6 0h1v1h-1zM18 0h1v1h-1zM20 0h1v1h-1zM26 0h1v1h-1zM42 0h1v1h-1zM48 0h1v1h-1zM57 0h1v1h-1zM100 0h1v1h-1zM106 0h1v1h-1zM119 0h1v1h-1zM198 0h1v1h-1zM201 0h1v1h-1zM210 0h1v1h-1zM224 0h1v1h-1zM226 0h1v1h-1zM235 0h1v1h-1zM238 0h1v1h-1zM243 0h1v1h-1zM254 0h1v1h-1zM263 0h1v1h-1zM269 0h1v1h-1zM273 0h1v1h-1zM276 0h1v1h-1z"/><path fill="#8746ad" d="M1 0h1v1h-1zM3 0h1v1h-1zM13 0h1v1h-1zM21 0h1v1h-1zM31 0h1v1h-1zM38 0h2v1h-2zM45 0h1v1h-1zM49 0h2v1h-2zM65 0h1v1h-1zM69 0h1v1h-1zM72 0h1v1h-1zM76 0h1v1h-1zM91 0h1v1h-1zM112 0h1v1h-1zM183 0h1v1h-1zM196 0h1v1h-1zM200 0h1v1h-1zM203 0h1v1h-1zM219 0h2v1h-2zM232 0h1v1h-1zM239 0h1v1h-1zM244 0h1v1h-1zM252 0h1v1h-1zM259 0h1v1h-1z"/><path fill="#8441aa" d="M10 0h1v1h-1zM12 0h1v1h-1zM15 0h1v1h-1zM19 0h1v1h-1zM35 0h2v1h-2zM46 0h1v1h-1zM53 0h1v1h-1zM58 0h1v1h-1zM67 0h1v1h-1zM79 0h1v1h-1zM84 0h1v1h-1zM88 0h1v1h-1zM90 0h1v1h-1zM103 0h1v1h-1zM108 0h2v1h-2zM118 0h1v1h-1zM177 0h1v1h-1zM189 0h1v1h-1zM193 0h1v1h-1zM199 0h1v1h-1zM211 0h2v1h-2zM217 0h1v1h-1zM221 0h2v1h-2zM256 0h1v1h-1zM267 0h1v1h-1zM272 0h1v1h-1z"/><path fill="#813da8" d="M14 0h1v1h-1zM25 0h1v1h-1zM37 0h1v1h-1zM54 0h1v1h-1zM83 0h1v1h-1zM85 0h1v1h-1zM182 0h1v1h-1zM185 0h1v1h-1zM205 0h1v1h-1zM215 0h1v1h-1zM227 0h1v1h-1zM234 0h1v1h-1zM241 0h1v1h-1zM246 0h1v1h-1zM260 0h1v1h-1zM262 0h1v1h-1z"/><path fill="#7e39a6" d="M30 0h1v1h-1zM33 0h2v1h-2zM41 0h1v1h-1zM95 0h1v1h-1zM188 0h1v1h-1zM242 0h1v1h-1zM265 0h1v1h-1z"/><path fill="#7b34a4" d="M5 0h1v1h-1zM43 0h1v1h-1z"/><path fill="#742ba0" d="M96 0h1v1h-1zM206 0h1v1h-1zM245 0h1v1h-1z"/></g>
<text x="1341.8" y="61.1" font-size="18.6" font-weight="bold" textLength="200.1" lengthAdjust="spacingAndGlyphs">Steamness Subtype</text>
<text x="1341.8" y="80.8" font-size="18.6" font-weight="bold" textLength="144.2" lengthAdjust="spacingAndGlyphs">Immune Score</text>
<text x="1341.8" y="101.2" font-size="18.6" font-weight="bold" textLength="80.7" lengthAdjust="spacingAndGlyphs">mRNAsi</text>
<g filter="url(#fC)"><g transform="translate(659.8,109.3) scale(1.81801,4.12452)"><path fill="#363636" d="M176 2h1v30h-1zM176 32h1v56h-1zM93 88h1v46h-1zM176 88h1v46h-1zM75 134h1v10h-1z"/><path fill="#3c3c3c" d="M93 32h1v56h-1zM86 88h1v46h-1z"/><path fill="#414141" d="M86 32h1v56h-1zM61 134h1v10h-1zM148 134h1v10h-1z"/><path fill="#474747" d="M86 2h1v30h-1zM93 2h1v30h-1zM154 2h1v30h-1zM19 32h1v56h-1zM47 32h1v56h-1zM49 32h1v56h-1zM52 32h1v56h-1zM111 32h1v56h-1zM154 32h1v56h-1zM220 32h1v56h-1zM19 88h1v46h-1zM47 88h1v46h-1zM49 88h1v46h-1zM51 88h2v46h-2zM111 88h1v46h-1zM154 88h1v46h-1zM13 134h1v10h-1zM21 134h1v10h-1zM33 134h1v10h-1zM39 134h1v10h-1zM107 134h1v10h-1zM109 134h1v10h-1z"/><path fill="#4c4c4c" d="M220 2h1v30h-1zM51 32h1v56h-1zM88 32h1v56h-1zM55 88h1v46h-1zM71 88h1v46h-1zM88 88h1v46h-1zM220 88h1v46h-1zM36 134h1v10h-1zM46 134h1v10h-1zM53 134h1v10h-1zM55 134h1v10h-1zM63 134h2v10h-2zM114 134h1v10h-1zM136 134h1v10h-1zM153 134h1v10h-1zM181 145h1v10h-1zM245 145h1v10h-1zM271 145h1v10h-1z"/><path fill="#515151" d="M326 0h1v2h-1zM346 0h1v2h-1zM19 2h1v30h-1zM47 2h1v30h-1zM49 2h1v30h-1zM29 32h1v56h-1zM32 32h1v56h-1zM55 32h1v56h-1zM71 32h1v56h-1zM77 32h1v56h-1zM189 32h1v56h-1zM275 32h1v56h-1zM29 88h1v46h-1zM32 88h1v46h-1zM58 88h1v46h-1zM68 88h1v46h-1zM77 88h1v46h-1zM99 88h1v46h-1zM105 88h1v46h-1zM26 134h1v10h-1zM32 134h1v10h-1zM34 134h2v10h-2zM42 134h1v10h-1zM45 134h1v10h-1zM87 134h1v10h-1zM104 134h1v10h-1zM138 134h1v10h-1zM140 134h1v10h-1zM1 145h1v10h-1zM202 145h1v10h-1zM266 145h1v10h-1z"/><path fill="#575757" d="M24 0h1v2h-1zM46 0h1v2h-1zM91 0h1v2h-1zM223 0h1v2h-1zM353 0h1v2h-1zM360 0h1v2h-1zM51 2h2v30h-2zM55 2h1v30h-1zM71 2h1v30h-1zM88 2h1v30h-1zM111 2h1v30h-1zM169 2h2v30h-2zM189 2h1v30h-1zM210 2h1v30h-1zM215 2h1v30h-1zM217 2h1v30h-1zM219 2h1v30h-1zM275 2h1v30h-1zM276 2h1v30h-1zM15 32h1v56h-1zM21 32h1v56h-1zM23 32h1v56h-1zM37 32h1v56h-1zM43 32h2v56h-2zM58 32h1v56h-1zM63 32h1v56h-1zM68 32h1v56h-1zM76 32h1v56h-1zM79 32h2v56h-2zM99 32h1v56h-1zM105 32h1v56h-1zM108 32h1v56h-1zM115 32h1v56h-1zM169 32h2v56h-2zM210 32h1v56h-1zM215 32h1v56h-1zM217 32h1v56h-1zM219 32h1v56h-1zM246 32h1v56h-1zM276 32h1v56h-1zM15 88h1v46h-1zM21 88h1v46h-1zM23 88h1v46h-1zM31 88h1v46h-1zM34 88h1v46h-1zM37 88h1v46h-1zM43 88h1v46h-1zM44 88h1v46h-1zM63 88h1v46h-1zM76 88h1v46h-1zM79 88h1v46h-1zM80 88h1v46h-1zM84 88h1v46h-1zM92 88h1v46h-1zM108 88h1v46h-1zM113 88h1v46h-1zM115 88h1v46h-1zM169 88h2v46h-2zM189 88h1v46h-1zM210 88h1v46h-1zM215 88h1v46h-1zM217 88h1v46h-1zM219 88h1v46h-1zM275 88h1v46h-1zM276 88h1v46h-1zM0 134h2v10h-2zM4 134h1v10h-1zM5 134h1v10h-1zM15 134h1v10h-1zM16 134h1v10h-1zM20 134h1v10h-1zM24 134h1v10h-1zM27 134h1v10h-1zM31 134h1v10h-1zM38 134h1v10h-1zM41 134h1v10h-1zM47 134h1v10h-1zM50 134h1v10h-1zM65 134h1v10h-1zM70 134h1v10h-1zM74 134h1v10h-1zM83 134h1v10h-1zM86 134h1v10h-1zM110 134h1v10h-1zM112 134h1v10h-1zM123 134h1v10h-1zM129 134h1v10h-1zM141 134h1v10h-1zM147 134h1v10h-1zM162 134h1v10h-1zM171 134h1v10h-1zM33 144h1v1h-1zM35 144h1v1h-1zM44 144h1v1h-1zM53 144h1v1h-1zM78 144h1v1h-1zM93 144h1v1h-1zM184 144h1v1h-1zM188 144h1v1h-1zM231 144h1v1h-1zM49 145h1v10h-1zM51 145h1v10h-1zM176 145h1v10h-1zM182 145h1v10h-1zM186 145h1v10h-1zM208 145h1v10h-1zM212 145h1v10h-1zM237 145h1v10h-1zM253 145h1v10h-1zM260 145h1v10h-1zM272 145h1v10h-1zM279 145h1v10h-1z"/><path fill="#5c5c5c" d="M21 0h1v2h-1zM28 0h1v2h-1zM76 0h1v2h-1zM85 0h1v2h-1zM87 0h1v2h-1zM182 0h1v2h-1zM235 0h1v2h-1zM272 0h1v2h-1zM294 0h1v2h-1zM297 0h1v2h-1zM308 0h1v2h-1zM366 0h1v2h-1zM29 2h1v30h-1zM32 2h1v30h-1zM58 2h1v30h-1zM63 2h1v30h-1zM68 2h1v30h-1zM77 2h1v30h-1zM99 2h1v30h-1zM105 2h1v30h-1zM139 2h1v30h-1zM232 2h1v30h-1zM246 2h1v30h-1zM258 2h1v30h-1zM31 32h1v56h-1zM33 32h2v56h-2zM36 32h1v56h-1zM42 32h1v56h-1zM48 32h1v56h-1zM54 32h1v56h-1zM84 32h1v56h-1zM87 32h1v56h-1zM92 32h1v56h-1zM113 32h1v56h-1zM139 32h1v56h-1zM190 32h1v56h-1zM193 32h1v56h-1zM232 32h1v56h-1zM245 32h1v56h-1zM258 32h1v56h-1zM33 88h1v46h-1zM36 88h1v46h-1zM42 88h1v46h-1zM46 88h1v46h-1zM48 88h1v46h-1zM53 88h2v46h-2zM66 88h1v46h-1zM87 88h1v46h-1zM96 88h1v46h-1zM117 88h1v46h-1zM139 88h1v46h-1zM232 88h1v46h-1zM246 88h1v46h-1zM258 88h1v46h-1zM6 134h1v10h-1zM10 134h2v10h-2zM49 134h1v10h-1zM54 134h1v10h-1zM66 134h1v10h-1zM76 134h1v10h-1zM106 134h1v10h-1zM127 134h1v10h-1zM149 134h2v10h-2zM167 134h1v10h-1zM169 134h1v10h-1zM265 134h1v10h-1zM12 144h1v1h-1zM21 144h1v1h-1zM42 144h1v1h-1zM50 144h1v1h-1zM80 144h1v1h-1zM84 144h2v1h-2zM87 144h1v1h-1zM92 144h1v1h-1zM152 144h1v1h-1zM178 144h1v1h-1zM322 144h1v1h-1zM2 145h1v10h-1zM4 145h1v10h-1zM40 145h1v10h-1zM48 145h1v10h-1zM201 145h1v10h-1zM203 145h1v10h-1zM205 145h1v10h-1zM225 145h1v10h-1zM240 145h1v10h-1zM248 145h1v10h-1zM256 145h1v10h-1zM264 145h1v10h-1zM323 145h1v10h-1z"/><path fill="#626262" d="M27 0h1v2h-1zM43 0h1v2h-1zM80 0h1v2h-1zM82 0h1v2h-1zM190 0h2v2h-2zM196 0h1v2h-1zM198 0h1v2h-1zM227 0h2v2h-2zM242 0h1v2h-1zM301 0h1v2h-1zM304 0h1v2h-1zM309 0h1v2h-1zM359 0h1v2h-1zM21 2h1v30h-1zM23 2h1v30h-1zM37 2h1v30h-1zM43 2h1v30h-1zM76 2h1v30h-1zM79 2h1v30h-1zM108 2h1v30h-1zM115 2h1v30h-1zM190 2h1v30h-1zM193 2h2v30h-2zM229 2h1v30h-1zM245 2h1v30h-1zM252 2h1v30h-1zM277 2h1v30h-1zM280 2h1v30h-1zM11 32h1v56h-1zM46 32h1v56h-1zM50 32h1v56h-1zM53 32h1v56h-1zM60 32h1v56h-1zM66 32h1v56h-1zM83 32h1v56h-1zM91 32h1v56h-1zM96 32h1v56h-1zM117 32h1v56h-1zM183 32h1v56h-1zM194 32h1v56h-1zM203 32h1v56h-1zM207 32h1v56h-1zM229 32h1v56h-1zM250 32h1v56h-1zM252 32h1v56h-1zM277 32h1v56h-1zM280 32h1v56h-1zM5 88h1v46h-1zM10 88h2v46h-2zM16 88h1v46h-1zM24 88h1v46h-1zM26 88h1v46h-1zM28 88h1v46h-1zM50 88h1v46h-1zM60 88h2v46h-2zM83 88h1v46h-1zM91 88h1v46h-1zM119 88h1v46h-1zM190 88h1v46h-1zM193 88h2v46h-2zM229 88h1v46h-1zM245 88h1v46h-1zM252 88h1v46h-1zM277 88h1v46h-1zM280 88h1v46h-1zM29 134h1v10h-1zM51 134h1v10h-1zM59 134h1v10h-1zM72 134h1v10h-1zM79 134h1v10h-1zM108 134h1v10h-1zM111 134h1v10h-1zM121 134h1v10h-1zM125 134h1v10h-1zM137 134h1v10h-1zM142 134h1v10h-1zM173 134h1v10h-1zM24 144h1v1h-1zM27 144h1v1h-1zM36 144h1v1h-1zM45 144h1v1h-1zM47 144h1v1h-1zM69 144h1v1h-1zM75 144h1v1h-1zM82 144h1v1h-1zM90 144h2v1h-2zM116 144h1v1h-1zM128 144h1v1h-1zM136 144h1v1h-1zM164 144h1v1h-1zM183 144h1v1h-1zM195 144h1v1h-1zM203 144h1v1h-1zM211 144h1v1h-1zM219 144h1v1h-1zM238 144h1v1h-1zM52 145h1v10h-1zM54 145h1v10h-1zM58 145h1v10h-1zM184 145h1v10h-1zM211 145h1v10h-1zM226 145h1v10h-1zM228 145h1v10h-1zM242 145h1v10h-1zM270 145h1v10h-1zM275 145h1v10h-1zM277 145h2v10h-2z"/><path fill="#676767" d="M9 0h1v2h-1zM23 0h1v2h-1zM25 0h1v2h-1zM26 0h1v2h-1zM32 0h1v2h-1zM35 0h1v2h-1zM39 0h1v2h-1zM44 0h2v2h-2zM49 0h1v2h-1zM55 0h1v2h-1zM58 0h1v2h-1zM86 0h1v2h-1zM92 0h1v2h-1zM109 0h1v2h-1zM115 0h1v2h-1zM130 0h1v2h-1zM176 0h1v2h-1zM177 0h1v2h-1zM178 0h1v2h-1zM184 0h2v2h-2zM186 0h1v2h-1zM187 0h1v2h-1zM189 0h1v2h-1zM194 0h1v2h-1zM201 0h1v2h-1zM211 0h1v2h-1zM214 0h1v2h-1zM225 0h1v2h-1zM229 0h1v2h-1zM241 0h1v2h-1zM263 0h1v2h-1zM266 0h1v2h-1zM269 0h1v2h-1zM284 0h1v2h-1zM285 0h1v2h-1zM290 0h1v2h-1zM292 0h1v2h-1zM296 0h1v2h-1zM313 0h1v2h-1zM316 0h1v2h-1zM317 0h1v2h-1zM322 0h1v2h-1zM328 0h1v2h-1zM343 0h1v2h-1zM344 0h2v2h-2zM368 0h1v2h-1zM15 2h1v30h-1zM31 2h1v30h-1zM33 2h1v30h-1zM34 2h1v30h-1zM36 2h1v30h-1zM42 2h1v30h-1zM44 2h1v30h-1zM46 2h1v30h-1zM48 2h1v30h-1zM50 2h1v30h-1zM53 2h1v30h-1zM54 2h1v30h-1zM60 2h1v30h-1zM66 2h1v30h-1zM80 2h1v30h-1zM84 2h1v30h-1zM87 2h1v30h-1zM91 2h1v30h-1zM92 2h1v30h-1zM96 2h1v30h-1zM113 2h1v30h-1zM117 2h1v30h-1zM123 2h1v30h-1zM134 2h1v30h-1zM150 2h1v30h-1zM177 2h1v30h-1zM179 2h1v30h-1zM182 2h1v30h-1zM183 2h1v30h-1zM192 2h1v30h-1zM195 2h1v30h-1zM197 2h1v30h-1zM203 2h1v30h-1zM205 2h1v30h-1zM207 2h1v30h-1zM213 2h1v30h-1zM235 2h1v30h-1zM248 2h1v30h-1zM250 2h1v30h-1zM254 2h1v30h-1zM279 2h1v30h-1zM281 2h1v30h-1zM4 32h2v56h-2zM10 32h1v56h-1zM16 32h1v56h-1zM22 32h1v56h-1zM24 32h1v56h-1zM26 32h3v56h-3zM30 32h1v56h-1zM35 32h1v56h-1zM41 32h1v56h-1zM61 32h1v56h-1zM62 32h1v56h-1zM67 32h1v56h-1zM69 32h1v56h-1zM72 32h1v56h-1zM78 32h1v56h-1zM85 32h1v56h-1zM90 32h1v56h-1zM103 32h1v56h-1zM110 32h1v56h-1zM112 32h1v56h-1zM119 32h1v56h-1zM123 32h1v56h-1zM134 32h1v56h-1zM150 32h1v56h-1zM177 32h1v56h-1zM179 32h1v56h-1zM182 32h1v56h-1zM192 32h1v56h-1zM195 32h1v56h-1zM197 32h1v56h-1zM205 32h1v56h-1zM213 32h1v56h-1zM223 32h1v56h-1zM235 32h1v56h-1zM248 32h1v56h-1zM254 32h1v56h-1zM268 32h1v56h-1zM279 32h1v56h-1zM281 32h1v56h-1zM4 88h1v46h-1zM7 88h1v46h-1zM17 88h1v46h-1zM20 88h1v46h-1zM22 88h1v46h-1zM27 88h1v46h-1zM30 88h1v46h-1zM35 88h1v46h-1zM41 88h1v46h-1zM62 88h1v46h-1zM67 88h1v46h-1zM69 88h1v46h-1zM72 88h1v46h-1zM78 88h1v46h-1zM85 88h1v46h-1zM90 88h1v46h-1zM103 88h1v46h-1zM110 88h1v46h-1zM112 88h1v46h-1zM123 88h1v46h-1zM134 88h1v46h-1zM150 88h1v46h-1zM177 88h1v46h-1zM179 88h1v46h-1zM182 88h1v46h-1zM183 88h1v46h-1zM192 88h1v46h-1zM195 88h1v46h-1zM197 88h1v46h-1zM203 88h1v46h-1zM205 88h1v46h-1zM207 88h1v46h-1zM213 88h1v46h-1zM235 88h1v46h-1zM248 88h1v46h-1zM250 88h1v46h-1zM254 88h1v46h-1zM279 88h1v46h-1zM281 88h1v46h-1zM3 134h1v10h-1zM8 134h2v10h-2zM12 134h1v10h-1zM18 134h2v10h-2zM22 134h1v10h-1zM28 134h1v10h-1zM37 134h1v10h-1zM62 134h1v10h-1zM69 134h1v10h-1zM78 134h1v10h-1zM81 134h2v10h-2zM84 134h2v10h-2zM88 134h1v10h-1zM91 134h2v10h-2zM94 134h1v10h-1zM97 134h2v10h-2zM101 134h2v10h-2zM103 134h1v10h-1zM115 134h1v10h-1zM119 134h2v10h-2zM124 134h1v10h-1zM126 134h1v10h-1zM130 134h2v10h-2zM133 134h2v10h-2zM139 134h1v10h-1zM145 134h1v10h-1zM160 134h1v10h-1zM243 134h1v10h-1zM272 134h1v10h-1zM23 144h1v1h-1zM25 144h2v1h-2zM28 144h2v1h-2zM30 144h1v1h-1zM31 144h1v1h-1zM32 144h1v1h-1zM34 144h1v1h-1zM37 144h1v1h-1zM38 144h3v1h-3zM46 144h1v1h-1zM48 144h1v1h-1zM51 144h2v1h-2zM54 144h1v1h-1zM68 144h1v1h-1zM74 144h1v1h-1zM76 144h1v1h-1zM77 144h1v1h-1zM81 144h1v1h-1zM83 144h1v1h-1zM86 144h1v1h-1zM89 144h1v1h-1zM96 144h1v1h-1zM98 144h1v1h-1zM109 144h1v1h-1zM120 144h1v1h-1zM125 144h1v1h-1zM129 144h1v1h-1zM146 144h1v1h-1zM148 144h1v1h-1zM149 144h3v1h-3zM153 144h1v1h-1zM156 144h1v1h-1zM160 144h1v1h-1zM162 144h1v1h-1zM163 144h1v1h-1zM166 144h1v1h-1zM169 144h2v1h-2zM172 144h1v1h-1zM173 144h1v1h-1zM174 144h1v1h-1zM175 144h2v1h-2zM179 144h1v1h-1zM181 144h2v1h-2zM185 144h1v1h-1zM187 144h1v1h-1zM189 144h2v1h-2zM202 144h1v1h-1zM206 144h1v1h-1zM210 144h1v1h-1zM221 144h1v1h-1zM225 144h1v1h-1zM230 144h1v1h-1zM239 144h2v1h-2zM242 144h1v1h-1zM245 144h1v1h-1zM247 144h1v1h-1zM251 144h1v1h-1zM254 144h1v1h-1zM255 144h1v1h-1zM264 144h1v1h-1zM268 144h1v1h-1zM269 144h1v1h-1zM270 144h1v1h-1zM272 144h1v1h-1zM273 144h1v1h-1zM281 144h1v1h-1zM291 144h1v1h-1zM296 144h1v1h-1zM299 144h1v1h-1zM300 144h1v1h-1zM302 144h1v1h-1zM310 144h1v1h-1zM341 144h1v1h-1zM351 144h1v1h-1zM355 144h1v1h-1zM361 144h1v1h-1zM3 145h1v10h-1zM7 145h3v10h-3zM11 145h1v10h-1zM22 145h2v10h-2zM24 145h1v10h-1zM26 145h2v10h-2zM33 145h1v10h-1zM41 145h1v10h-1zM44 145h1v10h-1zM53 145h1v10h-1zM56 145h1v10h-1zM59 145h1v10h-1zM62 145h1v10h-1zM79 145h1v10h-1zM81 145h1v10h-1zM99 145h1v10h-1zM102 145h1v10h-1zM106 145h1v10h-1zM134 145h1v10h-1zM180 145h1v10h-1zM185 145h1v10h-1zM187 145h1v10h-1zM188 145h2v10h-2zM191 145h2v10h-2zM199 145h1v10h-1zM209 145h1v10h-1zM216 145h1v10h-1zM223 145h1v10h-1zM230 145h1v10h-1zM233 145h1v10h-1zM251 145h1v10h-1zM255 145h1v10h-1zM258 145h1v10h-1zM262 145h1v10h-1zM286 145h1v10h-1z"/><path fill="#6d6d6d" d="M20 0h1v2h-1zM29 0h1v2h-1zM31 0h1v2h-1zM38 0h1v2h-1zM79 0h1v2h-1zM105 0h1v2h-1zM148 0h1v2h-1zM180 0h1v2h-1zM213 0h1v2h-1zM218 0h1v2h-1zM220 0h1v2h-1zM226 0h1v2h-1zM238 0h1v2h-1zM248 0h1v2h-1zM257 0h1v2h-1zM261 0h1v2h-1zM271 0h1v2h-1zM273 0h1v2h-1zM288 0h1v2h-1zM298 0h2v2h-2zM306 0h1v2h-1zM327 0h1v2h-1zM330 0h1v2h-1zM339 0h1v2h-1zM342 0h1v2h-1zM349 0h1v2h-1zM354 0h1v2h-1zM364 0h1v2h-1zM371 0h1v2h-1zM4 2h2v30h-2zM10 2h2v30h-2zM16 2h1v30h-1zM24 2h1v30h-1zM26 2h1v30h-1zM28 2h1v30h-1zM61 2h1v30h-1zM72 2h1v30h-1zM83 2h1v30h-1zM110 2h1v30h-1zM119 2h1v30h-1zM129 2h1v30h-1zM140 2h1v30h-1zM156 2h1v30h-1zM171 2h1v30h-1zM184 2h1v30h-1zM223 2h1v30h-1zM263 2h1v30h-1zM268 2h1v30h-1zM272 2h1v30h-1zM274 2h1v30h-1zM1 32h1v56h-1zM7 32h1v56h-1zM17 32h1v56h-1zM20 32h1v56h-1zM39 32h1v56h-1zM45 32h1v56h-1zM73 32h1v56h-1zM106 32h1v56h-1zM129 32h1v56h-1zM140 32h1v56h-1zM156 32h1v56h-1zM171 32h1v56h-1zM184 32h1v56h-1zM187 32h1v56h-1zM191 32h1v56h-1zM226 32h1v56h-1zM263 32h1v56h-1zM265 32h1v56h-1zM272 32h1v56h-1zM274 32h1v56h-1zM1 88h1v46h-1zM12 88h1v46h-1zM39 88h1v46h-1zM45 88h1v46h-1zM73 88h1v46h-1zM81 88h1v46h-1zM102 88h1v46h-1zM106 88h1v46h-1zM129 88h1v46h-1zM140 88h1v46h-1zM156 88h1v46h-1zM171 88h1v46h-1zM184 88h1v46h-1zM223 88h1v46h-1zM263 88h1v46h-1zM268 88h1v46h-1zM272 88h1v46h-1zM274 88h1v46h-1zM2 134h1v10h-1zM30 134h1v10h-1zM60 134h1v10h-1zM67 134h2v10h-2zM71 134h1v10h-1zM90 134h1v10h-1zM116 134h1v10h-1zM132 134h1v10h-1zM144 134h1v10h-1zM157 134h1v10h-1zM159 134h1v10h-1zM164 134h1v10h-1zM174 134h1v10h-1zM176 134h1v10h-1zM181 134h1v10h-1zM308 134h1v10h-1zM2 144h1v1h-1zM7 144h1v1h-1zM22 144h1v1h-1zM43 144h1v1h-1zM49 144h1v1h-1zM55 144h1v1h-1zM57 144h1v1h-1zM79 144h1v1h-1zM103 144h1v1h-1zM111 144h3v1h-3zM121 144h1v1h-1zM124 144h1v1h-1zM130 144h2v1h-2zM135 144h1v1h-1zM140 144h2v1h-2zM144 144h1v1h-1zM154 144h2v1h-2zM161 144h1v1h-1zM165 144h1v1h-1zM168 144h1v1h-1zM193 144h1v1h-1zM200 144h2v1h-2zM204 144h1v1h-1zM214 144h5v1h-5zM222 144h2v1h-2zM235 144h1v1h-1zM250 144h1v1h-1zM256 144h1v1h-1zM258 144h1v1h-1zM267 144h1v1h-1zM274 144h1v1h-1zM276 144h2v1h-2zM279 144h1v1h-1zM286 144h1v1h-1zM317 144h1v1h-1zM324 144h1v1h-1zM330 144h1v1h-1zM340 144h1v1h-1zM346 144h1v1h-1zM353 144h1v1h-1zM357 144h1v1h-1zM362 144h2v1h-2zM45 145h3v10h-3zM71 145h1v10h-1zM93 145h1v10h-1zM95 145h1v10h-1zM97 145h1v10h-1zM108 145h1v10h-1zM178 145h1v10h-1zM190 145h1v10h-1zM193 145h1v10h-1zM195 145h1v10h-1zM207 145h1v10h-1zM221 145h1v10h-1zM232 145h1v10h-1zM239 145h1v10h-1zM243 145h1v10h-1zM257 145h1v10h-1zM261 145h1v10h-1zM268 145h1v10h-1zM350 145h1v10h-1z"/><path fill="#727272" d="M22 0h1v2h-1zM33 0h1v2h-1zM40 0h2v2h-2zM47 0h1v2h-1zM53 0h1v2h-1zM65 0h1v2h-1zM88 0h1v2h-1zM96 0h1v2h-1zM100 0h1v2h-1zM118 0h1v2h-1zM131 0h1v2h-1zM166 0h1v2h-1zM179 0h1v2h-1zM181 0h1v2h-1zM188 0h1v2h-1zM209 0h1v2h-1zM221 0h1v2h-1zM234 0h1v2h-1zM243 0h3v2h-3zM253 0h1v2h-1zM279 0h1v2h-1zM291 0h1v2h-1zM293 0h1v2h-1zM300 0h1v2h-1zM307 0h1v2h-1zM311 0h1v2h-1zM314 0h1v2h-1zM318 0h2v2h-2zM321 0h1v2h-1zM323 0h1v2h-1zM334 0h2v2h-2zM341 0h1v2h-1zM362 0h1v2h-1zM365 0h1v2h-1zM22 2h1v30h-1zM27 2h1v30h-1zM30 2h1v30h-1zM41 2h1v30h-1zM62 2h1v30h-1zM67 2h1v30h-1zM69 2h1v30h-1zM78 2h1v30h-1zM85 2h1v30h-1zM146 2h1v30h-1zM163 2h1v30h-1zM187 2h1v30h-1zM191 2h1v30h-1zM196 2h1v30h-1zM204 2h1v30h-1zM226 2h1v30h-1zM238 2h1v30h-1zM251 2h1v30h-1zM256 2h1v30h-1zM260 2h1v30h-1zM265 2h1v30h-1zM0 32h1v56h-1zM12 32h2v56h-2zM40 32h1v56h-1zM81 32h1v56h-1zM102 32h1v56h-1zM114 32h1v56h-1zM118 32h1v56h-1zM146 32h1v56h-1zM163 32h1v56h-1zM180 32h1v56h-1zM196 32h1v56h-1zM200 32h1v56h-1zM204 32h1v56h-1zM238 32h1v56h-1zM251 32h1v56h-1zM255 32h2v56h-2zM260 32h1v56h-1zM267 32h1v56h-1zM278 32h1v56h-1zM0 88h1v46h-1zM9 88h1v46h-1zM13 88h1v46h-1zM40 88h1v46h-1zM65 88h1v46h-1zM74 88h2v46h-2zM114 88h1v46h-1zM118 88h1v46h-1zM146 88h1v46h-1zM163 88h1v46h-1zM187 88h1v46h-1zM191 88h1v46h-1zM196 88h1v46h-1zM204 88h1v46h-1zM226 88h1v46h-1zM238 88h1v46h-1zM251 88h1v46h-1zM256 88h1v46h-1zM260 88h1v46h-1zM265 88h1v46h-1zM7 134h1v10h-1zM58 134h1v10h-1zM80 134h1v10h-1zM89 134h1v10h-1zM95 134h1v10h-1zM99 134h1v10h-1zM113 134h1v10h-1zM118 134h1v10h-1zM135 134h1v10h-1zM156 134h1v10h-1zM161 134h1v10h-1zM175 134h1v10h-1zM224 134h1v10h-1zM237 134h1v10h-1zM242 134h1v10h-1zM264 134h1v10h-1zM317 134h1v10h-1zM41 144h1v1h-1zM59 144h1v1h-1zM67 144h1v1h-1zM70 144h1v1h-1zM94 144h1v1h-1zM105 144h1v1h-1zM108 144h1v1h-1zM115 144h1v1h-1zM122 144h2v1h-2zM126 144h2v1h-2zM132 144h3v1h-3zM137 144h1v1h-1zM145 144h1v1h-1zM147 144h1v1h-1zM157 144h3v1h-3zM177 144h1v1h-1zM186 144h1v1h-1zM191 144h1v1h-1zM194 144h1v1h-1zM197 144h1v1h-1zM205 144h1v1h-1zM208 144h1v1h-1zM224 144h1v1h-1zM232 144h1v1h-1zM236 144h2v1h-2zM244 144h1v1h-1zM253 144h1v1h-1zM266 144h1v1h-1zM271 144h1v1h-1zM285 144h1v1h-1zM287 144h2v1h-2zM293 144h1v1h-1zM295 144h1v1h-1zM301 144h1v1h-1zM303 144h1v1h-1zM306 144h1v1h-1zM309 144h1v1h-1zM319 144h1v1h-1zM326 144h1v1h-1zM335 144h1v1h-1zM16 145h1v10h-1zM19 145h1v10h-1zM21 145h1v10h-1zM25 145h1v10h-1zM29 145h1v10h-1zM50 145h1v10h-1zM57 145h1v10h-1zM77 145h1v10h-1zM109 145h1v10h-1zM117 145h1v10h-1zM119 145h1v10h-1zM151 145h1v10h-1zM160 145h1v10h-1zM175 145h1v10h-1zM197 145h2v10h-2zM217 145h1v10h-1zM231 145h1v10h-1zM234 145h1v10h-1zM246 145h1v10h-1zM274 145h1v10h-1zM353 145h1v10h-1z"/><path fill="#777777" d="M3 0h3v2h-3zM14 0h1v2h-1zM17 0h1v2h-1zM30 0h1v2h-1zM34 0h1v2h-1zM36 0h1v2h-1zM37 0h1v2h-1zM42 0h1v2h-1zM48 0h1v2h-1zM51 0h1v2h-1zM52 0h1v2h-1zM54 0h1v2h-1zM60 0h1v2h-1zM62 0h1v2h-1zM63 0h1v2h-1zM67 0h1v2h-1zM69 0h1v2h-1zM72 0h1v2h-1zM77 0h1v2h-1zM78 0h1v2h-1zM83 0h1v2h-1zM99 0h1v2h-1zM103 0h2v2h-2zM106 0h1v2h-1zM108 0h1v2h-1zM114 0h1v2h-1zM119 0h1v2h-1zM121 0h1v2h-1zM140 0h2v2h-2zM143 0h1v2h-1zM154 0h1v2h-1zM159 0h1v2h-1zM168 0h1v2h-1zM175 0h1v2h-1zM183 0h1v2h-1zM193 0h1v2h-1zM195 0h1v2h-1zM199 0h2v2h-2zM202 0h1v2h-1zM204 0h1v2h-1zM205 0h1v2h-1zM207 0h1v2h-1zM208 0h1v2h-1zM210 0h1v2h-1zM215 0h1v2h-1zM222 0h1v2h-1zM224 0h1v2h-1zM232 0h1v2h-1zM236 0h1v2h-1zM237 0h1v2h-1zM239 0h2v2h-2zM258 0h1v2h-1zM260 0h1v2h-1zM264 0h1v2h-1zM265 0h1v2h-1zM268 0h1v2h-1zM270 0h1v2h-1zM274 0h1v2h-1zM275 0h1v2h-1zM276 0h2v2h-2zM278 0h1v2h-1zM281 0h3v2h-3zM287 0h1v2h-1zM289 0h1v2h-1zM302 0h1v2h-1zM305 0h1v2h-1zM310 0h1v2h-1zM320 0h1v2h-1zM329 0h1v2h-1zM332 0h2v2h-2zM336 0h1v2h-1zM338 0h1v2h-1zM348 0h1v2h-1zM351 0h2v2h-2zM355 0h1v2h-1zM361 0h1v2h-1zM363 0h1v2h-1zM367 0h1v2h-1zM369 0h2v2h-2zM1 2h1v30h-1zM7 2h1v30h-1zM12 2h1v30h-1zM17 2h1v30h-1zM20 2h1v30h-1zM35 2h1v30h-1zM39 2h1v30h-1zM45 2h1v30h-1zM73 2h1v30h-1zM81 2h1v30h-1zM90 2h1v30h-1zM102 2h1v30h-1zM103 2h1v30h-1zM106 2h1v30h-1zM112 2h1v30h-1zM114 2h1v30h-1zM124 2h1v30h-1zM161 2h1v30h-1zM180 2h1v30h-1zM185 2h1v30h-1zM186 2h1v30h-1zM188 2h1v30h-1zM198 2h1v30h-1zM200 2h1v30h-1zM202 2h1v30h-1zM216 2h1v30h-1zM225 2h1v30h-1zM237 2h1v30h-1zM240 2h2v30h-2zM249 2h1v30h-1zM255 2h1v30h-1zM259 2h1v30h-1zM264 2h1v30h-1zM267 2h1v30h-1zM269 2h1v30h-1zM273 2h1v30h-1zM278 2h1v30h-1zM2 32h1v56h-1zM3 32h1v56h-1zM9 32h1v56h-1zM14 32h1v56h-1zM25 32h1v56h-1zM38 32h1v56h-1zM56 32h1v56h-1zM65 32h1v56h-1zM70 32h1v56h-1zM74 32h2v56h-2zM82 32h1v56h-1zM94 32h1v56h-1zM97 32h1v56h-1zM98 32h1v56h-1zM100 32h1v56h-1zM104 32h1v56h-1zM124 32h1v56h-1zM161 32h1v56h-1zM185 32h2v56h-2zM188 32h1v56h-1zM198 32h1v56h-1zM202 32h1v56h-1zM216 32h1v56h-1zM221 32h1v56h-1zM225 32h1v56h-1zM231 32h1v56h-1zM237 32h1v56h-1zM240 32h2v56h-2zM249 32h1v56h-1zM259 32h1v56h-1zM264 32h1v56h-1zM269 32h1v56h-1zM270 32h1v56h-1zM273 32h1v56h-1zM2 88h1v46h-1zM3 88h1v46h-1zM14 88h1v46h-1zM25 88h1v46h-1zM38 88h1v46h-1zM56 88h1v46h-1zM70 88h1v46h-1zM82 88h1v46h-1zM94 88h1v46h-1zM97 88h2v46h-2zM100 88h1v46h-1zM104 88h1v46h-1zM107 88h1v46h-1zM109 88h1v46h-1zM116 88h1v46h-1zM124 88h1v46h-1zM161 88h1v46h-1zM180 88h1v46h-1zM185 88h1v46h-1zM186 88h1v46h-1zM188 88h1v46h-1zM198 88h1v46h-1zM200 88h1v46h-1zM202 88h1v46h-1zM216 88h1v46h-1zM225 88h1v46h-1zM237 88h1v46h-1zM240 88h2v46h-2zM249 88h1v46h-1zM255 88h1v46h-1zM259 88h1v46h-1zM264 88h1v46h-1zM267 88h1v46h-1zM269 88h1v46h-1zM273 88h1v46h-1zM278 88h1v46h-1zM17 134h1v10h-1zM23 134h1v10h-1zM25 134h1v10h-1zM43 134h2v10h-2zM48 134h1v10h-1zM52 134h1v10h-1zM73 134h1v10h-1zM105 134h1v10h-1zM117 134h1v10h-1zM122 134h1v10h-1zM143 134h1v10h-1zM146 134h1v10h-1zM151 134h1v10h-1zM155 134h1v10h-1zM163 134h1v10h-1zM165 134h2v10h-2zM172 134h1v10h-1zM180 134h1v10h-1zM192 134h1v10h-1zM220 134h1v10h-1zM231 134h1v10h-1zM236 134h1v10h-1zM269 134h1v10h-1zM270 134h1v10h-1zM280 134h1v10h-1zM296 134h1v10h-1zM319 134h1v10h-1zM344 134h1v10h-1zM1 144h1v1h-1zM4 144h3v1h-3zM8 144h1v1h-1zM9 144h1v1h-1zM11 144h1v1h-1zM13 144h1v1h-1zM14 144h1v1h-1zM16 144h1v1h-1zM20 144h1v1h-1zM61 144h4v1h-4zM71 144h1v1h-1zM72 144h2v1h-2zM88 144h1v1h-1zM95 144h1v1h-1zM97 144h1v1h-1zM99 144h2v1h-2zM101 144h1v1h-1zM102 144h1v1h-1zM104 144h1v1h-1zM106 144h1v1h-1zM107 144h1v1h-1zM110 144h1v1h-1zM114 144h1v1h-1zM117 144h1v1h-1zM138 144h1v1h-1zM139 144h1v1h-1zM142 144h2v1h-2zM171 144h1v1h-1zM180 144h1v1h-1zM192 144h1v1h-1zM196 144h1v1h-1zM198 144h2v1h-2zM207 144h1v1h-1zM209 144h1v1h-1zM212 144h2v1h-2zM220 144h1v1h-1zM226 144h1v1h-1zM227 144h2v1h-2zM229 144h1v1h-1zM233 144h2v1h-2zM248 144h1v1h-1zM252 144h1v1h-1zM257 144h1v1h-1zM259 144h1v1h-1zM261 144h3v1h-3zM265 144h1v1h-1zM275 144h1v1h-1zM278 144h1v1h-1zM280 144h1v1h-1zM282 144h3v1h-3zM290 144h1v1h-1zM292 144h1v1h-1zM294 144h1v1h-1zM298 144h1v1h-1zM304 144h1v1h-1zM311 144h2v1h-2zM315 144h1v1h-1zM318 144h1v1h-1zM321 144h1v1h-1zM325 144h1v1h-1zM327 144h1v1h-1zM328 144h1v1h-1zM329 144h1v1h-1zM332 144h2v1h-2zM334 144h1v1h-1zM337 144h3v1h-3zM342 144h2v1h-2zM345 144h1v1h-1zM347 144h2v1h-2zM350 144h1v1h-1zM354 144h1v1h-1zM356 144h1v1h-1zM364 144h1v1h-1zM365 144h3v1h-3zM368 144h2v1h-2zM371 144h1v1h-1zM0 145h1v10h-1zM5 145h1v10h-1zM10 145h1v10h-1zM12 145h1v10h-1zM13 145h1v10h-1zM14 145h1v10h-1zM17 145h1v10h-1zM31 145h1v10h-1zM34 145h1v10h-1zM38 145h1v10h-1zM42 145h1v10h-1zM55 145h1v10h-1zM60 145h2v10h-2zM63 145h1v10h-1zM64 145h1v10h-1zM65 145h1v10h-1zM85 145h1v10h-1zM88 145h1v10h-1zM107 145h1v10h-1zM110 145h1v10h-1zM147 145h1v10h-1zM150 145h1v10h-1zM156 145h1v10h-1zM158 145h1v10h-1zM168 145h1v10h-1zM179 145h1v10h-1zM194 145h1v10h-1zM204 145h1v10h-1zM213 145h1v10h-1zM218 145h1v10h-1zM224 145h1v10h-1zM227 145h1v10h-1zM238 145h1v10h-1zM241 145h1v10h-1zM247 145h1v10h-1zM249 145h1v10h-1zM250 145h1v10h-1zM254 145h1v10h-1zM267 145h1v10h-1zM269 145h1v10h-1zM282 145h1v10h-1zM289 145h1v10h-1zM299 145h1v10h-1zM315 145h1v10h-1zM324 145h1v10h-1zM325 145h1v10h-1zM330 145h1v10h-1zM335 145h1v10h-1zM345 145h1v10h-1zM356 145h1v10h-1zM359 145h1v10h-1zM362 145h1v10h-1z"/><path fill="#7d7d7d" d="M0 0h1v2h-1zM7 0h1v2h-1zM11 0h1v2h-1zM13 0h1v2h-1zM18 0h1v2h-1zM50 0h1v2h-1zM81 0h1v2h-1zM84 0h1v2h-1zM93 0h1v2h-1zM97 0h2v2h-2zM102 0h1v2h-1zM113 0h1v2h-1zM123 0h1v2h-1zM128 0h1v2h-1zM133 0h1v2h-1zM142 0h1v2h-1zM144 0h1v2h-1zM147 0h1v2h-1zM153 0h1v2h-1zM170 0h1v2h-1zM203 0h1v2h-1zM206 0h1v2h-1zM212 0h1v2h-1zM217 0h1v2h-1zM219 0h1v2h-1zM230 0h1v2h-1zM246 0h1v2h-1zM249 0h3v2h-3zM254 0h1v2h-1zM256 0h1v2h-1zM295 0h1v2h-1zM325 0h1v2h-1zM337 0h1v2h-1zM340 0h1v2h-1zM347 0h1v2h-1zM350 0h1v2h-1zM0 2h1v30h-1zM9 2h1v30h-1zM13 2h1v30h-1zM40 2h1v30h-1zM65 2h1v30h-1zM74 2h2v30h-2zM118 2h1v30h-1zM158 2h1v30h-1zM164 2h1v30h-1zM166 2h1v30h-1zM209 2h1v30h-1zM218 2h1v30h-1zM221 2h1v30h-1zM230 2h2v30h-2zM261 2h2v30h-2zM266 2h1v30h-1zM270 2h1v30h-1zM8 32h1v56h-1zM107 32h1v56h-1zM109 32h1v56h-1zM116 32h1v56h-1zM158 32h1v56h-1zM164 32h1v56h-1zM166 32h1v56h-1zM178 32h1v56h-1zM209 32h1v56h-1zM218 32h1v56h-1zM227 32h1v56h-1zM230 32h1v56h-1zM261 32h2v56h-2zM266 32h1v56h-1zM8 88h1v46h-1zM64 88h1v46h-1zM158 88h1v46h-1zM164 88h1v46h-1zM166 88h1v46h-1zM209 88h1v46h-1zM218 88h1v46h-1zM221 88h1v46h-1zM230 88h2v46h-2zM261 88h2v46h-2zM266 88h1v46h-1zM270 88h1v46h-1zM14 134h1v10h-1zM57 134h1v10h-1zM100 134h1v10h-1zM170 134h1v10h-1zM177 134h1v10h-1zM201 134h1v10h-1zM238 134h1v10h-1zM249 134h1v10h-1zM279 134h1v10h-1zM286 134h1v10h-1zM291 134h2v10h-2zM328 134h1v10h-1zM353 134h1v10h-1zM364 134h1v10h-1zM0 144h1v1h-1zM10 144h1v1h-1zM56 144h1v1h-1zM65 144h1v1h-1zM167 144h1v1h-1zM241 144h1v1h-1zM243 144h1v1h-1zM249 144h1v1h-1zM260 144h1v1h-1zM289 144h1v1h-1zM297 144h1v1h-1zM305 144h1v1h-1zM307 144h2v1h-2zM314 144h1v1h-1zM323 144h1v1h-1zM331 144h1v1h-1zM344 144h1v1h-1zM349 144h1v1h-1zM352 144h1v1h-1zM358 144h1v1h-1zM360 144h1v1h-1zM15 145h1v10h-1zM67 145h1v10h-1zM70 145h1v10h-1zM82 145h1v10h-1zM84 145h1v10h-1zM87 145h1v10h-1zM89 145h1v10h-1zM103 145h1v10h-1zM113 145h2v10h-2zM135 145h1v10h-1zM229 145h1v10h-1zM259 145h1v10h-1zM276 145h1v10h-1zM311 145h1v10h-1zM371 145h1v10h-1z"/><path fill="#828282" d="M15 0h1v2h-1zM56 0h2v2h-2zM59 0h1v2h-1zM64 0h1v2h-1zM66 0h1v2h-1zM68 0h1v2h-1zM71 0h1v2h-1zM73 0h3v2h-3zM89 0h1v2h-1zM95 0h1v2h-1zM101 0h1v2h-1zM111 0h1v2h-1zM122 0h1v2h-1zM139 0h1v2h-1zM145 0h1v2h-1zM149 0h1v2h-1zM167 0h1v2h-1zM192 0h1v2h-1zM233 0h1v2h-1zM252 0h1v2h-1zM259 0h1v2h-1zM267 0h1v2h-1zM280 0h1v2h-1zM286 0h1v2h-1zM312 0h1v2h-1zM356 0h1v2h-1zM358 0h1v2h-1zM3 2h1v30h-1zM14 2h1v30h-1zM25 2h1v30h-1zM38 2h1v30h-1zM56 2h1v30h-1zM94 2h1v30h-1zM97 2h2v30h-2zM104 2h1v30h-1zM130 2h2v30h-2zM133 2h1v30h-1zM165 2h1v30h-1zM178 2h1v30h-1zM206 2h1v30h-1zM211 2h1v30h-1zM224 2h1v30h-1zM227 2h1v30h-1zM303 2h1v30h-1zM363 2h1v30h-1zM64 32h1v56h-1zM101 32h1v56h-1zM130 32h2v56h-2zM133 32h1v56h-1zM165 32h1v56h-1zM181 32h1v56h-1zM206 32h1v56h-1zM211 32h1v56h-1zM224 32h1v56h-1zM244 32h1v56h-1zM303 32h1v56h-1zM363 32h1v56h-1zM89 88h1v46h-1zM101 88h1v46h-1zM130 88h2v46h-2zM133 88h1v46h-1zM165 88h1v46h-1zM178 88h1v46h-1zM206 88h1v46h-1zM211 88h1v46h-1zM224 88h1v46h-1zM227 88h1v46h-1zM303 88h1v46h-1zM363 88h1v46h-1zM96 134h1v10h-1zM168 134h1v10h-1zM182 134h1v10h-1zM185 134h1v10h-1zM189 134h1v10h-1zM204 134h1v10h-1zM216 134h1v10h-1zM222 134h2v10h-2zM250 134h1v10h-1zM257 134h1v10h-1zM360 134h1v10h-1zM368 134h1v10h-1zM3 144h1v1h-1zM15 144h1v1h-1zM18 144h2v1h-2zM58 144h1v1h-1zM60 144h1v1h-1zM66 144h1v1h-1zM119 144h1v1h-1zM246 144h1v1h-1zM316 144h1v1h-1zM320 144h1v1h-1zM336 144h1v1h-1zM359 144h1v1h-1zM370 144h1v1h-1zM20 145h1v10h-1zM32 145h1v10h-1zM36 145h2v10h-2zM39 145h1v10h-1zM43 145h1v10h-1zM75 145h2v10h-2zM80 145h1v10h-1zM138 145h1v10h-1zM141 145h1v10h-1zM165 145h1v10h-1zM177 145h1v10h-1zM200 145h1v10h-1zM215 145h1v10h-1zM219 145h1v10h-1zM235 145h1v10h-1zM265 145h1v10h-1zM280 145h1v10h-1zM307 145h1v10h-1zM322 145h1v10h-1zM354 145h1v10h-1z"/><path fill="#888888" d="M6 0h1v2h-1zM8 0h1v2h-1zM12 0h1v2h-1zM16 0h1v2h-1zM19 0h1v2h-1zM61 0h1v2h-1zM70 0h1v2h-1zM90 0h1v2h-1zM107 0h1v2h-1zM110 0h1v2h-1zM116 0h1v2h-1zM120 0h1v2h-1zM124 0h1v2h-1zM126 0h1v2h-1zM129 0h1v2h-1zM134 0h2v2h-2zM146 0h1v2h-1zM150 0h1v2h-1zM152 0h1v2h-1zM160 0h4v2h-4zM164 0h2v2h-2zM169 0h1v2h-1zM171 0h1v2h-1zM173 0h2v2h-2zM197 0h1v2h-1zM216 0h1v2h-1zM231 0h1v2h-1zM247 0h1v2h-1zM255 0h1v2h-1zM262 0h1v2h-1zM331 0h1v2h-1zM357 0h1v2h-1zM2 2h1v30h-1zM8 2h1v30h-1zM64 2h1v30h-1zM70 2h1v30h-1zM82 2h1v30h-1zM100 2h1v30h-1zM107 2h1v30h-1zM109 2h1v30h-1zM116 2h1v30h-1zM120 2h1v30h-1zM136 2h1v30h-1zM159 2h1v30h-1zM181 2h1v30h-1zM201 2h1v30h-1zM208 2h1v30h-1zM214 2h1v30h-1zM243 2h1v30h-1zM244 2h1v30h-1zM247 2h1v30h-1zM257 2h1v30h-1zM287 2h1v30h-1zM289 2h1v30h-1zM297 2h1v30h-1zM307 2h1v30h-1zM349 2h1v30h-1zM368 2h1v30h-1zM6 32h1v56h-1zM18 32h1v56h-1zM59 32h1v56h-1zM89 32h1v56h-1zM95 32h1v56h-1zM120 32h1v56h-1zM136 32h1v56h-1zM159 32h1v56h-1zM201 32h1v56h-1zM208 32h1v56h-1zM214 32h1v56h-1zM243 32h1v56h-1zM247 32h1v56h-1zM257 32h1v56h-1zM287 32h1v56h-1zM289 32h1v56h-1zM349 32h1v56h-1zM368 32h1v56h-1zM6 88h1v46h-1zM18 88h1v46h-1zM59 88h1v46h-1zM95 88h1v46h-1zM120 88h1v46h-1zM136 88h1v46h-1zM159 88h1v46h-1zM181 88h1v46h-1zM201 88h1v46h-1zM208 88h1v46h-1zM214 88h1v46h-1zM243 88h1v46h-1zM244 88h1v46h-1zM247 88h1v46h-1zM257 88h1v46h-1zM287 88h1v46h-1zM289 88h1v46h-1zM349 88h1v46h-1zM368 88h1v46h-1zM40 134h1v10h-1zM56 134h1v10h-1zM77 134h1v10h-1zM93 134h1v10h-1zM128 134h1v10h-1zM152 134h1v10h-1zM154 134h1v10h-1zM184 134h1v10h-1zM195 134h1v10h-1zM202 134h1v10h-1zM218 134h1v10h-1zM233 134h1v10h-1zM244 134h1v10h-1zM245 134h1v10h-1zM246 134h1v10h-1zM255 134h1v10h-1zM258 134h1v10h-1zM273 134h1v10h-1zM285 134h1v10h-1zM290 134h1v10h-1zM293 134h1v10h-1zM305 134h1v10h-1zM310 134h1v10h-1zM316 134h1v10h-1zM320 134h1v10h-1zM330 134h1v10h-1zM331 134h1v10h-1zM334 134h2v10h-2zM341 134h1v10h-1zM347 134h2v10h-2zM352 134h1v10h-1zM354 134h1v10h-1zM356 134h1v10h-1zM361 134h1v10h-1zM362 134h1v10h-1zM369 134h1v10h-1zM17 144h1v1h-1zM118 144h1v1h-1zM313 144h1v1h-1zM6 145h1v10h-1zM28 145h1v10h-1zM30 145h1v10h-1zM68 145h2v10h-2zM73 145h2v10h-2zM78 145h1v10h-1zM86 145h1v10h-1zM92 145h1v10h-1zM96 145h1v10h-1zM112 145h1v10h-1zM120 145h1v10h-1zM123 145h1v10h-1zM132 145h1v10h-1zM143 145h3v10h-3zM148 145h1v10h-1zM154 145h1v10h-1zM159 145h1v10h-1zM161 145h1v10h-1zM170 145h1v10h-1zM183 145h1v10h-1zM206 145h1v10h-1zM214 145h1v10h-1zM222 145h1v10h-1zM244 145h1v10h-1zM252 145h1v10h-1zM263 145h1v10h-1zM273 145h1v10h-1zM293 145h1v10h-1zM295 145h1v10h-1zM298 145h1v10h-1zM303 145h1v10h-1zM304 145h1v10h-1zM316 145h1v10h-1zM319 145h1v10h-1zM333 145h2v10h-2zM342 145h2v10h-2zM347 145h1v10h-1zM357 145h1v10h-1z"/><path fill="#8d8d8d" d="M1 0h2v2h-2zM10 0h1v2h-1zM94 0h1v2h-1zM127 0h1v2h-1zM132 0h1v2h-1zM137 0h2v2h-2zM156 0h1v2h-1zM172 0h1v2h-1zM324 0h1v2h-1zM89 2h1v30h-1zM101 2h1v30h-1zM135 2h1v30h-1zM137 2h1v30h-1zM142 2h1v30h-1zM162 2h1v30h-1zM212 2h1v30h-1zM239 2h1v30h-1zM242 2h1v30h-1zM293 2h1v30h-1zM295 2h1v30h-1zM310 2h1v30h-1zM332 2h1v30h-1zM356 2h1v30h-1zM370 2h1v30h-1zM57 32h1v56h-1zM135 32h1v56h-1zM137 32h1v56h-1zM142 32h1v56h-1zM162 32h1v56h-1zM199 32h1v56h-1zM212 32h1v56h-1zM228 32h1v56h-1zM233 32h1v56h-1zM239 32h1v56h-1zM242 32h1v56h-1zM253 32h1v56h-1zM293 32h1v56h-1zM295 32h1v56h-1zM297 32h1v56h-1zM307 32h1v56h-1zM310 32h1v56h-1zM332 32h1v56h-1zM356 32h1v56h-1zM57 88h1v46h-1zM135 88h1v46h-1zM137 88h1v46h-1zM142 88h1v46h-1zM162 88h1v46h-1zM212 88h1v46h-1zM239 88h1v46h-1zM242 88h1v46h-1zM293 88h1v46h-1zM295 88h1v46h-1zM297 88h1v46h-1zM307 88h1v46h-1zM310 88h1v46h-1zM332 88h1v46h-1zM356 88h1v46h-1zM183 134h1v10h-1zM191 134h1v10h-1zM205 134h1v10h-1zM210 134h1v10h-1zM213 134h1v10h-1zM221 134h1v10h-1zM226 134h1v10h-1zM229 134h1v10h-1zM248 134h1v10h-1zM253 134h1v10h-1zM261 134h1v10h-1zM268 134h1v10h-1zM277 134h1v10h-1zM283 134h1v10h-1zM298 134h1v10h-1zM300 134h2v10h-2zM307 134h1v10h-1zM312 134h2v10h-2zM315 134h1v10h-1zM343 134h1v10h-1zM345 134h2v10h-2zM357 134h1v10h-1zM365 134h1v10h-1zM367 134h1v10h-1zM72 145h1v10h-1zM83 145h1v10h-1zM91 145h1v10h-1zM94 145h1v10h-1zM115 145h2v10h-2zM153 145h1v10h-1zM155 145h1v10h-1zM163 145h1v10h-1zM167 145h1v10h-1zM172 145h1v10h-1zM174 145h1v10h-1zM196 145h1v10h-1zM210 145h1v10h-1zM310 145h1v10h-1zM314 145h1v10h-1zM317 145h1v10h-1zM326 145h1v10h-1zM329 145h1v10h-1zM344 145h1v10h-1zM346 145h1v10h-1zM349 145h1v10h-1zM365 145h1v10h-1zM368 145h1v10h-1z"/><path fill="#929292" d="M125 0h1v2h-1zM136 0h1v2h-1zM151 0h1v2h-1zM315 0h1v2h-1zM18 2h1v30h-1zM59 2h1v30h-1zM95 2h1v30h-1zM126 2h1v30h-1zM141 2h1v30h-1zM143 2h1v30h-1zM147 2h1v30h-1zM152 2h1v30h-1zM167 2h2v30h-2zM199 2h1v30h-1zM228 2h1v30h-1zM233 2h1v30h-1zM236 2h1v30h-1zM253 2h1v30h-1zM292 2h1v30h-1zM301 2h1v30h-1zM314 2h1v30h-1zM316 2h1v30h-1zM334 2h1v30h-1zM338 2h1v30h-1zM342 2h1v30h-1zM126 32h1v56h-1zM141 32h1v56h-1zM143 32h1v56h-1zM147 32h1v56h-1zM152 32h1v56h-1zM167 32h2v56h-2zM234 32h1v56h-1zM236 32h1v56h-1zM301 32h1v56h-1zM314 32h1v56h-1zM334 32h1v56h-1zM370 32h1v56h-1zM126 88h1v46h-1zM141 88h1v46h-1zM143 88h1v46h-1zM147 88h1v46h-1zM152 88h1v46h-1zM167 88h2v46h-2zM199 88h1v46h-1zM228 88h1v46h-1zM233 88h1v46h-1zM236 88h1v46h-1zM253 88h1v46h-1zM301 88h1v46h-1zM314 88h1v46h-1zM334 88h1v46h-1zM370 88h1v46h-1zM158 134h1v10h-1zM178 134h1v10h-1zM190 134h1v10h-1zM194 134h1v10h-1zM227 134h1v10h-1zM232 134h1v10h-1zM235 134h1v10h-1zM251 134h2v10h-2zM256 134h1v10h-1zM263 134h1v10h-1zM275 134h1v10h-1zM281 134h1v10h-1zM297 134h1v10h-1zM299 134h1v10h-1zM303 134h2v10h-2zM314 134h1v10h-1zM326 134h1v10h-1zM329 134h1v10h-1zM332 134h1v10h-1zM340 134h1v10h-1zM342 134h1v10h-1zM355 134h1v10h-1zM359 134h1v10h-1zM363 134h1v10h-1zM370 134h1v10h-1zM18 145h1v10h-1zM101 145h1v10h-1zM121 145h1v10h-1zM124 145h1v10h-1zM129 145h1v10h-1zM137 145h1v10h-1zM139 145h1v10h-1zM173 145h1v10h-1zM281 145h1v10h-1zM287 145h1v10h-1zM291 145h1v10h-1zM297 145h1v10h-1zM308 145h2v10h-2zM321 145h1v10h-1zM351 145h1v10h-1zM355 145h1v10h-1zM358 145h1v10h-1zM363 145h1v10h-1z"/><path fill="#989898" d="M112 0h1v2h-1zM117 0h1v2h-1zM155 0h1v2h-1zM157 0h1v2h-1zM303 0h1v2h-1zM6 2h1v30h-1zM57 2h1v30h-1zM122 2h1v30h-1zM127 2h1v30h-1zM149 2h1v30h-1zM151 2h1v30h-1zM222 2h1v30h-1zM234 2h1v30h-1zM271 2h1v30h-1zM300 2h1v30h-1zM304 2h2v30h-2zM309 2h1v30h-1zM313 2h1v30h-1zM317 2h1v30h-1zM325 2h1v30h-1zM329 2h1v30h-1zM335 2h1v30h-1zM339 2h2v30h-2zM343 2h1v30h-1zM345 2h1v30h-1zM348 2h1v30h-1zM359 2h1v30h-1zM360 2h1v30h-1zM366 2h1v30h-1zM367 2h1v30h-1zM371 2h1v30h-1zM122 32h1v56h-1zM127 32h1v56h-1zM149 32h1v56h-1zM151 32h1v56h-1zM222 32h1v56h-1zM271 32h1v56h-1zM292 32h1v56h-1zM300 32h1v56h-1zM304 32h2v56h-2zM309 32h1v56h-1zM316 32h1v56h-1zM317 32h1v56h-1zM325 32h1v56h-1zM335 32h1v56h-1zM338 32h3v56h-3zM342 32h2v56h-2zM345 32h1v56h-1zM359 32h1v56h-1zM360 32h1v56h-1zM367 32h1v56h-1zM371 32h1v56h-1zM122 88h1v46h-1zM127 88h1v46h-1zM149 88h1v46h-1zM151 88h1v46h-1zM222 88h1v46h-1zM234 88h1v46h-1zM271 88h1v46h-1zM292 88h1v46h-1zM300 88h1v46h-1zM304 88h2v46h-2zM309 88h1v46h-1zM316 88h1v46h-1zM317 88h1v46h-1zM325 88h1v46h-1zM335 88h1v46h-1zM338 88h3v46h-3zM342 88h2v46h-2zM345 88h1v46h-1zM359 88h1v46h-1zM360 88h1v46h-1zM367 88h1v46h-1zM371 88h1v46h-1zM179 134h1v10h-1zM188 134h1v10h-1zM197 134h1v10h-1zM200 134h1v10h-1zM206 134h1v10h-1zM212 134h1v10h-1zM215 134h1v10h-1zM219 134h1v10h-1zM230 134h1v10h-1zM234 134h1v10h-1zM239 134h1v10h-1zM240 134h2v10h-2zM247 134h1v10h-1zM259 134h2v10h-2zM262 134h1v10h-1zM267 134h1v10h-1zM276 134h1v10h-1zM294 134h1v10h-1zM295 134h1v10h-1zM302 134h1v10h-1zM306 134h1v10h-1zM309 134h1v10h-1zM321 134h1v10h-1zM322 134h2v10h-2zM324 134h1v10h-1zM336 134h1v10h-1zM337 134h1v10h-1zM350 134h1v10h-1zM366 134h1v10h-1zM371 134h1v10h-1zM66 145h1v10h-1zM100 145h1v10h-1zM104 145h1v10h-1zM105 145h1v10h-1zM118 145h1v10h-1zM126 145h1v10h-1zM130 145h1v10h-1zM131 145h1v10h-1zM142 145h1v10h-1zM149 145h1v10h-1zM152 145h1v10h-1zM164 145h1v10h-1zM169 145h1v10h-1zM171 145h1v10h-1zM220 145h1v10h-1zM283 145h1v10h-1zM288 145h1v10h-1zM290 145h1v10h-1zM292 145h1v10h-1zM294 145h1v10h-1zM296 145h1v10h-1zM313 145h1v10h-1zM327 145h1v10h-1zM332 145h1v10h-1zM336 145h1v10h-1zM337 145h1v10h-1zM348 145h1v10h-1zM360 145h2v10h-2zM366 145h1v10h-1zM367 145h1v10h-1zM370 145h1v10h-1z"/><path fill="#9d9d9d" d="M158 0h1v2h-1zM138 2h1v30h-1zM299 2h1v30h-1zM315 2h1v30h-1zM322 2h1v30h-1zM331 2h1v30h-1zM337 2h1v30h-1zM353 2h1v30h-1zM364 2h2v30h-2zM138 32h1v56h-1zM313 32h1v56h-1zM322 32h1v56h-1zM329 32h1v56h-1zM337 32h1v56h-1zM348 32h1v56h-1zM365 32h2v56h-2zM138 88h1v46h-1zM313 88h1v46h-1zM322 88h1v46h-1zM329 88h1v46h-1zM337 88h1v46h-1zM348 88h1v46h-1zM365 88h2v46h-2zM186 134h2v10h-2zM193 134h1v10h-1zM198 134h1v10h-1zM203 134h1v10h-1zM209 134h1v10h-1zM211 134h1v10h-1zM274 134h1v10h-1zM284 134h1v10h-1zM311 134h1v10h-1zM339 134h1v10h-1zM351 134h1v10h-1zM358 134h1v10h-1zM35 145h1v10h-1zM90 145h1v10h-1zM127 145h2v10h-2zM140 145h1v10h-1zM146 145h1v10h-1zM302 145h1v10h-1zM306 145h1v10h-1zM318 145h1v10h-1zM340 145h1v10h-1z"/><path fill="#a3a3a3" d="M132 2h1v30h-1zM153 2h1v30h-1zM155 2h1v30h-1zM286 2h1v30h-1zM302 2h1v30h-1zM320 2h2v30h-2zM326 2h1v30h-1zM336 2h1v30h-1zM358 2h1v30h-1zM132 32h1v56h-1zM153 32h1v56h-1zM155 32h1v56h-1zM286 32h1v56h-1zM299 32h1v56h-1zM315 32h1v56h-1zM320 32h1v56h-1zM326 32h1v56h-1zM331 32h1v56h-1zM353 32h1v56h-1zM358 32h1v56h-1zM364 32h1v56h-1zM132 88h1v46h-1zM153 88h1v46h-1zM155 88h1v46h-1zM286 88h1v46h-1zM299 88h1v46h-1zM315 88h1v46h-1zM320 88h1v46h-1zM326 88h1v46h-1zM331 88h1v46h-1zM353 88h1v46h-1zM358 88h1v46h-1zM364 88h1v46h-1zM199 134h1v10h-1zM208 134h1v10h-1zM217 134h1v10h-1zM228 134h1v10h-1zM271 134h1v10h-1zM325 134h1v10h-1zM111 145h1v10h-1zM125 145h1v10h-1zM284 145h1v10h-1zM301 145h1v10h-1zM320 145h1v10h-1zM339 145h1v10h-1zM364 145h1v10h-1zM369 145h1v10h-1z"/><path fill="#a8a8a8" d="M121 2h1v30h-1zM128 2h1v30h-1zM172 2h1v30h-1zM282 2h1v30h-1zM283 2h1v30h-1zM294 2h1v30h-1zM298 2h1v30h-1zM306 2h1v30h-1zM319 2h1v30h-1zM323 2h1v30h-1zM328 2h1v30h-1zM333 2h1v30h-1zM350 2h1v30h-1zM351 2h1v30h-1zM121 32h1v56h-1zM128 32h1v56h-1zM172 32h1v56h-1zM175 32h1v56h-1zM282 32h1v56h-1zM283 32h1v56h-1zM302 32h1v56h-1zM306 32h1v56h-1zM319 32h1v56h-1zM321 32h1v56h-1zM328 32h1v56h-1zM333 32h1v56h-1zM336 32h1v56h-1zM350 32h1v56h-1zM351 32h1v56h-1zM121 88h1v46h-1zM128 88h1v46h-1zM172 88h1v46h-1zM282 88h1v46h-1zM283 88h1v46h-1zM302 88h1v46h-1zM306 88h1v46h-1zM319 88h1v46h-1zM321 88h1v46h-1zM328 88h1v46h-1zM333 88h1v46h-1zM336 88h1v46h-1zM350 88h1v46h-1zM351 88h1v46h-1zM196 134h1v10h-1zM207 134h1v10h-1zM214 134h1v10h-1zM282 134h1v10h-1zM287 134h3v10h-3zM318 134h1v10h-1zM333 134h1v10h-1zM349 134h1v10h-1zM98 145h1v10h-1zM122 145h1v10h-1zM133 145h1v10h-1zM136 145h1v10h-1zM162 145h1v10h-1zM166 145h1v10h-1zM236 145h1v10h-1zM300 145h1v10h-1zM312 145h1v10h-1zM328 145h1v10h-1zM338 145h1v10h-1zM341 145h1v10h-1zM352 145h1v10h-1z"/><path fill="#aeaeae" d="M157 2h1v30h-1zM173 2h1v30h-1zM175 2h1v30h-1zM285 2h1v30h-1zM296 2h1v30h-1zM324 2h1v30h-1zM352 2h1v30h-1zM362 2h1v30h-1zM369 2h1v30h-1zM157 32h1v56h-1zM173 32h1v56h-1zM294 32h1v56h-1zM296 32h1v56h-1zM298 32h1v56h-1zM323 32h2v56h-2zM352 32h1v56h-1zM369 32h1v56h-1zM157 88h1v46h-1zM173 88h1v46h-1zM175 88h1v46h-1zM294 88h1v46h-1zM296 88h1v46h-1zM298 88h1v46h-1zM323 88h2v46h-2zM352 88h1v46h-1zM369 88h1v46h-1zM225 134h1v10h-1zM338 134h1v10h-1zM305 145h1v10h-1z"/><path fill="#b3b3b3" d="M144 2h1v30h-1zM148 2h1v30h-1zM288 2h1v30h-1zM290 2h1v30h-1zM341 2h1v30h-1zM347 2h1v30h-1zM354 2h1v30h-1zM144 32h1v56h-1zM148 32h1v56h-1zM285 32h1v56h-1zM288 32h1v56h-1zM290 32h1v56h-1zM341 32h1v56h-1zM354 32h1v56h-1zM362 32h1v56h-1zM144 88h1v46h-1zM148 88h1v46h-1zM285 88h1v46h-1zM288 88h1v46h-1zM290 88h1v46h-1zM341 88h1v46h-1zM354 88h1v46h-1zM362 88h1v46h-1zM254 134h1v10h-1zM266 134h1v10h-1zM278 134h1v10h-1zM285 145h1v10h-1z"/><path fill="#b8b8b8" d="M125 2h1v30h-1zM145 2h1v30h-1zM174 2h1v30h-1zM284 2h1v30h-1zM291 2h1v30h-1zM308 2h1v30h-1zM311 2h1v30h-1zM312 2h1v30h-1zM318 2h1v30h-1zM346 2h1v30h-1zM355 2h1v30h-1zM357 2h1v30h-1zM125 32h1v56h-1zM145 32h1v56h-1zM174 32h1v56h-1zM284 32h1v56h-1zM291 32h1v56h-1zM308 32h1v56h-1zM311 32h1v56h-1zM312 32h1v56h-1zM318 32h1v56h-1zM346 32h1v56h-1zM347 32h1v56h-1zM355 32h1v56h-1zM357 32h1v56h-1zM125 88h1v46h-1zM145 88h1v46h-1zM174 88h1v46h-1zM284 88h1v46h-1zM291 88h1v46h-1zM308 88h1v46h-1zM311 88h1v46h-1zM312 88h1v46h-1zM318 88h1v46h-1zM346 88h1v46h-1zM347 88h1v46h-1zM355 88h1v46h-1zM357 88h1v46h-1zM327 134h1v10h-1zM331 145h1v10h-1z"/><path fill="#bebebe" d="M330 2h1v30h-1zM344 2h1v30h-1zM361 2h1v30h-1zM361 32h1v56h-1zM361 88h1v46h-1zM157 145h1v10h-1z"/><path fill="#c3c3c3" d="M330 32h1v56h-1zM344 32h1v56h-1zM330 88h1v46h-1zM344 88h1v46h-1z"/><path fill="#c9c9c9" d="M160 2h1v30h-1zM327 2h1v30h-1zM160 32h1v56h-1zM327 32h1v56h-1zM160 88h1v46h-1zM327 88h1v46h-1z"/><g opacity="0.15"><path fill="#575757" d="M0 51h372v1h-372zM0 104h372v1h-372zM0 106h372v1h-372z"/><path fill="#5c5c5c" d="M0 0h372v1h-372z"/><path fill="#676767" d="M0 3h372v1h-372zM0 29h372v1h-372zM0 42h372v1h-372zM0 45h372v1h-372zM0 81h372v1h-372zM0 131h372v1h-372z"/><path fill="#6d6d6d" d="M0 73h372v1h-372zM0 78h372v1h-372zM0 82h372v1h-372zM0 115h372v1h-372zM0 124h372v1h-372zM0 138h372v1h-372zM0 143h372v1h-372z"/><path fill="#727272" d="M0 13h372v1h-372zM0 14h372v1h-372zM0 50h372v1h-372zM0 61h372v1h-372zM0 63h372v1h-372zM0 77h372v1h-372zM0 95h372v1h-372zM0 105h372v1h-372zM0 111h372v1h-372zM0 121h372v1h-372zM0 123h372v1h-372zM0 133h372v1h-372zM0 139h372v1h-372zM0 145h372v1h-372zM0 153h372v1h-372z"/><path fill="#777777" d="M0 4h372v1h-372zM0 5h372v1h-372zM0 21h372v1h-372zM0 27h372v1h-372zM0 55h372v1h-372zM0 66h372v1h-372zM0 80h372v1h-372zM0 93h372v1h-372zM0 97h372v1h-372zM0 99h372v1h-372zM0 117h372v1h-372zM0 118h372v1h-372zM0 128h372v1h-372zM0 130h372v1h-372zM0 148h372v1h-372zM0 149h372v1h-372z"/><path fill="#7d7d7d" d="M0 7h372v1h-372zM0 19h372v1h-372zM0 36h372v1h-372zM0 38h372v1h-372zM0 39h372v1h-372zM0 56h372v1h-372zM0 58h372v1h-372zM0 59h372v1h-372zM0 65h372v1h-372zM0 71h372v1h-372zM0 90h372v1h-372zM0 92h372v1h-372zM0 98h372v1h-372zM0 114h372v1h-372zM0 134h372v1h-372zM0 142h372v1h-372zM0 146h372v1h-372zM0 151h372v1h-372zM0 154h372v1h-372z"/><path fill="#828282" d="M0 1h372v1h-372zM0 6h372v1h-372zM0 10h372v1h-372zM0 17h372v1h-372zM0 34h372v1h-372zM0 40h372v1h-372zM0 41h372v1h-372zM0 44h372v1h-372zM0 47h372v1h-372zM0 48h372v1h-372zM0 52h372v1h-372zM0 64h372v1h-372zM0 74h372v1h-372zM0 83h372v1h-372zM0 85h372v1h-372zM0 87h372v1h-372zM0 96h372v1h-372zM0 101h372v1h-372zM0 102h372v1h-372zM0 107h372v1h-372zM0 110h372v1h-372zM0 113h372v1h-372zM0 119h372v1h-372zM0 120h372v1h-372zM0 125h372v1h-372zM0 126h372v1h-372zM0 127h372v1h-372zM0 129h372v1h-372zM0 136h372v1h-372zM0 140h372v1h-372zM0 152h372v1h-372z"/><path fill="#888888" d="M0 8h372v1h-372zM0 15h372v1h-372zM0 23h372v1h-372zM0 24h372v1h-372zM0 32h372v1h-372zM0 33h372v1h-372zM0 53h372v1h-372zM0 57h372v1h-372zM0 60h372v1h-372zM0 67h372v1h-372zM0 70h372v1h-372zM0 75h372v1h-372zM0 76h372v1h-372zM0 88h372v1h-372zM0 91h372v1h-372zM0 108h372v1h-372zM0 109h372v1h-372zM0 116h372v1h-372zM0 150h372v1h-372z"/><path fill="#8d8d8d" d="M0 11h372v1h-372zM0 20h372v1h-372zM0 22h372v1h-372zM0 28h372v1h-372zM0 35h372v1h-372zM0 37h372v1h-372zM0 49h372v1h-372zM0 72h372v1h-372zM0 94h372v1h-372zM0 132h372v1h-372zM0 135h372v1h-372zM0 147h372v1h-372z"/><path fill="#929292" d="M0 2h372v1h-372zM0 9h372v1h-372zM0 18h372v1h-372zM0 26h372v1h-372zM0 30h372v1h-372zM0 46h372v1h-372zM0 54h372v1h-372zM0 68h372v1h-372zM0 84h372v1h-372zM0 86h372v1h-372zM0 89h372v1h-372zM0 100h372v1h-372zM0 122h372v1h-372zM0 141h372v1h-372zM0 144h372v1h-372z"/><path fill="#989898" d="M0 25h372v1h-372zM0 62h372v1h-372zM0 69h372v1h-372zM0 79h372v1h-372zM0 103h372v1h-372z"/><path fill="#9d9d9d" d="M0 12h372v1h-372zM0 16h372v1h-372zM0 112h372v1h-372z"/><path fill="#a3a3a3" d="M0 43h372v1h-372z"/><path fill="#a8a8a8" d="M0 31h372v1h-372zM0 137h372v1h-372z"/></g><g opacity="0.35"><rect width="372" height="155" fill="url(#hct0)"/><rect width="372" height="155" fill="url(#hct1)" opacity="0.500"/></g></g></g>
<path d="M650.1 111.4V132.0M650.1 111.4H658.3M650.1 115.5H658.3M650.1 119.6H658.3M650.1 123.7H658.3M650.1 127.9H658.3M650.1 132.0H658.3M651.7 136.1V160.9M651.7 136.1H658.3M651.7 140.2H658.3M651.7 144.4H658.3M651.7 148.5H658.3M651.7 152.6H658.3M651.7 156.7H658.3M651.7 160.9H658.3M650.4 165.0V189.7M650.4 165.0H658.3M650.4 169.1H658.3M650.4 173.2H658.3M650.4 177.4H658.3M650.4 181.5H658.3M650.4 185.6H658.3M650.4 189.7H658.3M649.6 193.9V198.0M649.6 193.9H658.3M649.6 198.0H658.3M648.9 202.1V218.6M648.9 202.1H658.3M648.9 206.2H658.3M648.9 210.4H658.3M648.9 214.5H658.3M648.9 218.6H658.3M651.4 222.7V243.3M651.4 222.7H658.3M651.4 226.8H658.3M651.4 231.0H658.3M651.4 235.1H658.3M651.4 239.2H658.3M651.4 243.3H658.3M651.5 247.5V255.7M651.5 247.5H658.3M651.5 251.6H658.3M651.5 255.7H658.3M650.0 259.8V276.3M650.0 259.8H658.3M650.0 264.0H658.3M650.0 268.1H658.3M650.0 272.2H658.3M650.0 276.3H658.3M651.1 280.5V305.2M651.1 280.5H658.3M651.1 284.6H658.3M651.1 288.7H658.3M651.1 292.8H658.3M651.1 297.0H658.3M651.1 301.1H658.3M651.1 305.2H658.3M651.7 309.3V321.7M651.7 309.3H658.3M651.7 313.5H658.3M651.7 317.6H658.3M651.7 321.7H658.3M651.7 325.8V350.6M651.7 325.8H658.3M651.7 330.0H658.3M651.7 334.1H658.3M651.7 338.2H658.3M651.7 342.3H658.3M651.7 346.5H658.3M651.7 350.6H658.3M651.6 354.7V367.1M651.6 354.7H658.3M651.6 358.8H658.3M651.6 363.0H658.3M651.6 367.1H658.3M650.4 371.2V387.7M650.4 371.2H658.3M650.4 375.3H658.3M650.4 379.5H658.3M650.4 383.6H658.3M650.4 387.7H658.3M650.8 391.8V400.1M650.8 391.8H658.3M650.8 396.0H658.3M650.8 400.1H658.3M650.6 404.2V416.6M650.6 404.2H658.3M650.6 408.3H658.3M650.6 412.5H658.3M650.6 416.6H658.3M648.8 420.7V445.4M648.8 420.7H658.3M648.8 424.8H658.3M648.8 429.0H658.3M648.8 433.1H658.3M648.8 437.2H658.3M648.8 441.3H658.3M648.8 445.4H658.3M650.0 449.6V466.1M650.0 449.6H658.3M650.0 453.7H658.3M650.0 457.8H658.3M650.0 461.9H658.3M650.0 466.1H658.3M650.1 470.2V482.6M650.1 470.2H658.3M650.1 474.3H658.3M650.1 478.4H658.3M650.1 482.6H658.3M649.5 486.7V499.1M649.5 486.7H658.3M649.5 490.8H658.3M649.5 494.9H658.3M649.5 499.1H658.3M649.1 503.2V527.9M649.1 503.2H658.3M649.1 507.3H658.3M649.1 511.4H658.3M649.1 515.6H658.3M649.1 519.7H658.3M649.1 523.8H658.3M649.1 527.9H658.3M650.5 532.1V536.2M650.5 532.1H658.3M650.5 536.2H658.3M651.6 540.3V556.8M651.6 540.3H658.3M651.6 544.4H658.3M651.6 548.6H658.3M651.6 552.7H658.3M651.6 556.8H658.3M649.2 560.9V577.4M649.2 560.9H658.3M649.2 565.1H658.3M649.2 569.2H658.3M649.2 573.3H658.3M649.2 577.4H658.3M651.6 581.6V598.1M651.6 581.6H658.3M651.6 585.7H658.3M651.6 589.8H658.3M651.6 593.9H658.3M651.6 598.1H658.3M650.7 602.2V606.3M650.7 602.2H658.3M650.7 606.3H658.3M650.0 610.4V622.8M650.0 610.4H658.3M650.0 614.6H658.3M650.0 618.7H658.3M650.0 622.8H658.3M650.7 626.9V639.3M650.7 626.9H658.3M650.7 631.1H658.3M650.7 635.2H658.3M650.7 639.3H658.3M651.0 643.4V651.7M651.0 643.4H658.3M651.0 647.5H658.3M651.0 651.7H658.3M649.9 655.8V659.9M649.9 655.8H658.3M649.9 659.9H658.3M646.0 121.7H650.1M646.0 148.5H651.7M646.0 177.4H650.4M646.0 195.9H649.6M646.0 210.4H648.9M646.0 233.0H651.4M646.0 251.6H651.5M646.0 268.1H650.0M646.0 292.8H651.1M646.0 315.5H651.7M646.0 338.2H651.7M646.0 360.9H651.6M646.0 379.5H650.4M646.0 396.0H650.8M646.0 410.4H650.6M646.0 433.1H648.8M646.0 457.8H650.0M646.0 476.4H650.1M646.0 492.9H649.5M646.0 515.6H649.1M646.0 534.1H650.5M646.0 548.6H651.6M646.0 569.2H649.2M646.0 589.8H651.6M646.0 604.2H650.7M646.0 616.6H650.0M646.0 633.1H650.7M646.0 647.5H651.0M646.0 657.9H649.9M649.9 664.0V668.2M649.9 664.0H658.3M649.9 668.2H658.3M649.4 672.3V688.8M649.4 672.3H658.3M649.4 676.4H658.3M649.4 680.5H658.3M649.4 684.7H658.3M649.4 688.8H658.3M652.4 692.9V697.0M652.4 692.9H658.3M652.4 697.0H658.3M650.0 701.2V705.3M650.0 701.2H658.3M650.0 705.3H658.3M651.5 709.4V725.9M651.5 709.4H658.3M651.5 713.5H658.3M651.5 717.7H658.3M651.5 721.8H658.3M651.5 725.9H658.3M652.2 730.0V734.2M652.2 730.0H658.3M652.2 734.2H658.3M650.6 738.3V746.5M650.6 738.3H658.3M650.6 742.4H658.3M650.6 746.5H658.3M646.7 666.1H649.9M646.7 680.5H649.4M646.7 695.0H652.4M646.7 703.2H650.0M646.7 717.7H651.5M646.7 732.1H652.2M646.7 742.4H650.6M646.7 666.1V742.4M644.5 704.3H646.7" stroke="#000" stroke-width="1.7" fill="none"/><rect x="643.2" y="110.8" width="4.8" height="334" fill="#000"/><rect x="643.3" y="444.8" width="2.4" height="215.1" fill="#000"/><path d="M644.5 659.9V704.3" stroke="#000" stroke-width="1.5"/>
<rect x="1369.4" y="133.5" width="20.6" height="101.1" fill="url(#gC)"/>
<path d="M1369.4 137.5h5M1385.0 137.5h5M1369.4 160.8h5M1385.0 160.8h5M1369.4 184.0h5M1385.0 184.0h5M1369.4 207.3h5M1385.0 207.3h5M1369.4 230.6h5M1385.0 230.6h5" stroke="#fff" stroke-width="1.6"/>
<text x="1396.5" y="143.8" font-size="17.5" fill="#111">4</text>
<text x="1396.5" y="167.10000000000002" font-size="17.5" fill="#111">2</text>
<text x="1396.5" y="190.3" font-size="17.5" fill="#111">0</text>
<text x="1396.5" y="213.60000000000002" font-size="17.5" fill="#111">−2</text>
<text x="1396.5" y="236.9" font-size="17.5" fill="#111">−4</text>
<text x="1371.9" y="274.1" font-size="18.6" font-weight="bold" textLength="144.2" lengthAdjust="spacingAndGlyphs">Immune Score</text>
<rect x="1369.9" y="282.8" width="21.1" height="123.9" fill="url(#gI)"/>
<path d="M1369.9 287.3h5M1386.0 287.3h5M1369.9 310.2h5M1386.0 310.2h5M1369.9 332.8h5M1386.0 332.8h5M1369.9 355.7h5M1386.0 355.7h5M1369.9 378.8h5M1386.0 378.8h5M1369.9 401.7h5M1386.0 401.7h5" stroke="#fff" stroke-width="1.6"/>
<text x="1394.8" y="293.42" font-size="17" fill="#111">3000</text>
<text x="1394.8" y="316.32" font-size="17" fill="#111">2000</text>
<text x="1394.8" y="338.92" font-size="17" fill="#111">1000</text>
<text x="1394.8" y="361.82" font-size="17" fill="#111">0</text>
<text x="1394.8" y="384.92" font-size="17" fill="#111">−1000</text>
<text x="1394.8" y="407.82" font-size="17" fill="#111">−2000</text>
<text x="1371.9" y="435.3" font-size="18.6" font-weight="bold" textLength="80.7" lengthAdjust="spacingAndGlyphs">mRNAsi</text>
<rect x="1369.9" y="444.7" width="21.1" height="101.7" fill="url(#gM)"/>
<path d="M1369.9 449.0h5M1386.0 449.0h5M1369.9 495.7h5M1386.0 495.7h5M1369.9 542.2h5M1386.0 542.2h5" stroke="#fff" stroke-width="1.6"/>
<text x="1397.5" y="455.12" font-size="17" fill="#111">1</text>
<text x="1397.5" y="501.82" font-size="17" fill="#111">0.5</text>
<text x="1397.5" y="548.32" font-size="17" fill="#111">0</text>
<text x="1372.9" y="573.3" font-size="18.6" font-weight="bold" textLength="199.7" lengthAdjust="spacingAndGlyphs">Steamness Subtype</text>
<rect x="1373.6" y="585.7" width="16.2" height="16.2" fill="#DF9B2B"/>
<rect x="1373.6" y="604.4" width="16.2" height="16.2" fill="#4398B7"/>
<text x="1396" y="598.9" font-size="17.4" fill="#111" textLength="176.1" lengthAdjust="spacingAndGlyphs">Steamness Subtype I</text>
<text x="1396" y="617.6" font-size="17.4" fill="#111" textLength="181.3" lengthAdjust="spacingAndGlyphs">Steamness Subtype II</text>
<g filter="url(#fE)"><g transform="translate(659.6,862.9) scale(1.49301,19.17647)"><path fill="#000000" d="M82 29h1v5h-1z"/><path fill="#050505" d="M15 0h1v3h-1zM15 3h1v4h-1zM15 7h1v1h-1zM15 8h1v3h-1zM7 29h1v5h-1zM24 29h1v5h-1zM92 29h1v5h-1z"/><path fill="#0b0b0b" d="M25 0h1v3h-1zM217 0h1v3h-1zM25 3h1v4h-1zM217 3h1v4h-1zM25 7h1v1h-1zM217 7h1v1h-1zM25 8h1v3h-1zM217 8h1v3h-1zM42 25h1v4h-1z"/><path fill="#101010" d="M103 0h1v3h-1zM103 3h1v4h-1zM103 7h1v1h-1zM103 8h1v3h-1zM30 29h1v5h-1zM38 29h1v5h-1zM56 29h1v5h-1zM80 29h1v5h-1zM95 29h1v5h-1zM111 29h1v5h-1z"/><path fill="#161616" d="M55 0h1v3h-1zM207 0h1v3h-1zM55 3h1v4h-1zM207 3h1v4h-1zM55 7h1v1h-1zM207 7h1v1h-1zM55 8h1v3h-1zM207 8h1v3h-1zM92 25h1v4h-1zM102 25h1v4h-1zM13 29h1v5h-1zM15 29h1v5h-1zM19 29h1v5h-1zM25 29h1v5h-1zM28 29h1v5h-1zM48 29h1v5h-1zM79 29h1v5h-1zM94 29h1v5h-1zM103 29h1v5h-1zM153 29h1v5h-1z"/><path fill="#1b1b1b" d="M16 25h1v4h-1zM27 25h1v4h-1zM50 25h1v4h-1zM95 25h1v4h-1zM26 29h1v5h-1zM60 29h1v5h-1zM66 29h1v5h-1zM87 29h1v5h-1z"/><path fill="#212121" d="M66 0h1v3h-1zM95 0h1v3h-1zM66 3h1v4h-1zM95 3h1v4h-1zM66 7h1v1h-1zM95 7h1v1h-1zM66 8h1v3h-1zM95 8h1v3h-1zM269 11h1v1h-1zM34 25h1v4h-1zM215 25h1v4h-1zM4 29h1v5h-1zM16 29h1v5h-1zM21 29h1v5h-1zM51 29h1v5h-1zM69 29h2v5h-2zM102 29h1v5h-1z"/><path fill="#262626" d="M16 0h1v3h-1zM21 0h1v3h-1zM27 0h1v3h-1zM32 0h1v3h-1zM36 0h1v3h-1zM44 0h1v3h-1zM58 0h1v3h-1zM79 0h1v3h-1zM80 0h1v3h-1zM90 0h1v3h-1zM99 0h1v3h-1zM111 0h1v3h-1zM16 3h1v4h-1zM21 3h1v4h-1zM27 3h1v4h-1zM32 3h1v4h-1zM36 3h1v4h-1zM44 3h1v4h-1zM58 3h1v4h-1zM79 3h1v4h-1zM80 3h1v4h-1zM90 3h1v4h-1zM99 3h1v4h-1zM111 3h1v4h-1zM16 7h1v1h-1zM21 7h1v1h-1zM27 7h1v1h-1zM32 7h1v1h-1zM36 7h1v1h-1zM44 7h1v1h-1zM58 7h1v1h-1zM79 7h1v1h-1zM80 7h1v1h-1zM90 7h1v1h-1zM99 7h1v1h-1zM111 7h1v1h-1zM16 8h1v3h-1zM21 8h1v3h-1zM27 8h1v3h-1zM32 8h1v3h-1zM36 8h1v3h-1zM44 8h1v3h-1zM58 8h1v3h-1zM79 8h1v3h-1zM80 8h1v3h-1zM90 8h1v3h-1zM99 8h1v3h-1zM111 8h1v3h-1zM104 11h1v1h-1zM144 11h1v1h-1zM301 11h1v1h-1zM327 11h1v1h-1zM14 25h1v4h-1zM21 25h1v4h-1zM25 25h1v4h-1zM38 25h1v4h-1zM58 25h1v4h-1zM80 25h1v4h-1zM94 25h1v4h-1zM207 25h1v4h-1zM5 29h1v5h-1zM12 29h1v5h-1zM23 29h1v5h-1zM40 29h2v5h-2zM64 29h1v5h-1zM84 29h1v5h-1zM107 29h1v5h-1zM115 29h1v5h-1zM143 29h1v5h-1zM159 29h1v5h-1z"/><path fill="#2b2b2b" d="M24 0h1v3h-1zM26 0h1v3h-1zM60 0h1v3h-1zM70 0h1v3h-1zM92 0h1v3h-1zM117 0h1v3h-1zM120 0h1v3h-1zM190 0h1v3h-1zM223 0h1v3h-1zM277 0h1v3h-1zM24 3h1v4h-1zM26 3h1v4h-1zM60 3h1v4h-1zM70 3h1v4h-1zM92 3h1v4h-1zM117 3h1v4h-1zM120 3h1v4h-1zM190 3h1v4h-1zM24 7h1v1h-1zM26 7h1v1h-1zM60 7h1v1h-1zM70 7h1v1h-1zM92 7h1v1h-1zM117 7h1v1h-1zM120 7h1v1h-1zM190 7h1v1h-1zM223 7h1v1h-1zM277 7h1v1h-1zM24 8h1v3h-1zM26 8h1v3h-1zM60 8h1v3h-1zM70 8h1v3h-1zM92 8h1v3h-1zM117 8h1v3h-1zM120 8h1v3h-1zM190 8h1v3h-1zM284 11h1v1h-1zM340 11h1v1h-1zM344 11h1v1h-1zM350 11h1v1h-1zM92 12h1v13h-1zM350 12h1v13h-1zM28 25h1v4h-1zM87 25h1v4h-1zM350 25h1v4h-1zM0 29h1v5h-1zM36 29h1v5h-1zM44 29h1v5h-1zM58 29h1v5h-1zM116 29h1v5h-1zM120 29h1v5h-1zM137 29h1v5h-1z"/><path fill="#313131" d="M48 0h1v3h-1zM84 0h1v3h-1zM97 0h1v3h-1zM184 0h1v3h-1zM192 0h1v3h-1zM226 0h1v3h-1zM235 0h1v3h-1zM269 0h1v3h-1zM273 0h1v3h-1zM48 3h1v4h-1zM84 3h1v4h-1zM97 3h1v4h-1zM184 3h1v4h-1zM192 3h1v4h-1zM48 7h1v1h-1zM84 7h1v1h-1zM97 7h1v1h-1zM184 7h1v1h-1zM192 7h1v1h-1zM226 7h1v1h-1zM235 7h1v1h-1zM269 7h1v1h-1zM273 7h1v1h-1zM48 8h1v3h-1zM84 8h1v3h-1zM97 8h1v3h-1zM184 8h1v3h-1zM192 8h1v3h-1zM21 11h1v1h-1zM92 11h1v1h-1zM117 11h2v1h-2zM288 11h1v1h-1zM298 11h1v1h-1zM311 11h1v1h-1zM328 11h1v1h-1zM331 11h2v1h-2zM15 12h1v13h-1zM26 12h1v13h-1zM64 12h1v13h-1zM168 12h1v13h-1zM26 25h1v4h-1zM51 25h1v4h-1zM101 25h1v4h-1zM27 29h1v5h-1zM31 29h1v5h-1zM42 29h1v5h-1zM50 29h1v5h-1zM55 29h1v5h-1zM90 29h1v5h-1zM184 29h1v5h-1z"/><path fill="#363636" d="M34 0h1v3h-1zM40 0h1v3h-1zM41 0h1v3h-1zM51 0h1v3h-1zM64 0h1v3h-1zM82 0h1v3h-1zM87 0h1v3h-1zM102 0h1v3h-1zM106 0h1v3h-1zM116 0h1v3h-1zM183 0h1v3h-1zM188 0h1v3h-1zM215 0h1v3h-1zM228 0h1v3h-1zM242 0h1v3h-1zM249 0h1v3h-1zM256 0h1v3h-1zM259 0h1v3h-1zM34 3h1v4h-1zM40 3h1v4h-1zM41 3h1v4h-1zM51 3h1v4h-1zM64 3h1v4h-1zM82 3h1v4h-1zM87 3h1v4h-1zM102 3h1v4h-1zM106 3h1v4h-1zM116 3h1v4h-1zM183 3h1v4h-1zM188 3h1v4h-1zM215 3h1v4h-1zM34 7h1v1h-1zM40 7h1v1h-1zM41 7h1v1h-1zM51 7h1v1h-1zM64 7h1v1h-1zM82 7h1v1h-1zM87 7h1v1h-1zM102 7h1v1h-1zM106 7h1v1h-1zM116 7h1v1h-1zM183 7h1v1h-1zM188 7h1v1h-1zM215 7h1v1h-1zM228 7h1v1h-1zM242 7h1v1h-1zM249 7h1v1h-1zM256 7h1v1h-1zM259 7h1v1h-1zM34 8h1v3h-1zM40 8h1v3h-1zM41 8h1v3h-1zM51 8h1v3h-1zM64 8h1v3h-1zM82 8h1v3h-1zM87 8h1v3h-1zM102 8h1v3h-1zM106 8h1v3h-1zM116 8h1v3h-1zM183 8h1v3h-1zM188 8h1v3h-1zM215 8h1v3h-1zM223 8h1v3h-1zM277 8h1v3h-1zM26 11h1v1h-1zM29 11h1v1h-1zM116 11h1v1h-1zM154 11h1v1h-1zM189 11h1v1h-1zM210 11h1v1h-1zM226 11h1v1h-1zM231 11h1v1h-1zM249 11h1v1h-1zM267 11h1v1h-1zM309 11h1v1h-1zM314 11h1v1h-1zM337 11h1v1h-1zM349 11h1v1h-1zM21 12h1v13h-1zM119 12h1v13h-1zM139 12h1v13h-1zM366 12h1v13h-1zM0 25h1v4h-1zM2 25h1v4h-1zM15 25h1v4h-1zM24 25h1v4h-1zM40 25h1v4h-1zM44 25h1v4h-1zM48 25h1v4h-1zM52 25h1v4h-1zM55 25h1v4h-1zM66 25h1v4h-1zM69 25h1v4h-1zM73 25h1v4h-1zM82 25h1v4h-1zM298 25h1v4h-1zM2 29h1v5h-1zM8 29h1v5h-1zM34 29h1v5h-1zM52 29h1v5h-1zM73 29h1v5h-1zM75 29h1v5h-1zM99 29h1v5h-1zM101 29h1v5h-1zM104 29h1v5h-1zM117 29h1v5h-1zM139 29h1v5h-1zM177 29h1v5h-1zM189 29h1v5h-1z"/><path fill="#3c3c3c" d="M5 0h1v3h-1zM19 0h1v3h-1zM29 0h1v3h-1zM101 0h1v3h-1zM115 0h1v3h-1zM196 0h1v3h-1zM224 0h1v3h-1zM231 0h2v3h-2zM265 0h1v3h-1zM332 0h1v3h-1zM5 3h1v4h-1zM19 3h1v4h-1zM29 3h1v4h-1zM101 3h1v4h-1zM115 3h1v4h-1zM196 3h1v4h-1zM332 3h1v4h-1zM5 7h1v1h-1zM19 7h1v1h-1zM29 7h1v1h-1zM101 7h1v1h-1zM115 7h1v1h-1zM196 7h1v1h-1zM224 7h1v1h-1zM231 7h2v1h-2zM265 7h1v1h-1zM332 7h1v1h-1zM5 8h1v3h-1zM19 8h1v3h-1zM29 8h1v3h-1zM101 8h1v3h-1zM115 8h1v3h-1zM196 8h1v3h-1zM269 8h1v3h-1zM332 8h1v3h-1zM24 11h1v1h-1zM30 11h1v1h-1zM98 11h1v1h-1zM103 11h1v1h-1zM256 11h1v1h-1zM342 11h1v1h-1zM361 11h1v1h-1zM146 12h1v13h-1zM249 12h1v13h-1zM4 25h1v4h-1zM36 25h1v4h-1zM56 25h1v4h-1zM98 25h2v4h-2zM98 29h1v5h-1zM133 29h1v5h-1zM150 29h1v5h-1zM168 29h1v5h-1zM178 29h1v5h-1z"/><path fill="#414141" d="M13 0h1v3h-1zM23 0h1v3h-1zM28 0h1v3h-1zM31 0h1v3h-1zM56 0h1v3h-1zM71 0h1v3h-1zM73 0h1v3h-1zM154 0h1v3h-1zM178 0h1v3h-1zM194 0h1v3h-1zM210 0h1v3h-1zM212 0h1v3h-1zM263 0h1v3h-1zM267 0h1v3h-1zM270 0h1v3h-1zM276 0h1v3h-1zM13 3h1v4h-1zM23 3h1v4h-1zM28 3h1v4h-1zM31 3h1v4h-1zM56 3h1v4h-1zM71 3h1v4h-1zM73 3h1v4h-1zM154 3h1v4h-1zM178 3h1v4h-1zM194 3h1v4h-1zM210 3h1v4h-1zM212 3h1v4h-1zM223 3h1v4h-1zM277 3h1v4h-1zM13 7h1v1h-1zM23 7h1v1h-1zM28 7h1v1h-1zM31 7h1v1h-1zM56 7h1v1h-1zM71 7h1v1h-1zM73 7h1v1h-1zM154 7h1v1h-1zM178 7h1v1h-1zM194 7h1v1h-1zM210 7h1v1h-1zM212 7h1v1h-1zM263 7h1v1h-1zM267 7h1v1h-1zM270 7h1v1h-1zM276 7h1v1h-1zM13 8h1v3h-1zM23 8h1v3h-1zM28 8h1v3h-1zM31 8h1v3h-1zM56 8h1v3h-1zM71 8h1v3h-1zM73 8h1v3h-1zM154 8h1v3h-1zM178 8h1v3h-1zM194 8h1v3h-1zM210 8h1v3h-1zM212 8h1v3h-1zM226 8h1v3h-1zM228 8h1v3h-1zM235 8h1v3h-1zM273 8h1v3h-1zM5 11h1v1h-1zM27 11h1v1h-1zM42 11h1v1h-1zM95 11h1v1h-1zM178 11h1v1h-1zM265 11h1v1h-1zM304 11h1v1h-1zM347 11h1v1h-1zM366 11h1v1h-1zM371 11h1v1h-1zM42 12h1v13h-1zM73 12h1v13h-1zM142 12h1v13h-1zM327 12h1v13h-1zM332 12h1v13h-1zM365 12h1v13h-1zM13 25h1v4h-1zM30 25h1v4h-1zM64 25h1v4h-1zM83 25h1v4h-1zM352 25h1v4h-1zM14 29h1v5h-1zM71 29h1v5h-1zM83 29h1v5h-1zM97 29h1v5h-1zM147 29h1v5h-1zM166 29h1v5h-1zM192 29h1v5h-1z"/><path fill="#474747" d="M4 0h1v3h-1zM7 0h1v3h-1zM30 0h1v3h-1zM38 0h1v3h-1zM69 0h1v3h-1zM83 0h1v3h-1zM104 0h1v3h-1zM143 0h1v3h-1zM191 0h1v3h-1zM254 0h1v3h-1zM264 0h1v3h-1zM4 3h1v4h-1zM7 3h1v4h-1zM30 3h1v4h-1zM38 3h1v4h-1zM69 3h1v4h-1zM83 3h1v4h-1zM104 3h1v4h-1zM143 3h1v4h-1zM191 3h1v4h-1zM226 3h1v4h-1zM228 3h1v4h-1zM235 3h1v4h-1zM259 3h1v4h-1zM269 3h1v4h-1zM273 3h1v4h-1zM4 7h1v1h-1zM7 7h1v1h-1zM30 7h1v1h-1zM38 7h1v1h-1zM69 7h1v1h-1zM83 7h1v1h-1zM104 7h1v1h-1zM143 7h1v1h-1zM191 7h1v1h-1zM254 7h1v1h-1zM264 7h1v1h-1zM4 8h1v3h-1zM7 8h1v3h-1zM30 8h1v3h-1zM38 8h1v3h-1zM69 8h1v3h-1zM83 8h1v3h-1zM104 8h1v3h-1zM143 8h1v3h-1zM191 8h1v3h-1zM224 8h1v3h-1zM242 8h1v3h-1zM249 8h1v3h-1zM256 8h1v3h-1zM259 8h1v3h-1zM50 11h1v1h-1zM55 11h1v1h-1zM75 11h1v1h-1zM79 11h2v1h-2zM87 11h1v1h-1zM142 11h1v1h-1zM207 11h1v1h-1zM232 11h1v1h-1zM247 11h1v1h-1zM270 11h1v1h-1zM271 11h1v1h-1zM279 11h1v1h-1zM283 11h1v1h-1zM322 11h1v1h-1zM326 11h1v1h-1zM348 11h1v1h-1zM352 11h1v1h-1zM13 12h1v13h-1zM24 12h1v13h-1zM30 12h1v13h-1zM34 12h1v13h-1zM44 12h1v13h-1zM66 12h1v13h-1zM104 12h1v13h-1zM111 12h1v13h-1zM116 12h1v13h-1zM122 12h1v13h-1zM174 12h1v13h-1zM198 12h1v13h-1zM227 12h1v13h-1zM283 12h1v13h-1zM294 12h1v13h-1zM325 12h1v13h-1zM12 25h1v4h-1zM29 25h1v4h-1zM31 25h1v4h-1zM70 25h1v4h-1zM79 25h1v4h-1zM104 25h1v4h-1zM108 25h1v4h-1zM120 25h1v4h-1zM173 25h1v4h-1zM269 25h1v4h-1zM311 25h1v4h-1zM332 25h1v4h-1zM106 29h1v5h-1zM108 29h1v5h-1zM132 29h1v5h-1zM142 29h1v5h-1zM165 29h1v5h-1zM174 29h1v5h-1zM190 29h1v5h-1zM194 29h1v5h-1zM198 29h1v5h-1zM249 29h1v5h-1z"/><path fill="#4c4c4c" d="M0 0h1v3h-1zM12 0h1v3h-1zM42 0h1v3h-1zM52 0h1v3h-1zM142 0h1v3h-1zM181 0h1v3h-1zM193 0h1v3h-1zM202 0h1v3h-1zM227 0h1v3h-1zM244 0h1v3h-1zM0 3h1v4h-1zM12 3h1v4h-1zM42 3h1v4h-1zM52 3h1v4h-1zM142 3h1v4h-1zM181 3h1v4h-1zM193 3h1v4h-1zM202 3h1v4h-1zM242 3h1v4h-1zM249 3h1v4h-1zM256 3h1v4h-1zM0 7h1v1h-1zM12 7h1v1h-1zM42 7h1v1h-1zM52 7h1v1h-1zM142 7h1v1h-1zM181 7h1v1h-1zM193 7h1v1h-1zM202 7h1v1h-1zM227 7h1v1h-1zM244 7h1v1h-1zM0 8h1v3h-1zM12 8h1v3h-1zM42 8h1v3h-1zM52 8h1v3h-1zM142 8h1v3h-1zM181 8h1v3h-1zM193 8h1v3h-1zM202 8h1v3h-1zM231 8h2v3h-2zM265 8h1v3h-1zM276 8h1v3h-1zM8 11h1v1h-1zM12 11h1v1h-1zM25 11h1v1h-1zM44 11h1v1h-1zM209 11h1v1h-1zM292 11h1v1h-1zM294 11h1v1h-1zM306 11h1v1h-1zM317 11h1v1h-1zM319 11h1v1h-1zM325 11h1v1h-1zM354 11h1v1h-1zM4 12h1v13h-1zM27 12h1v13h-1zM41 12h1v13h-1zM70 12h1v13h-1zM90 12h1v13h-1zM95 12h1v13h-1zM102 12h1v13h-1zM120 12h1v13h-1zM173 12h1v13h-1zM223 12h1v13h-1zM298 12h1v13h-1zM301 12h1v13h-1zM337 12h1v13h-1zM5 25h1v4h-1zM8 25h1v4h-1zM107 25h1v4h-1zM116 25h1v4h-1zM192 25h1v4h-1zM196 25h1v4h-1zM249 25h1v4h-1zM366 25h1v4h-1zM169 29h1v5h-1zM173 29h1v5h-1zM183 29h1v5h-1zM259 29h1v5h-1z"/><path fill="#515151" d="M98 0h1v3h-1zM107 0h1v3h-1zM134 0h1v3h-1zM146 0h1v3h-1zM166 0h1v3h-1zM189 0h1v3h-1zM198 0h1v3h-1zM247 0h1v3h-1zM271 0h1v3h-1zM98 3h1v4h-1zM107 3h1v4h-1zM134 3h1v4h-1zM146 3h1v4h-1zM166 3h1v4h-1zM189 3h1v4h-1zM198 3h1v4h-1zM224 3h1v4h-1zM231 3h2v4h-2zM265 3h1v4h-1zM276 3h1v4h-1zM98 7h1v1h-1zM107 7h1v1h-1zM134 7h1v1h-1zM146 7h1v1h-1zM166 7h1v1h-1zM189 7h1v1h-1zM198 7h1v1h-1zM247 7h1v1h-1zM271 7h1v1h-1zM98 8h1v3h-1zM107 8h1v3h-1zM134 8h1v3h-1zM146 8h1v3h-1zM166 8h1v3h-1zM189 8h1v3h-1zM198 8h1v3h-1zM254 8h1v3h-1zM263 8h1v3h-1zM267 8h1v3h-1zM270 8h1v3h-1zM13 11h1v1h-1zM15 11h1v1h-1zM40 11h2v1h-2zM83 11h1v1h-1zM111 11h1v1h-1zM146 11h1v1h-1zM168 11h1v1h-1zM190 11h1v1h-1zM228 11h1v1h-1zM235 11h1v1h-1zM296 11h1v1h-1zM315 11h1v1h-1zM338 11h1v1h-1zM345 11h1v1h-1zM355 11h1v1h-1zM365 11h1v1h-1zM369 11h2v1h-2zM177 12h1v13h-1zM189 12h1v13h-1zM196 12h1v13h-1zM232 12h1v13h-1zM235 12h1v13h-1zM254 12h1v13h-1zM297 12h1v13h-1zM315 12h1v13h-1zM328 12h1v13h-1zM344 12h1v13h-1zM355 12h1v13h-1zM369 12h1v13h-1zM7 25h1v4h-1zM32 25h1v4h-1zM60 25h1v4h-1zM71 25h1v4h-1zM84 25h1v4h-1zM90 25h1v4h-1zM111 25h1v4h-1zM115 25h1v4h-1zM117 25h1v4h-1zM224 25h1v4h-1zM263 25h1v4h-1zM270 25h1v4h-1zM355 25h1v4h-1zM32 29h1v5h-1zM131 29h1v5h-1zM146 29h1v5h-1zM191 29h1v5h-1zM269 29h1v5h-1z"/><path fill="#575757" d="M2 0h1v3h-1zM8 0h1v3h-1zM14 0h1v3h-1zM50 0h1v3h-1zM75 0h1v3h-1zM118 0h1v3h-1zM130 0h1v3h-1zM144 0h1v3h-1zM174 0h1v3h-1zM177 0h1v3h-1zM205 0h1v3h-1zM240 0h1v3h-1zM248 0h1v3h-1zM252 0h1v3h-1zM350 0h1v3h-1zM2 3h1v4h-1zM8 3h1v4h-1zM14 3h1v4h-1zM50 3h1v4h-1zM75 3h1v4h-1zM118 3h1v4h-1zM130 3h1v4h-1zM144 3h1v4h-1zM174 3h1v4h-1zM177 3h1v4h-1zM205 3h1v4h-1zM254 3h1v4h-1zM263 3h1v4h-1zM264 3h1v4h-1zM267 3h1v4h-1zM270 3h1v4h-1zM350 3h1v4h-1zM2 7h1v1h-1zM8 7h1v1h-1zM14 7h1v1h-1zM50 7h1v1h-1zM75 7h1v1h-1zM118 7h1v1h-1zM130 7h1v1h-1zM144 7h1v1h-1zM174 7h1v1h-1zM177 7h1v1h-1zM205 7h1v1h-1zM240 7h1v1h-1zM248 7h1v1h-1zM252 7h1v1h-1zM350 7h1v1h-1zM2 8h1v3h-1zM8 8h1v3h-1zM14 8h1v3h-1zM50 8h1v3h-1zM75 8h1v3h-1zM118 8h1v3h-1zM130 8h1v3h-1zM144 8h1v3h-1zM174 8h1v3h-1zM177 8h1v3h-1zM205 8h1v3h-1zM264 8h1v3h-1zM350 8h1v3h-1zM0 11h1v1h-1zM38 11h1v1h-1zM51 11h1v1h-1zM56 11h1v1h-1zM58 11h1v1h-1zM64 11h1v1h-1zM69 11h1v1h-1zM73 11h1v1h-1zM82 11h1v1h-1zM90 11h1v1h-1zM107 11h1v1h-1zM119 11h2v1h-2zM133 11h1v1h-1zM134 11h1v1h-1zM137 11h1v1h-1zM150 11h1v1h-1zM183 11h1v1h-1zM196 11h1v1h-1zM223 11h1v1h-1zM244 11h1v1h-1zM259 11h1v1h-1zM295 11h1v1h-1zM297 11h1v1h-1zM300 11h1v1h-1zM321 11h1v1h-1zM28 12h1v13h-1zM32 12h1v13h-1zM71 12h1v13h-1zM87 12h1v13h-1zM103 12h1v13h-1zM137 12h1v13h-1zM153 12h1v13h-1zM159 12h1v13h-1zM181 12h1v13h-1zM190 12h1v13h-1zM191 12h1v13h-1zM193 12h1v13h-1zM210 12h1v13h-1zM240 12h1v13h-1zM242 12h1v13h-1zM259 12h1v13h-1zM269 12h1v13h-1zM284 12h1v13h-1zM292 12h1v13h-1zM321 12h1v13h-1zM322 12h1v13h-1zM347 12h1v13h-1zM361 12h1v13h-1zM19 25h1v4h-1zM41 25h1v4h-1zM103 25h1v4h-1zM106 25h1v4h-1zM118 25h1v4h-1zM150 25h1v4h-1zM159 25h1v4h-1zM198 25h1v4h-1zM217 25h1v4h-1zM226 25h1v4h-1zM232 25h1v4h-1zM248 25h1v4h-1zM252 25h1v4h-1zM259 25h1v4h-1zM288 25h1v4h-1zM294 25h1v4h-1zM296 25h1v4h-1zM301 25h1v4h-1zM306 25h1v4h-1zM331 25h1v4h-1zM361 25h1v4h-1zM85 29h2v5h-2zM122 29h1v5h-1zM134 29h1v5h-1zM154 29h1v5h-1zM181 29h1v5h-1z"/><path fill="#5c5c5c" d="M139 0h1v3h-1zM168 0h1v3h-1zM209 0h1v3h-1zM139 3h1v4h-1zM168 3h1v4h-1zM209 3h1v4h-1zM139 7h1v1h-1zM168 7h1v1h-1zM209 7h1v1h-1zM139 8h1v3h-1zM168 8h1v3h-1zM209 8h1v3h-1zM227 8h1v3h-1zM244 8h1v3h-1zM23 11h1v1h-1zM28 11h1v1h-1zM52 11h1v1h-1zM70 11h1v1h-1zM102 11h1v1h-1zM130 11h1v1h-1zM153 11h1v1h-1zM173 11h2v1h-2zM248 11h1v1h-1zM264 11h1v1h-1zM40 12h1v13h-1zM55 12h1v13h-1zM75 12h1v13h-1zM80 12h1v13h-1zM101 12h1v13h-1zM107 12h1v13h-1zM144 12h1v13h-1zM169 12h1v13h-1zM212 12h1v13h-1zM215 12h1v13h-1zM217 12h1v13h-1zM263 12h1v13h-1zM270 12h1v13h-1zM311 12h1v13h-1zM352 12h1v13h-1zM370 12h1v13h-1zM75 25h1v4h-1zM154 25h1v4h-1zM181 25h1v4h-1zM231 25h1v4h-1zM267 25h1v4h-1zM273 25h1v4h-1zM284 25h1v4h-1zM297 25h1v4h-1zM325 25h1v4h-1zM337 25h1v4h-1zM342 25h1v4h-1zM119 29h1v5h-1zM130 29h1v5h-1zM144 29h1v5h-1zM188 29h1v5h-1zM193 29h1v5h-1zM196 29h1v5h-1zM235 29h1v5h-1zM296 29h1v5h-1zM314 29h1v5h-1zM370 29h1v5h-1z"/><path fill="#626262" d="M279 0h1v3h-1zM298 0h1v3h-1zM345 0h1v3h-1zM227 3h1v4h-1zM244 3h1v4h-1zM298 3h1v4h-1zM345 3h1v4h-1zM279 7h1v1h-1zM298 7h1v1h-1zM345 7h1v1h-1zM247 8h2v3h-2zM271 8h1v3h-1zM298 8h1v3h-1zM345 8h1v3h-1zM7 11h1v1h-1zM16 11h1v1h-1zM48 11h1v1h-1zM71 11h1v1h-1zM84 11h1v1h-1zM108 11h1v1h-1zM132 11h1v1h-1zM143 11h1v1h-1zM159 11h1v1h-1zM165 11h1v1h-1zM177 11h1v1h-1zM193 11h1v1h-1zM205 11h1v1h-1zM215 11h1v1h-1zM217 11h1v1h-1zM224 11h1v1h-1zM240 11h1v1h-1zM242 11h1v1h-1zM254 11h1v1h-1zM276 11h1v1h-1zM290 11h1v1h-1zM7 12h2v13h-2zM12 12h1v13h-1zM14 12h1v13h-1zM25 12h1v13h-1zM31 12h1v13h-1zM38 12h1v13h-1zM48 12h1v13h-1zM79 12h1v13h-1zM98 12h1v13h-1zM134 12h1v13h-1zM165 12h1v13h-1zM178 12h1v13h-1zM228 12h1v13h-1zM247 12h1v13h-1zM277 12h1v13h-1zM306 12h1v13h-1zM317 12h1v13h-1zM326 12h1v13h-1zM338 12h1v13h-1zM371 12h1v13h-1zM131 25h1v4h-1zM134 25h1v4h-1zM177 25h1v4h-1zM183 25h1v4h-1zM193 25h1v4h-1zM265 25h1v4h-1zM304 25h1v4h-1zM314 25h1v4h-1zM344 25h2v4h-2zM365 25h1v4h-1zM10 29h1v5h-1zM109 29h1v5h-1zM252 29h1v5h-1zM270 29h1v5h-1zM311 29h1v5h-1zM340 29h1v5h-1z"/><path fill="#676767" d="M88 0h1v3h-1zM119 0h1v3h-1zM137 0h1v3h-1zM150 0h1v3h-1zM159 0h1v3h-1zM165 0h1v3h-1zM173 0h1v3h-1zM321 0h1v3h-1zM340 0h1v3h-1zM342 0h1v3h-1zM88 3h1v4h-1zM119 3h1v4h-1zM137 3h1v4h-1zM150 3h1v4h-1zM159 3h1v4h-1zM165 3h1v4h-1zM173 3h1v4h-1zM240 3h1v4h-1zM247 3h1v4h-1zM248 3h1v4h-1zM271 3h1v4h-1zM321 3h1v4h-1zM340 3h1v4h-1zM342 3h1v4h-1zM88 7h1v1h-1zM119 7h1v1h-1zM137 7h1v1h-1zM150 7h1v1h-1zM159 7h1v1h-1zM165 7h1v1h-1zM173 7h1v1h-1zM321 7h1v1h-1zM340 7h1v1h-1zM342 7h1v1h-1zM88 8h1v3h-1zM119 8h1v3h-1zM137 8h1v3h-1zM150 8h1v3h-1zM159 8h1v3h-1zM165 8h1v3h-1zM173 8h1v3h-1zM240 8h1v3h-1zM252 8h1v3h-1zM321 8h1v3h-1zM340 8h1v3h-1zM342 8h1v3h-1zM31 11h1v1h-1zM34 11h1v1h-1zM36 11h1v1h-1zM60 11h1v1h-1zM66 11h1v1h-1zM97 11h1v1h-1zM106 11h1v1h-1zM115 11h1v1h-1zM122 11h1v1h-1zM139 11h1v1h-1zM157 11h1v1h-1zM188 11h1v1h-1zM192 11h1v1h-1zM194 11h1v1h-1zM227 11h1v1h-1zM252 11h1v1h-1zM263 11h1v1h-1zM277 11h1v1h-1zM0 12h1v13h-1zM29 12h1v13h-1zM36 12h1v13h-1zM69 12h1v13h-1zM84 12h1v13h-1zM94 12h1v13h-1zM97 12h1v13h-1zM99 12h1v13h-1zM115 12h1v13h-1zM117 12h1v13h-1zM131 12h2v13h-2zM147 12h1v13h-1zM150 12h1v13h-1zM154 12h1v13h-1zM157 12h1v13h-1zM192 12h1v13h-1zM202 12h1v13h-1zM224 12h1v13h-1zM252 12h1v13h-1zM267 12h1v13h-1zM279 12h1v13h-1zM288 12h1v13h-1zM304 12h1v13h-1zM314 12h1v13h-1zM319 12h1v13h-1zM331 12h1v13h-1zM342 12h1v13h-1zM354 12h1v13h-1zM3 25h1v4h-1zM23 25h1v4h-1zM97 25h1v4h-1zM137 25h1v4h-1zM144 25h1v4h-1zM146 25h1v4h-1zM166 25h1v4h-1zM191 25h1v4h-1zM194 25h1v4h-1zM210 25h1v4h-1zM223 25h1v4h-1zM228 25h1v4h-1zM256 25h1v4h-1zM283 25h1v4h-1zM295 25h1v4h-1zM309 25h1v4h-1zM315 25h1v4h-1zM322 25h1v4h-1zM369 25h1v4h-1zM370 25h2v4h-2zM29 29h1v5h-1zM39 29h1v5h-1zM91 29h1v5h-1zM215 29h1v5h-1zM217 29h1v5h-1zM277 29h1v5h-1zM283 29h1v5h-1zM309 29h1v5h-1zM328 29h1v5h-1zM332 29h1v5h-1zM350 29h1v5h-1z"/><path fill="#6d6d6d" d="M86 0h1v3h-1zM94 0h1v3h-1zM96 0h1v3h-1zM132 0h2v3h-2zM147 0h1v3h-1zM157 0h1v3h-1zM245 0h1v3h-1zM261 0h1v3h-1zM86 3h1v4h-1zM94 3h1v4h-1zM96 3h1v4h-1zM132 3h2v4h-2zM147 3h1v4h-1zM157 3h1v4h-1zM252 3h1v4h-1zM86 7h1v1h-1zM94 7h1v1h-1zM96 7h1v1h-1zM132 7h2v1h-2zM147 7h1v1h-1zM157 7h1v1h-1zM245 7h1v1h-1zM261 7h1v1h-1zM86 8h1v3h-1zM94 8h1v3h-1zM96 8h1v3h-1zM132 8h2v3h-2zM147 8h1v3h-1zM157 8h1v3h-1zM279 8h1v3h-1zM2 11h1v1h-1zM14 11h1v1h-1zM32 11h1v1h-1zM166 11h1v1h-1zM181 11h1v1h-1zM191 11h1v1h-1zM212 11h1v1h-1zM343 11h1v1h-1zM2 12h1v13h-1zM51 12h1v13h-1zM60 12h1v13h-1zM82 12h1v13h-1zM166 12h1v13h-1zM183 12h1v13h-1zM188 12h1v13h-1zM194 12h1v13h-1zM209 12h1v13h-1zM276 12h1v13h-1zM309 12h1v13h-1zM348 12h1v13h-1zM153 25h1v4h-1zM174 25h1v4h-1zM212 25h1v4h-1zM235 25h1v4h-1zM240 25h1v4h-1zM290 25h1v4h-1zM319 25h1v4h-1zM348 25h1v4h-1zM43 29h1v5h-1zM182 29h1v5h-1zM207 29h1v5h-1zM338 29h1v5h-1zM371 29h1v5h-1z"/><path fill="#727272" d="M35 0h1v3h-1zM169 0h1v3h-1zM315 0h1v3h-1zM35 3h1v4h-1zM169 3h1v4h-1zM279 3h1v4h-1zM315 3h1v4h-1zM35 7h1v1h-1zM169 7h1v1h-1zM315 7h1v1h-1zM35 8h1v3h-1zM169 8h1v3h-1zM315 8h1v3h-1zM4 11h1v1h-1zM94 11h1v1h-1zM131 11h1v1h-1zM184 11h1v1h-1zM202 11h1v1h-1zM5 12h1v13h-1zM56 12h1v13h-1zM58 12h1v13h-1zM130 12h1v13h-1zM133 12h1v13h-1zM143 12h1v13h-1zM184 12h1v13h-1zM207 12h1v13h-1zM231 12h1v13h-1zM265 12h1v13h-1zM271 12h1v13h-1zM119 25h1v4h-1zM188 25h1v4h-1zM242 25h1v4h-1zM254 25h1v4h-1zM328 25h1v4h-1zM340 25h1v4h-1zM347 25h1v4h-1zM49 29h1v5h-1zM57 29h1v5h-1zM78 29h1v5h-1zM88 29h1v5h-1zM112 29h1v5h-1zM301 29h1v5h-1zM306 29h1v5h-1zM317 29h1v5h-1zM327 29h1v5h-1z"/><path fill="#777777" d="M53 0h1v3h-1zM67 0h1v3h-1zM85 0h1v3h-1zM108 0h1v3h-1zM122 0h1v3h-1zM140 0h1v3h-1zM153 0h1v3h-1zM238 0h1v3h-1zM283 0h1v3h-1zM288 0h1v3h-1zM301 0h1v3h-1zM314 0h1v3h-1zM344 0h1v3h-1zM352 0h1v3h-1zM354 0h1v3h-1zM369 0h1v3h-1zM53 3h1v4h-1zM67 3h1v4h-1zM85 3h1v4h-1zM108 3h1v4h-1zM122 3h1v4h-1zM140 3h1v4h-1zM153 3h1v4h-1zM283 3h1v4h-1zM288 3h1v4h-1zM301 3h1v4h-1zM314 3h1v4h-1zM344 3h1v4h-1zM352 3h1v4h-1zM354 3h1v4h-1zM369 3h1v4h-1zM53 7h1v1h-1zM67 7h1v1h-1zM85 7h1v1h-1zM108 7h1v1h-1zM122 7h1v1h-1zM140 7h1v1h-1zM153 7h1v1h-1zM238 7h1v1h-1zM283 7h1v1h-1zM288 7h1v1h-1zM301 7h1v1h-1zM314 7h1v1h-1zM344 7h1v1h-1zM352 7h1v1h-1zM354 7h1v1h-1zM369 7h1v1h-1zM53 8h1v3h-1zM67 8h1v3h-1zM85 8h1v3h-1zM108 8h1v3h-1zM122 8h1v3h-1zM140 8h1v3h-1zM153 8h1v3h-1zM261 8h1v3h-1zM283 8h1v3h-1zM288 8h1v3h-1zM301 8h1v3h-1zM314 8h1v3h-1zM344 8h1v3h-1zM352 8h1v3h-1zM354 8h1v3h-1zM369 8h1v3h-1zM19 11h1v1h-1zM99 11h1v1h-1zM101 11h1v1h-1zM198 11h1v1h-1zM273 11h1v1h-1zM335 11h1v1h-1zM88 12h1v13h-1zM106 12h1v13h-1zM118 12h1v13h-1zM205 12h1v13h-1zM273 12h1v13h-1zM290 12h1v13h-1zM295 12h1v13h-1zM296 12h1v13h-1zM299 12h2v13h-2zM340 12h1v13h-1zM345 12h1v13h-1zM349 12h1v13h-1zM63 25h1v4h-1zM88 25h1v4h-1zM110 25h1v4h-1zM130 25h1v4h-1zM132 25h1v4h-1zM139 25h1v4h-1zM142 25h1v4h-1zM147 25h1v4h-1zM168 25h1v4h-1zM169 25h1v4h-1zM189 25h1v4h-1zM227 25h1v4h-1zM244 25h1v4h-1zM247 25h1v4h-1zM271 25h1v4h-1zM279 25h1v4h-1zM317 25h1v4h-1zM326 25h1v4h-1zM338 25h1v4h-1zM3 29h1v5h-1zM35 29h1v5h-1zM53 29h1v5h-1zM63 29h1v5h-1zM89 29h1v5h-1zM113 29h1v5h-1zM118 29h1v5h-1zM126 29h1v5h-1zM157 29h1v5h-1zM228 29h1v5h-1zM231 29h1v5h-1zM247 29h1v5h-1zM288 29h1v5h-1zM304 29h1v5h-1zM321 29h2v5h-2zM326 29h1v5h-1zM331 29h1v5h-1zM355 29h1v5h-1z"/><path fill="#7d7d7d" d="M110 0h1v3h-1zM131 0h1v3h-1zM175 0h1v3h-1zM182 0h1v3h-1zM200 0h1v3h-1zM218 0h1v3h-1zM236 0h1v3h-1zM239 0h1v3h-1zM241 0h1v3h-1zM306 0h1v3h-1zM309 0h1v3h-1zM317 0h1v3h-1zM328 0h1v3h-1zM110 3h1v4h-1zM131 3h1v4h-1zM175 3h1v4h-1zM182 3h1v4h-1zM200 3h1v4h-1zM218 3h1v4h-1zM306 3h1v4h-1zM309 3h1v4h-1zM317 3h1v4h-1zM328 3h1v4h-1zM110 7h1v1h-1zM131 7h1v1h-1zM175 7h1v1h-1zM182 7h1v1h-1zM200 7h1v1h-1zM218 7h1v1h-1zM236 7h1v1h-1zM239 7h1v1h-1zM241 7h1v1h-1zM306 7h1v1h-1zM309 7h1v1h-1zM317 7h1v1h-1zM328 7h1v1h-1zM110 8h1v3h-1zM131 8h1v3h-1zM175 8h1v3h-1zM182 8h1v3h-1zM200 8h1v3h-1zM218 8h1v3h-1zM245 8h1v3h-1zM306 8h1v3h-1zM309 8h1v3h-1zM317 8h1v3h-1zM328 8h1v3h-1zM281 11h1v1h-1zM19 12h1v13h-1zM65 12h1v13h-1zM83 12h1v13h-1zM86 25h1v4h-1zM143 25h1v4h-1zM165 25h1v4h-1zM190 25h1v4h-1zM264 25h1v4h-1zM276 25h1v4h-1zM292 25h1v4h-1zM321 25h1v4h-1zM1 29h1v5h-1zM210 29h1v5h-1zM242 29h1v5h-1zM271 29h1v5h-1zM276 29h1v5h-1zM347 29h1v5h-1zM352 29h1v5h-1zM361 29h1v5h-1z"/><path fill="#828282" d="M11 0h1v3h-1zM112 0h1v3h-1zM272 0h1v3h-1zM292 0h1v3h-1zM297 0h1v3h-1zM304 0h1v3h-1zM311 0h1v3h-1zM322 0h1v3h-1zM355 0h1v3h-1zM371 0h1v3h-1zM11 3h1v4h-1zM112 3h1v4h-1zM245 3h1v4h-1zM261 3h1v4h-1zM292 3h1v4h-1zM297 3h1v4h-1zM304 3h1v4h-1zM311 3h1v4h-1zM322 3h1v4h-1zM355 3h1v4h-1zM371 3h1v4h-1zM11 7h1v1h-1zM112 7h1v1h-1zM272 7h1v1h-1zM292 7h1v1h-1zM297 7h1v1h-1zM304 7h1v1h-1zM311 7h1v1h-1zM322 7h1v1h-1zM355 7h1v1h-1zM371 7h1v1h-1zM11 8h1v3h-1zM112 8h1v3h-1zM238 8h1v3h-1zM292 8h1v3h-1zM297 8h1v3h-1zM304 8h1v3h-1zM311 8h1v3h-1zM322 8h1v3h-1zM355 8h1v3h-1zM371 8h1v3h-1zM147 11h1v1h-1zM246 11h1v1h-1zM341 11h1v1h-1zM359 11h1v1h-1zM16 12h1v13h-1zM50 12h1v13h-1zM164 12h1v13h-1zM248 12h1v13h-1zM11 25h1v4h-1zM81 25h1v4h-1zM85 25h1v4h-1zM157 25h1v4h-1zM202 25h1v4h-1zM205 25h1v4h-1zM209 25h1v4h-1zM277 25h1v4h-1zM300 25h1v4h-1zM327 25h1v4h-1zM65 29h1v5h-1zM77 29h1v5h-1zM100 29h1v5h-1zM164 29h1v5h-1zM176 29h1v5h-1zM224 29h1v5h-1zM240 29h1v5h-1zM248 29h1v5h-1zM254 29h1v5h-1zM267 29h1v5h-1zM273 29h1v5h-1zM297 29h2v5h-2zM315 29h1v5h-1zM366 29h1v5h-1zM369 29h1v5h-1z"/><path fill="#888888" d="M6 0h1v3h-1zM43 0h1v3h-1zM45 0h1v3h-1zM49 0h1v3h-1zM54 0h1v3h-1zM61 0h1v3h-1zM65 0h1v3h-1zM91 0h1v3h-1zM128 0h1v3h-1zM195 0h1v3h-1zM225 0h1v3h-1zM243 0h1v3h-1zM250 0h1v3h-1zM284 0h1v3h-1zM290 0h1v3h-1zM294 0h1v3h-1zM296 0h1v3h-1zM319 0h1v3h-1zM325 0h1v3h-1zM331 0h1v3h-1zM337 0h1v3h-1zM361 0h1v3h-1zM366 0h1v3h-1zM370 0h1v3h-1zM6 3h1v4h-1zM43 3h1v4h-1zM45 3h1v4h-1zM49 3h1v4h-1zM54 3h1v4h-1zM61 3h1v4h-1zM65 3h1v4h-1zM91 3h1v4h-1zM128 3h1v4h-1zM195 3h1v4h-1zM238 3h1v4h-1zM284 3h1v4h-1zM290 3h1v4h-1zM294 3h1v4h-1zM296 3h1v4h-1zM319 3h1v4h-1zM325 3h1v4h-1zM331 3h1v4h-1zM337 3h1v4h-1zM361 3h1v4h-1zM366 3h1v4h-1zM370 3h1v4h-1zM6 7h1v1h-1zM43 7h1v1h-1zM45 7h1v1h-1zM49 7h1v1h-1zM54 7h1v1h-1zM61 7h1v1h-1zM65 7h1v1h-1zM91 7h1v1h-1zM128 7h1v1h-1zM195 7h1v1h-1zM225 7h1v1h-1zM243 7h1v1h-1zM250 7h1v1h-1zM284 7h1v1h-1zM290 7h1v1h-1zM294 7h1v1h-1zM296 7h1v1h-1zM319 7h1v1h-1zM325 7h1v1h-1zM331 7h1v1h-1zM337 7h1v1h-1zM361 7h1v1h-1zM366 7h1v1h-1zM370 7h1v1h-1zM6 8h1v3h-1zM43 8h1v3h-1zM45 8h1v3h-1zM49 8h1v3h-1zM54 8h1v3h-1zM61 8h1v3h-1zM65 8h1v3h-1zM91 8h1v3h-1zM128 8h1v3h-1zM195 8h1v3h-1zM284 8h1v3h-1zM290 8h1v3h-1zM294 8h1v3h-1zM296 8h1v3h-1zM319 8h1v3h-1zM325 8h1v3h-1zM331 8h1v3h-1zM337 8h1v3h-1zM361 8h1v3h-1zM366 8h1v3h-1zM370 8h1v3h-1zM22 11h1v1h-1zM49 11h1v1h-1zM169 11h1v1h-1zM302 11h2v1h-2zM320 11h1v1h-1zM353 11h1v1h-1zM367 11h1v1h-1zM108 12h1v13h-1zM138 12h1v13h-1zM140 12h1v13h-1zM226 12h1v13h-1zM264 12h1v13h-1zM302 12h1v13h-1zM6 25h1v4h-1zM9 25h1v4h-1zM20 25h1v4h-1zM35 25h1v4h-1zM46 25h2v4h-2zM53 25h1v4h-1zM57 25h1v4h-1zM65 25h1v4h-1zM178 25h1v4h-1zM184 25h1v4h-1zM349 25h1v4h-1zM11 29h1v5h-1zM46 29h1v5h-1zM47 29h1v5h-1zM62 29h1v5h-1zM68 29h1v5h-1zM76 29h1v5h-1zM96 29h1v5h-1zM105 29h1v5h-1zM135 29h1v5h-1zM140 29h1v5h-1zM149 29h1v5h-1zM155 29h1v5h-1zM223 29h1v5h-1zM232 29h1v5h-1zM256 29h1v5h-1zM264 29h1v5h-1zM279 29h1v5h-1zM284 29h1v5h-1zM290 29h1v5h-1zM294 29h1v5h-1zM325 29h1v5h-1zM342 29h1v5h-1zM344 29h1v5h-1zM354 29h1v5h-1z"/><path fill="#8d8d8d" d="M33 0h1v3h-1zM68 0h1v3h-1zM81 0h1v3h-1zM179 0h1v3h-1zM246 0h1v3h-1zM258 0h1v3h-1zM348 0h2v3h-2zM33 3h1v4h-1zM68 3h1v4h-1zM81 3h1v4h-1zM179 3h1v4h-1zM348 3h2v4h-2zM33 7h1v1h-1zM68 7h1v1h-1zM81 7h1v1h-1zM179 7h1v1h-1zM246 7h1v1h-1zM258 7h1v1h-1zM348 7h2v1h-2zM33 8h1v3h-1zM68 8h1v3h-1zM81 8h1v3h-1zM179 8h1v3h-1zM236 8h1v3h-1zM239 8h1v3h-1zM241 8h1v3h-1zM348 8h2v3h-2zM39 11h1v1h-1zM78 11h1v1h-1zM195 11h1v1h-1zM293 11h1v1h-1zM305 11h1v1h-1zM318 11h1v1h-1zM323 11h1v1h-1zM23 12h1v13h-1zM52 12h1v13h-1zM121 12h1v13h-1zM149 12h1v13h-1zM155 12h1v13h-1zM244 12h1v13h-1zM256 12h1v13h-1zM10 25h1v4h-1zM39 25h1v4h-1zM61 25h1v4h-1zM91 25h1v4h-1zM133 25h1v4h-1zM367 25h1v4h-1zM6 29h1v5h-1zM18 29h1v5h-1zM54 29h1v5h-1zM67 29h1v5h-1zM128 29h1v5h-1zM141 29h1v5h-1zM151 29h1v5h-1zM209 29h1v5h-1zM244 29h1v5h-1zM263 29h1v5h-1zM345 29h1v5h-1zM365 29h1v5h-1z"/><path fill="#929292" d="M39 0h1v3h-1zM57 0h1v3h-1zM39 3h1v4h-1zM57 3h1v4h-1zM236 3h1v4h-1zM239 3h1v4h-1zM241 3h1v4h-1zM39 7h1v1h-1zM57 7h1v1h-1zM39 8h1v3h-1zM57 8h1v3h-1zM243 8h1v3h-1zM272 8h1v3h-1zM3 11h1v1h-1zM156 11h1v1h-1zM176 11h1v1h-1zM187 11h1v1h-1zM282 11h1v1h-1zM334 11h1v1h-1zM162 12h1v13h-1zM18 25h1v4h-1zM67 25h1v4h-1zM112 25h1v4h-1zM354 25h1v4h-1zM123 29h1v5h-1zM172 29h1v5h-1zM180 29h1v5h-1zM185 29h1v5h-1zM187 29h1v5h-1zM202 29h1v5h-1zM212 29h1v5h-1zM292 29h1v5h-1zM295 29h1v5h-1zM337 29h1v5h-1z"/><path fill="#989898" d="M10 0h1v3h-1zM18 0h1v3h-1zM20 0h1v3h-1zM59 0h1v3h-1zM63 0h1v3h-1zM89 0h1v3h-1zM109 0h1v3h-1zM127 0h1v3h-1zM138 0h1v3h-1zM162 0h1v3h-1zM163 0h2v3h-2zM176 0h1v3h-1zM208 0h1v3h-1zM213 0h2v3h-2zM216 0h1v3h-1zM219 0h1v3h-1zM251 0h1v3h-1zM255 0h1v3h-1zM260 0h1v3h-1zM326 0h2v3h-2zM338 0h1v3h-1zM365 0h1v3h-1zM10 3h1v4h-1zM18 3h1v4h-1zM20 3h1v4h-1zM59 3h1v4h-1zM63 3h1v4h-1zM89 3h1v4h-1zM109 3h1v4h-1zM127 3h1v4h-1zM138 3h1v4h-1zM162 3h1v4h-1zM163 3h2v4h-2zM176 3h1v4h-1zM208 3h1v4h-1zM213 3h2v4h-2zM216 3h1v4h-1zM219 3h1v4h-1zM243 3h1v4h-1zM250 3h1v4h-1zM272 3h1v4h-1zM326 3h2v4h-2zM338 3h1v4h-1zM365 3h1v4h-1zM10 7h1v1h-1zM18 7h1v1h-1zM20 7h1v1h-1zM59 7h1v1h-1zM63 7h1v1h-1zM89 7h1v1h-1zM109 7h1v1h-1zM127 7h1v1h-1zM138 7h1v1h-1zM162 7h1v1h-1zM163 7h2v1h-2zM176 7h1v1h-1zM208 7h1v1h-1zM213 7h2v1h-2zM216 7h1v1h-1zM219 7h1v1h-1zM251 7h1v1h-1zM255 7h1v1h-1zM260 7h1v1h-1zM326 7h2v1h-2zM338 7h1v1h-1zM365 7h1v1h-1zM10 8h1v3h-1zM18 8h1v3h-1zM20 8h1v3h-1zM59 8h1v3h-1zM63 8h1v3h-1zM89 8h1v3h-1zM109 8h1v3h-1zM127 8h1v3h-1zM138 8h1v3h-1zM162 8h1v3h-1zM163 8h2v3h-2zM176 8h1v3h-1zM208 8h1v3h-1zM213 8h2v3h-2zM216 8h1v3h-1zM219 8h1v3h-1zM225 8h1v3h-1zM250 8h1v3h-1zM258 8h1v3h-1zM326 8h2v3h-2zM338 8h1v3h-1zM365 8h1v3h-1zM126 11h1v1h-1zM140 11h1v1h-1zM164 11h1v1h-1zM199 11h1v1h-1zM280 11h1v1h-1zM285 11h2v1h-2zM329 11h1v1h-1zM336 11h1v1h-1zM356 11h1v1h-1zM362 11h1v1h-1zM368 11h1v1h-1zM17 12h1v13h-1zM35 12h1v13h-1zM43 12h1v13h-1zM112 12h1v13h-1zM124 12h1v13h-1zM172 12h1v13h-1zM175 12h1v13h-1zM182 12h1v13h-1zM216 12h1v13h-1zM225 12h1v13h-1zM280 12h1v13h-1zM293 12h1v13h-1zM336 12h1v13h-1zM358 12h1v13h-1zM364 12h1v13h-1zM1 25h1v4h-1zM33 25h1v4h-1zM49 25h1v4h-1zM59 25h1v4h-1zM72 25h1v4h-1zM76 25h1v4h-1zM96 25h1v4h-1zM105 25h1v4h-1zM122 25h1v4h-1zM140 25h1v4h-1zM158 25h1v4h-1zM187 25h1v4h-1zM246 25h1v4h-1zM341 25h1v4h-1zM20 29h1v5h-1zM22 29h1v5h-1zM33 29h1v5h-1zM45 29h1v5h-1zM61 29h1v5h-1zM72 29h1v5h-1zM81 29h1v5h-1zM93 29h1v5h-1zM121 29h1v5h-1zM127 29h1v5h-1zM138 29h1v5h-1zM145 29h1v5h-1zM152 29h1v5h-1zM170 29h1v5h-1zM171 29h1v5h-1zM186 29h1v5h-1zM195 29h1v5h-1zM205 29h1v5h-1zM227 29h1v5h-1zM319 29h1v5h-1zM348 29h2v5h-2z"/><path fill="#9d9d9d" d="M3 0h1v3h-1zM22 0h1v3h-1zM72 0h1v3h-1zM145 0h1v3h-1zM180 0h1v3h-1zM199 0h1v3h-1zM222 0h1v3h-1zM229 0h1v3h-1zM274 0h1v3h-1zM278 0h1v3h-1zM300 0h1v3h-1zM3 3h1v4h-1zM22 3h1v4h-1zM72 3h1v4h-1zM145 3h1v4h-1zM180 3h1v4h-1zM199 3h1v4h-1zM225 3h1v4h-1zM300 3h1v4h-1zM3 7h1v1h-1zM22 7h1v1h-1zM72 7h1v1h-1zM145 7h1v1h-1zM180 7h1v1h-1zM199 7h1v1h-1zM222 7h1v1h-1zM229 7h1v1h-1zM274 7h1v1h-1zM278 7h1v1h-1zM300 7h1v1h-1zM3 8h1v3h-1zM22 8h1v3h-1zM72 8h1v3h-1zM145 8h1v3h-1zM180 8h1v3h-1zM199 8h1v3h-1zM246 8h1v3h-1zM300 8h1v3h-1zM11 11h1v1h-1zM63 11h1v1h-1zM112 11h1v1h-1zM125 11h1v1h-1zM158 11h1v1h-1zM162 11h1v1h-1zM222 11h1v1h-1zM236 11h1v1h-1zM250 11h1v1h-1zM310 11h1v1h-1zM330 11h1v1h-1zM339 11h1v1h-1zM346 11h1v1h-1zM363 11h1v1h-1zM33 12h1v13h-1zM62 12h1v13h-1zM67 12h1v13h-1zM76 12h1v13h-1zM145 12h1v13h-1zM167 12h1v13h-1zM176 12h1v13h-1zM238 12h1v13h-1zM323 12h1v13h-1zM356 12h1v13h-1zM367 12h1v13h-1zM43 25h1v4h-1zM62 25h1v4h-1zM74 25h1v4h-1zM113 25h1v4h-1zM313 25h1v4h-1zM323 25h1v4h-1zM9 29h1v5h-1zM148 29h1v5h-1zM162 29h1v5h-1zM167 29h1v5h-1zM175 29h1v5h-1zM179 29h1v5h-1zM199 29h2v5h-2zM226 29h1v5h-1zM300 29h1v5h-1z"/><path fill="#a3a3a3" d="M1 0h1v3h-1zM17 0h1v3h-1zM62 0h1v3h-1zM93 0h1v3h-1zM113 0h1v3h-1zM125 0h1v3h-1zM149 0h1v3h-1zM186 0h1v3h-1zM197 0h1v3h-1zM203 0h2v3h-2zM206 0h1v3h-1zM257 0h1v3h-1zM1 3h1v4h-1zM17 3h1v4h-1zM62 3h1v4h-1zM93 3h1v4h-1zM113 3h1v4h-1zM125 3h1v4h-1zM149 3h1v4h-1zM186 3h1v4h-1zM197 3h1v4h-1zM203 3h2v4h-2zM206 3h1v4h-1zM246 3h1v4h-1zM258 3h1v4h-1zM1 7h1v1h-1zM17 7h1v1h-1zM62 7h1v1h-1zM93 7h1v1h-1zM113 7h1v1h-1zM125 7h1v1h-1zM149 7h1v1h-1zM186 7h1v1h-1zM197 7h1v1h-1zM203 7h2v1h-2zM206 7h1v1h-1zM257 7h1v1h-1zM1 8h1v3h-1zM17 8h1v3h-1zM62 8h1v3h-1zM93 8h1v3h-1zM113 8h1v3h-1zM125 8h1v3h-1zM149 8h1v3h-1zM186 8h1v3h-1zM197 8h1v3h-1zM203 8h2v3h-2zM206 8h1v3h-1zM35 11h1v1h-1zM45 11h1v1h-1zM141 11h1v1h-1zM149 11h1v1h-1zM175 11h1v1h-1zM186 11h1v1h-1zM200 11h1v1h-1zM204 11h1v1h-1zM234 11h1v1h-1zM245 11h1v1h-1zM299 11h1v1h-1zM358 11h1v1h-1zM3 12h1v13h-1zM11 12h1v13h-1zM18 12h1v13h-1zM85 12h1v13h-1zM126 12h3v13h-3zM163 12h1v13h-1zM308 12h1v13h-1zM335 12h1v13h-1zM353 12h1v13h-1zM68 25h1v4h-1zM77 25h1v4h-1zM145 25h1v4h-1zM170 25h1v4h-1zM180 25h1v4h-1zM218 25h1v4h-1zM357 25h1v4h-1zM364 25h1v4h-1zM59 29h1v5h-1zM110 29h1v5h-1zM129 29h1v5h-1zM158 29h1v5h-1zM265 29h1v5h-1z"/><path fill="#a8a8a8" d="M9 0h1v3h-1zM46 0h2v3h-2zM74 0h1v3h-1zM76 0h1v3h-1zM78 0h1v3h-1zM100 0h1v3h-1zM124 0h1v3h-1zM126 0h1v3h-1zM158 0h1v3h-1zM170 0h1v3h-1zM185 0h1v3h-1zM201 0h1v3h-1zM211 0h1v3h-1zM220 0h1v3h-1zM234 0h1v3h-1zM253 0h1v3h-1zM266 0h1v3h-1zM268 0h1v3h-1zM275 0h1v3h-1zM9 3h1v4h-1zM46 3h2v4h-2zM74 3h1v4h-1zM76 3h1v4h-1zM78 3h1v4h-1zM100 3h1v4h-1zM124 3h1v4h-1zM126 3h1v4h-1zM158 3h1v4h-1zM170 3h1v4h-1zM185 3h1v4h-1zM201 3h1v4h-1zM211 3h1v4h-1zM220 3h1v4h-1zM251 3h1v4h-1zM255 3h1v4h-1zM9 7h1v1h-1zM46 7h2v1h-2zM74 7h1v1h-1zM76 7h1v1h-1zM78 7h1v1h-1zM100 7h1v1h-1zM124 7h1v1h-1zM126 7h1v1h-1zM158 7h1v1h-1zM170 7h1v1h-1zM185 7h1v1h-1zM201 7h1v1h-1zM211 7h1v1h-1zM220 7h1v1h-1zM234 7h1v1h-1zM253 7h1v1h-1zM266 7h1v1h-1zM268 7h1v1h-1zM275 7h1v1h-1zM9 8h1v3h-1zM46 8h2v3h-2zM74 8h1v3h-1zM76 8h1v3h-1zM78 8h1v3h-1zM100 8h1v3h-1zM124 8h1v3h-1zM126 8h1v3h-1zM158 8h1v3h-1zM170 8h1v3h-1zM185 8h1v3h-1zM201 8h1v3h-1zM211 8h1v3h-1zM220 8h1v3h-1zM222 8h1v3h-1zM251 8h1v3h-1zM255 8h1v3h-1zM260 8h1v3h-1zM274 8h1v3h-1zM17 11h1v1h-1zM43 11h1v1h-1zM47 11h1v1h-1zM53 11h1v1h-1zM61 11h2v1h-2zM81 11h1v1h-1zM85 11h1v1h-1zM88 11h2v1h-2zM91 11h1v1h-1zM128 11h1v1h-1zM145 11h1v1h-1zM151 11h1v1h-1zM152 11h1v1h-1zM185 11h1v1h-1zM201 11h1v1h-1zM221 11h1v1h-1zM225 11h1v1h-1zM230 11h1v1h-1zM237 11h1v1h-1zM255 11h1v1h-1zM261 11h2v1h-2zM268 11h1v1h-1zM308 11h1v1h-1zM313 11h1v1h-1zM351 11h1v1h-1zM364 11h1v1h-1zM6 12h1v13h-1zM10 12h1v13h-1zM37 12h1v13h-1zM61 12h1v13h-1zM63 12h1v13h-1zM68 12h1v13h-1zM91 12h1v13h-1zM109 12h1v13h-1zM110 12h1v13h-1zM123 12h1v13h-1zM158 12h1v13h-1zM161 12h1v13h-1zM179 12h1v13h-1zM200 12h1v13h-1zM253 12h1v13h-1zM255 12h1v13h-1zM282 12h1v13h-1zM310 12h1v13h-1zM313 12h1v13h-1zM362 12h1v13h-1zM363 12h1v13h-1zM17 25h1v4h-1zM45 25h1v4h-1zM54 25h1v4h-1zM89 25h1v4h-1zM93 25h1v4h-1zM128 25h1v4h-1zM141 25h1v4h-1zM167 25h1v4h-1zM204 25h1v4h-1zM229 25h1v4h-1zM236 25h1v4h-1zM237 25h1v4h-1zM245 25h1v4h-1zM255 25h1v4h-1zM274 25h1v4h-1zM281 25h1v4h-1zM285 25h1v4h-1zM308 25h1v4h-1zM310 25h1v4h-1zM343 25h1v4h-1zM356 25h1v4h-1zM358 25h1v4h-1zM156 29h1v5h-1zM161 29h1v5h-1zM163 29h1v5h-1zM197 29h1v5h-1zM201 29h1v5h-1zM285 29h2v5h-2zM303 29h1v5h-1zM330 29h1v5h-1zM362 29h1v5h-1z"/><path fill="#aeaeae" d="M37 0h1v3h-1zM105 0h1v3h-1zM141 0h1v3h-1zM187 0h1v3h-1zM221 0h1v3h-1zM237 0h1v3h-1zM347 0h1v3h-1zM37 3h1v4h-1zM105 3h1v4h-1zM141 3h1v4h-1zM187 3h1v4h-1zM222 3h1v4h-1zM260 3h1v4h-1zM347 3h1v4h-1zM37 7h1v1h-1zM105 7h1v1h-1zM141 7h1v1h-1zM187 7h1v1h-1zM221 7h1v1h-1zM237 7h1v1h-1zM347 7h1v1h-1zM37 8h1v3h-1zM105 8h1v3h-1zM141 8h1v3h-1zM187 8h1v3h-1zM229 8h1v3h-1zM257 8h1v3h-1zM278 8h1v3h-1zM347 8h1v3h-1zM33 11h1v1h-1zM67 11h1v1h-1zM163 11h1v1h-1zM182 11h1v1h-1zM206 11h1v1h-1zM214 11h1v1h-1zM218 11h1v1h-1zM257 11h2v1h-2zM289 11h1v1h-1zM291 11h1v1h-1zM312 11h1v1h-1zM20 12h1v13h-1zM86 12h1v13h-1zM96 12h1v13h-1zM160 12h1v13h-1zM171 12h1v13h-1zM187 12h1v13h-1zM243 12h1v13h-1zM251 12h1v13h-1zM261 12h1v13h-1zM268 12h1v13h-1zM281 12h1v13h-1zM78 25h1v4h-1zM164 25h1v4h-1zM175 25h1v4h-1zM241 25h1v4h-1zM286 25h1v4h-1zM17 29h1v5h-1zM74 29h1v5h-1zM125 29h1v5h-1zM160 29h1v5h-1z"/><path fill="#b3b3b3" d="M136 0h1v3h-1zM233 0h1v3h-1zM295 0h1v3h-1zM136 3h1v4h-1zM229 3h1v4h-1zM274 3h1v4h-1zM278 3h1v4h-1zM295 3h1v4h-1zM136 7h1v1h-1zM233 7h1v1h-1zM295 7h1v1h-1zM136 8h1v3h-1zM268 8h1v3h-1zM295 8h1v3h-1zM9 11h1v1h-1zM65 11h1v1h-1zM74 11h1v1h-1zM86 11h1v1h-1zM96 11h1v1h-1zM121 11h1v1h-1zM172 11h1v1h-1zM213 11h1v1h-1zM229 11h1v1h-1zM274 11h1v1h-1zM307 11h1v1h-1zM105 12h1v13h-1zM141 12h1v13h-1zM156 12h1v13h-1zM195 12h1v13h-1zM230 12h1v13h-1zM241 12h1v13h-1zM286 12h2v13h-2zM305 12h1v13h-1zM324 12h1v13h-1zM329 12h1v13h-1zM100 25h1v4h-1zM114 25h1v4h-1zM121 25h1v4h-1zM138 25h1v4h-1zM179 25h1v4h-1zM182 25h1v4h-1zM214 25h1v4h-1zM250 25h1v4h-1zM268 25h1v4h-1zM302 25h1v4h-1zM318 25h1v4h-1zM320 25h1v4h-1zM362 25h2v4h-2zM124 29h1v5h-1zM136 29h1v5h-1zM274 29h1v5h-1z"/><path fill="#b8b8b8" d="M129 0h1v3h-1zM156 0h1v3h-1zM161 0h1v3h-1zM230 0h1v3h-1zM262 0h1v3h-1zM129 3h1v4h-1zM156 3h1v4h-1zM161 3h1v4h-1zM257 3h1v4h-1zM266 3h1v4h-1zM268 3h1v4h-1zM275 3h1v4h-1zM129 7h1v1h-1zM156 7h1v1h-1zM161 7h1v1h-1zM230 7h1v1h-1zM262 7h1v1h-1zM129 8h1v3h-1zM156 8h1v3h-1zM161 8h1v3h-1zM234 8h1v3h-1zM237 8h1v3h-1zM253 8h1v3h-1zM266 8h1v3h-1zM275 8h1v3h-1zM6 11h1v1h-1zM46 11h1v1h-1zM59 11h1v1h-1zM105 11h1v1h-1zM110 11h1v1h-1zM123 11h1v1h-1zM127 11h1v1h-1zM136 11h1v1h-1zM148 11h1v1h-1zM155 11h1v1h-1zM220 11h1v1h-1zM238 11h1v1h-1zM239 11h1v1h-1zM241 11h1v1h-1zM243 11h1v1h-1zM260 11h1v1h-1zM275 11h1v1h-1zM287 11h1v1h-1zM316 11h1v1h-1zM333 11h1v1h-1zM360 11h1v1h-1zM1 12h1v13h-1zM22 12h1v13h-1zM46 12h1v13h-1zM54 12h1v13h-1zM57 12h1v13h-1zM78 12h1v13h-1zM81 12h1v13h-1zM89 12h1v13h-1zM135 12h1v13h-1zM148 12h1v13h-1zM170 12h1v13h-1zM186 12h1v13h-1zM199 12h1v13h-1zM214 12h1v13h-1zM229 12h1v13h-1zM236 12h1v13h-1zM246 12h1v13h-1zM250 12h1v13h-1zM275 12h1v13h-1zM285 12h1v13h-1zM303 12h1v13h-1zM307 12h1v13h-1zM318 12h1v13h-1zM320 12h1v13h-1zM341 12h1v13h-1zM351 12h1v13h-1zM357 12h1v13h-1zM359 12h1v13h-1zM123 25h1v4h-1zM126 25h1v4h-1zM152 25h1v4h-1zM156 25h1v4h-1zM176 25h1v4h-1zM185 25h1v4h-1zM195 25h1v4h-1zM213 25h1v4h-1zM222 25h1v4h-1zM225 25h1v4h-1zM239 25h1v4h-1zM243 25h1v4h-1zM275 25h1v4h-1zM280 25h1v4h-1zM287 25h1v4h-1zM293 25h1v4h-1zM299 25h1v4h-1zM303 25h1v4h-1zM329 25h1v4h-1zM353 25h1v4h-1zM368 25h1v4h-1zM37 29h1v5h-1zM114 29h1v5h-1zM225 29h1v5h-1zM239 29h1v5h-1zM253 29h1v5h-1zM257 29h1v5h-1zM280 29h1v5h-1zM282 29h1v5h-1zM287 29h1v5h-1zM323 29h1v5h-1zM356 29h1v5h-1z"/><path fill="#bebebe" d="M114 0h1v3h-1zM152 0h1v3h-1zM362 0h1v3h-1zM364 0h1v3h-1zM114 3h1v4h-1zM152 3h1v4h-1zM234 3h1v4h-1zM253 3h1v4h-1zM362 3h1v4h-1zM364 3h1v4h-1zM114 7h1v1h-1zM152 7h1v1h-1zM362 7h1v1h-1zM364 7h1v1h-1zM114 8h1v3h-1zM152 8h1v3h-1zM221 8h1v3h-1zM362 8h1v3h-1zM364 8h1v3h-1zM10 11h1v1h-1zM124 11h1v1h-1zM135 11h1v1h-1zM167 11h1v1h-1zM179 11h1v1h-1zM208 11h1v1h-1zM211 11h1v1h-1zM278 11h1v1h-1zM357 11h1v1h-1zM9 12h1v13h-1zM100 12h1v13h-1zM113 12h1v13h-1zM185 12h1v13h-1zM197 12h1v13h-1zM222 12h1v13h-1zM234 12h1v13h-1zM239 12h1v13h-1zM257 12h1v13h-1zM266 12h1v13h-1zM316 12h1v13h-1zM330 12h1v13h-1zM333 12h1v13h-1zM368 12h1v13h-1zM37 25h1v4h-1zM129 25h1v4h-1zM155 25h1v4h-1zM208 25h1v4h-1zM230 25h1v4h-1zM238 25h1v4h-1zM251 25h1v4h-1zM282 25h1v4h-1zM312 25h1v4h-1zM334 25h1v4h-1zM230 29h1v5h-1zM307 29h1v5h-1zM334 29h1v5h-1z"/><path fill="#c3c3c3" d="M77 0h1v3h-1zM121 0h1v3h-1zM167 0h1v3h-1zM343 0h1v3h-1zM353 0h1v3h-1zM359 0h1v3h-1zM363 0h1v3h-1zM77 3h1v4h-1zM121 3h1v4h-1zM167 3h1v4h-1zM221 3h1v4h-1zM237 3h1v4h-1zM343 3h1v4h-1zM353 3h1v4h-1zM359 3h1v4h-1zM363 3h1v4h-1zM77 7h1v1h-1zM121 7h1v1h-1zM167 7h1v1h-1zM343 7h1v1h-1zM353 7h1v1h-1zM359 7h1v1h-1zM363 7h1v1h-1zM77 8h1v3h-1zM121 8h1v3h-1zM167 8h1v3h-1zM230 8h1v3h-1zM233 8h1v3h-1zM343 8h1v3h-1zM353 8h1v3h-1zM359 8h1v3h-1zM363 8h1v3h-1zM1 11h1v1h-1zM20 11h1v1h-1zM57 11h1v1h-1zM76 11h1v1h-1zM93 11h1v1h-1zM170 11h1v1h-1zM216 11h1v1h-1zM233 11h1v1h-1zM324 11h1v1h-1zM39 12h1v13h-1zM45 12h1v13h-1zM49 12h1v13h-1zM53 12h1v13h-1zM59 12h1v13h-1zM125 12h1v13h-1zM180 12h1v13h-1zM201 12h1v13h-1zM260 12h1v13h-1zM312 12h1v13h-1zM346 12h1v13h-1zM22 25h1v4h-1zM135 25h2v4h-2zM151 25h1v4h-1zM161 25h2v4h-2zM220 25h1v4h-1zM258 25h1v4h-1zM260 25h1v4h-1zM291 25h1v4h-1zM305 25h1v4h-1zM336 25h1v4h-1zM339 25h1v4h-1zM359 25h1v4h-1zM261 29h1v5h-1zM363 29h2v5h-2z"/><path fill="#c9c9c9" d="M148 0h1v3h-1zM151 0h1v3h-1zM171 0h2v3h-2zM282 0h1v3h-1zM148 3h1v4h-1zM151 3h1v4h-1zM171 3h2v4h-2zM230 3h1v4h-1zM233 3h1v4h-1zM282 3h1v4h-1zM148 7h1v1h-1zM151 7h1v1h-1zM171 7h2v1h-2zM282 7h1v1h-1zM148 8h1v3h-1zM151 8h1v3h-1zM171 8h2v3h-2zM262 8h1v3h-1zM282 8h1v3h-1zM18 11h1v1h-1zM109 11h1v1h-1zM114 11h1v1h-1zM129 11h1v1h-1zM138 11h1v1h-1zM161 11h1v1h-1zM180 11h1v1h-1zM203 11h1v1h-1zM219 11h1v1h-1zM266 11h1v1h-1zM47 12h1v13h-1zM74 12h1v13h-1zM136 12h1v13h-1zM151 12h2v13h-2zM206 12h1v13h-1zM211 12h1v13h-1zM213 12h1v13h-1zM218 12h1v13h-1zM220 12h1v13h-1zM233 12h1v13h-1zM237 12h1v13h-1zM262 12h1v13h-1zM272 12h1v13h-1zM334 12h1v13h-1zM343 12h1v13h-1zM109 25h1v4h-1zM171 25h1v4h-1zM197 25h1v4h-1zM201 25h1v4h-1zM206 25h1v4h-1zM211 25h1v4h-1zM233 25h1v4h-1zM234 25h1v4h-1zM253 25h1v4h-1zM261 25h1v4h-1zM316 25h1v4h-1zM324 25h1v4h-1zM204 29h1v5h-1zM211 29h1v5h-1zM214 29h1v5h-1zM216 29h1v5h-1zM221 29h1v5h-1zM236 29h1v5h-1zM260 29h1v5h-1zM291 29h1v5h-1zM305 29h1v5h-1zM308 29h1v5h-1z"/><path fill="#cecece" d="M123 0h1v3h-1zM155 0h1v3h-1zM281 0h1v3h-1zM303 0h1v3h-1zM333 0h2v3h-2zM356 0h1v3h-1zM123 3h1v4h-1zM155 3h1v4h-1zM262 3h1v4h-1zM281 3h1v4h-1zM303 3h1v4h-1zM333 3h2v4h-2zM356 3h1v4h-1zM123 7h1v1h-1zM155 7h1v1h-1zM281 7h1v1h-1zM303 7h1v1h-1zM333 7h2v1h-2zM356 7h1v1h-1zM123 8h1v3h-1zM155 8h1v3h-1zM281 8h1v3h-1zM303 8h1v3h-1zM333 8h2v3h-2zM356 8h1v3h-1zM37 11h1v1h-1zM77 11h1v1h-1zM100 11h1v1h-1zM171 11h1v1h-1zM197 11h1v1h-1zM251 11h1v1h-1zM204 12h1v13h-1zM245 12h1v13h-1zM258 12h1v13h-1zM274 12h1v13h-1zM289 12h1v13h-1zM149 25h1v4h-1zM163 25h1v4h-1zM172 25h1v4h-1zM199 25h1v4h-1zM266 25h1v4h-1zM219 29h1v5h-1zM241 29h1v5h-1zM246 29h1v5h-1zM250 29h1v5h-1zM299 29h1v5h-1zM302 29h1v5h-1zM324 29h1v5h-1zM336 29h1v5h-1z"/><path fill="#d4d4d4" d="M135 0h1v3h-1zM310 0h1v3h-1zM312 0h1v3h-1zM135 3h1v4h-1zM310 3h1v4h-1zM312 3h1v4h-1zM135 7h1v1h-1zM310 7h1v1h-1zM312 7h1v1h-1zM135 8h1v3h-1zM310 8h1v3h-1zM312 8h1v3h-1zM54 11h1v1h-1zM68 11h1v1h-1zM72 11h1v1h-1zM77 12h1v13h-1zM114 12h1v13h-1zM291 12h1v13h-1zM127 25h1v4h-1zM203 25h1v4h-1zM257 25h1v4h-1zM213 29h1v5h-1zM218 29h1v5h-1zM222 29h1v5h-1zM238 29h1v5h-1zM243 29h1v5h-1zM245 29h1v5h-1zM258 29h1v5h-1zM268 29h1v5h-1zM318 29h1v5h-1zM333 29h1v5h-1zM335 29h1v5h-1z"/><path fill="#d9d9d9" d="M160 0h1v3h-1zM280 0h1v3h-1zM286 0h1v3h-1zM302 0h1v3h-1zM305 0h1v3h-1zM323 0h1v3h-1zM336 0h1v3h-1zM358 0h1v3h-1zM367 0h1v3h-1zM160 3h1v4h-1zM280 3h1v4h-1zM286 3h1v4h-1zM302 3h1v4h-1zM305 3h1v4h-1zM323 3h1v4h-1zM336 3h1v4h-1zM358 3h1v4h-1zM367 3h1v4h-1zM160 7h1v1h-1zM280 7h1v1h-1zM286 7h1v1h-1zM302 7h1v1h-1zM305 7h1v1h-1zM323 7h1v1h-1zM336 7h1v1h-1zM358 7h1v1h-1zM367 7h1v1h-1zM160 8h1v3h-1zM280 8h1v3h-1zM286 8h1v3h-1zM302 8h1v3h-1zM305 8h1v3h-1zM323 8h1v3h-1zM336 8h1v3h-1zM358 8h1v3h-1zM367 8h1v3h-1zM113 11h1v1h-1zM160 11h1v1h-1zM208 12h1v13h-1zM219 12h1v13h-1zM278 12h1v13h-1zM339 12h1v13h-1zM360 12h1v13h-1zM124 25h1v4h-1zM148 25h1v4h-1zM160 25h1v4h-1zM200 25h1v4h-1zM216 25h1v4h-1zM289 25h1v4h-1zM330 25h1v4h-1zM333 25h1v4h-1zM335 25h1v4h-1zM351 25h1v4h-1zM360 25h1v4h-1zM208 29h1v5h-1zM237 29h1v5h-1zM251 29h1v5h-1zM293 29h1v5h-1zM312 29h1v5h-1zM320 29h1v5h-1zM343 29h1v5h-1zM351 29h1v5h-1zM359 29h1v5h-1zM367 29h2v5h-2z"/><path fill="#dedede" d="M289 0h1v3h-1zM307 0h1v3h-1zM316 0h1v3h-1zM289 3h1v4h-1zM307 3h1v4h-1zM316 3h1v4h-1zM289 7h1v1h-1zM307 7h1v1h-1zM316 7h1v1h-1zM289 8h1v3h-1zM307 8h1v3h-1zM316 8h1v3h-1zM129 12h1v13h-1zM203 12h1v13h-1zM221 12h1v13h-1zM125 25h1v4h-1zM219 25h1v4h-1zM272 25h1v4h-1zM278 25h1v4h-1zM233 29h1v5h-1zM266 29h1v5h-1zM275 29h1v5h-1zM289 29h1v5h-1zM339 29h1v5h-1z"/><path fill="#e4e4e4" d="M287 0h1v3h-1zM299 0h1v3h-1zM320 0h1v3h-1zM335 0h1v3h-1zM287 3h1v4h-1zM299 3h1v4h-1zM320 3h1v4h-1zM335 3h1v4h-1zM287 7h1v1h-1zM299 7h1v1h-1zM320 7h1v1h-1zM335 7h1v1h-1zM287 8h1v3h-1zM299 8h1v3h-1zM320 8h1v3h-1zM335 8h1v3h-1zM72 12h1v13h-1zM93 12h1v13h-1zM221 25h1v4h-1zM220 29h1v5h-1zM278 29h1v5h-1zM281 29h1v5h-1zM310 29h1v5h-1zM313 29h1v5h-1zM346 29h1v5h-1zM358 29h1v5h-1z"/><path fill="#e9e9e9" d="M293 0h1v3h-1zM329 0h1v3h-1zM339 0h1v3h-1zM341 0h1v3h-1zM351 0h1v3h-1zM357 0h1v3h-1zM293 3h1v4h-1zM329 3h1v4h-1zM339 3h1v4h-1zM341 3h1v4h-1zM351 3h1v4h-1zM357 3h1v4h-1zM293 7h1v1h-1zM329 7h1v1h-1zM339 7h1v1h-1zM341 7h1v1h-1zM351 7h1v1h-1zM357 7h1v1h-1zM293 8h1v3h-1zM329 8h1v3h-1zM339 8h1v3h-1zM341 8h1v3h-1zM351 8h1v3h-1zM357 8h1v3h-1zM272 11h1v1h-1zM186 25h1v4h-1zM307 25h1v4h-1zM346 25h1v4h-1zM203 29h1v5h-1zM229 29h1v5h-1zM262 29h1v5h-1zM329 29h1v5h-1zM341 29h1v5h-1zM353 29h1v5h-1z"/><path fill="#efefef" d="M285 0h1v3h-1zM313 0h1v3h-1zM318 0h1v3h-1zM324 0h1v3h-1zM368 0h1v3h-1zM285 3h1v4h-1zM313 3h1v4h-1zM318 3h1v4h-1zM324 3h1v4h-1zM368 3h1v4h-1zM285 7h1v1h-1zM313 7h1v1h-1zM318 7h1v1h-1zM324 7h1v1h-1zM368 7h1v1h-1zM285 8h1v3h-1zM313 8h1v3h-1zM318 8h1v3h-1zM324 8h1v3h-1zM368 8h1v3h-1zM255 29h1v5h-1zM272 29h1v5h-1zM357 29h1v5h-1z"/><path fill="#f4f4f4" d="M253 11h1v1h-1zM262 25h1v4h-1zM206 29h1v5h-1zM316 29h1v5h-1zM360 29h1v5h-1z"/><path fill="#fafafa" d="M291 0h1v3h-1zM330 0h1v3h-1zM291 3h1v4h-1zM330 3h1v4h-1zM291 7h1v1h-1zM330 7h1v1h-1zM291 8h1v3h-1zM330 8h1v3h-1zM234 29h1v5h-1z"/><path fill="#ffffff" d="M308 0h1v3h-1zM346 0h1v3h-1zM360 0h1v3h-1zM308 3h1v4h-1zM346 3h1v4h-1zM360 3h1v4h-1zM308 7h1v1h-1zM346 7h1v1h-1zM360 7h1v1h-1zM308 8h1v3h-1zM346 8h1v3h-1zM360 8h1v3h-1z"/><g opacity="0.15"><path fill="#474747" d="M0 33h372v1h-372z"/><path fill="#515151" d="M0 22h372v1h-372zM0 24h372v1h-372z"/><path fill="#575757" d="M0 21h372v1h-372z"/><path fill="#676767" d="M0 13h372v1h-372zM0 32h372v1h-372z"/><path fill="#727272" d="M0 7h372v1h-372zM0 9h372v1h-372zM0 26h372v1h-372zM0 30h372v1h-372z"/><path fill="#777777" d="M0 1h372v1h-372zM0 18h372v1h-372zM0 20h372v1h-372z"/><path fill="#7d7d7d" d="M0 0h372v1h-372zM0 5h372v1h-372zM0 12h372v1h-372zM0 16h372v1h-372zM0 17h372v1h-372zM0 31h372v1h-372z"/><path fill="#828282" d="M0 3h372v1h-372zM0 4h372v1h-372zM0 28h372v1h-372z"/><path fill="#888888" d="M0 14h372v1h-372zM0 15h372v1h-372zM0 27h372v1h-372z"/><path fill="#8d8d8d" d="M0 10h372v1h-372zM0 11h372v1h-372z"/><path fill="#929292" d="M0 2h372v1h-372zM0 8h372v1h-372zM0 23h372v1h-372zM0 25h372v1h-372z"/><path fill="#989898" d="M0 29h372v1h-372z"/><path fill="#a8a8a8" d="M0 6h372v1h-372z"/><path fill="#c3c3c3" d="M0 19h372v1h-372z"/></g><g opacity="0.4"><rect width="372" height="34" fill="url(#het0)"/><rect width="372" height="34" fill="url(#het1)" opacity="0.500"/></g></g></g><path d="M659.6 882.08H1215.0M659.6 901.25H1215.0M659.6 920.43H1215.0M659.6 939.61H1215.0M659.6 958.78H1215.0M659.6 977.96H1215.0M659.6 997.14H1215.0M659.6 1016.31H1215.0M659.6 1035.49H1215.0M659.6 1054.66H1215.0M659.6 1073.84H1215.0M659.6 1093.02H1215.0M659.6 1112.19H1215.0M659.6 1131.37H1215.0M659.6 1150.55H1215.0M659.6 1169.72H1215.0M659.6 1188.90H1215.0M659.6 1208.08H1215.0M659.6 1227.25H1215.0M659.6 1246.43H1215.0M659.6 1265.61H1215.0M659.6 1284.78H1215.0M659.6 1303.96H1215.0M659.6 1323.14H1215.0M659.6 1342.31H1215.0M659.6 1361.49H1215.0M659.6 1380.66H1215.0M659.6 1399.84H1215.0M659.6 1419.02H1215.0M659.6 1438.19H1215.0M659.6 1457.37H1215.0M659.6 1476.55H1215.0M659.6 1495.72H1215.0" stroke="#fff" stroke-opacity="0.18" stroke-width="0.7"/>
<path d="M657.7 891.7H651.6V910.8H657.7M657.7 872.5H649.8V901.3H651.6M657.7 949.2H651.6V968.4H657.7M657.7 930.0H650.2V958.8H651.6M657.7 987.5H651.4V1006.7H657.7M657.7 1045.1H651.8V1064.3H657.7M657.7 1025.9H650.6V1054.7H651.8M651.4 997.1H649.2V1040.3H650.6M650.2 944.4H648.0V1018.7H649.2M649.8 886.9H646.6V981.6H648.0M657.7 1102.6H651.7V1121.8H657.7M657.7 1141.0H651.2V1160.1H657.7M651.7 1112.2H649.6V1150.5H651.2M657.7 1179.3H651.9V1198.5H657.7M651.9 1188.9H650.5V1217.7H657.7M657.7 1236.8H651.6V1256.0H657.7M657.7 1275.2H651.8V1294.4H657.7M657.7 1313.5H651.3V1332.7H657.7M651.8 1284.8H649.9V1323.1H651.3M651.6 1246.4H648.7V1304.0H649.9M650.5 1203.3H648.1V1275.2H648.7M649.6 1131.4H647.2V1239.2H648.1M657.7 1083.4H645.2V1185.3H647.2M657.7 1351.9H652.3V1371.1H657.7M652.3 1361.5H650.6V1390.3H657.7M650.6 1375.9H648.8V1409.4H657.7M657.7 1428.6H651.9V1447.8H657.7M651.9 1438.2H651.0V1467.0H657.7M651.0 1452.6H652.0V1486.1H657.7M652.0 1469.4H653.0V1505.3H657.7M648.8 1392.7H647.0V1487.3H653.0M645.2 1134.4H644.6V1440.0H647.0M646.6 934.2H643.6V1287.2H644.6" stroke="#000" stroke-width="1.3" fill="none"/>
<text x="690.6" y="826" font-size="19.6" fill="#111" textLength="199.8" lengthAdjust="spacingAndGlyphs">Steamness Subtype I</text>
<text x="945" y="826" font-size="19.6" fill="#111" textLength="206.5" lengthAdjust="spacingAndGlyphs">Steamness Subtype II</text>
<rect x="659.1" y="842.3" width="262.5" height="16" fill="#DF9B2B"/>
<rect x="921.6" y="842.3" width="293" height="16" fill="#4398B7"/>
<text x="1219.7" y="855.9" font-size="19.2" font-weight="bold" textLength="99.2" lengthAdjust="spacingAndGlyphs">StemType</text>
<text x="1219.7" y="878.2882352941176" font-size="15.9" fill="#111">APICAL_SURFACE</text>
<text x="1219.7" y="897.4647058823529" font-size="15.9" fill="#111">TGF_BETA_SIGNALING</text>
<text x="1219.7" y="916.6411764705882" font-size="15.9" fill="#111">UV_RESPONSE_DN</text>
<text x="1219.7" y="935.8176470588235" font-size="15.9" fill="#111">HYPOXIA</text>
<text x="1219.7" y="954.9941176470588" font-size="15.9" fill="#111">APOPTOSIS</text>
<text x="1219.7" y="974.1705882352941" font-size="15.9" fill="#111">P53_PATHWAY</text>
<text x="1219.7" y="993.3470588235293" font-size="15.9" fill="#111">MYOGENESIS</text>
<text x="1219.7" y="1012.5235294117647" font-size="15.9" fill="#111">APICAL_JUNCTION</text>
<text x="1219.7" y="1031.7" font-size="15.9" fill="#111">COAGULATION</text>
<text x="1219.7" y="1050.8764705882352" font-size="15.9" fill="#111">EPITHELIAL_MESENCHYMAL_TRANSITION</text>
<text x="1219.7" y="1070.0529411764705" font-size="15.9" fill="#111">ANGIOGENESIS</text>
<text x="1219.7" y="1089.229411764706" font-size="15.9" fill="#111">PANCREAS_BETA_CELLS</text>
<text x="1219.7" y="1108.405882352941" font-size="15.9" fill="#111">CHOLESTEROL_HOMEOSTASIS</text>
<text x="1219.7" y="1127.5823529411764" font-size="15.9" fill="#111">UV_RESPONSE_UP</text>
<text x="1219.7" y="1146.7588235294118" font-size="15.9" fill="#111">MTORC1_SIGNALING</text>
<text x="1219.7" y="1165.9352941176471" font-size="15.9" fill="#111">GLYCOLYSIS</text>
<text x="1219.7" y="1185.1117647058823" font-size="15.9" fill="#111">XENOBIOTIC_METABOLISM</text>
<text x="1219.7" y="1204.2882352941176" font-size="15.9" fill="#111">REACTIVE_OXYGEN_SPECIES_PATHWAY</text>
<text x="1219.7" y="1223.464705882353" font-size="15.9" fill="#111">ADIPOGENESIS</text>
<text x="1219.7" y="1242.6411764705883" font-size="15.9" fill="#111">FATTY_ACID_METABOLISM</text>
<text x="1219.7" y="1261.8176470588235" font-size="15.9" fill="#111">UNFOLDED_PROTEIN_RESPONSE</text>
<text x="1219.7" y="1280.9941176470588" font-size="15.9" fill="#111">PI3K_AKT_MTOR_SIGNALING</text>
<text x="1219.7" y="1300.1705882352942" font-size="15.9" fill="#111">ANDROGEN_RESPONSE</text>
<text x="1219.7" y="1319.3470588235293" font-size="15.9" fill="#111">PROTEIN_SECRETION</text>
<text x="1219.7" y="1338.5235294117647" font-size="15.9" fill="#111">HEME_METABOLISM</text>
<text x="1219.7" y="1357.7" font-size="15.9" fill="#111">INTERFERON_ALPHA_RESPONSE</text>
<text x="1219.7" y="1376.8764705882352" font-size="15.9" fill="#111">INTERFERON_GAMMA_RESPONSE</text>
<text x="1219.7" y="1396.0529411764708" font-size="15.9" fill="#111">ALLOGRAFT_REJECTION</text>
<text x="1219.7" y="1415.229411764706" font-size="15.9" fill="#111">TNFA_SIGNALING_VIA_NFKB</text>
<text x="1219.7" y="1434.405882352941" font-size="15.9" fill="#111">KRAS_SIGNALING_UP</text>
<text x="1219.7" y="1453.5823529411766" font-size="15.9" fill="#111">IL2_STAT5_SIGNALING</text>
<text x="1219.7" y="1472.7588235294118" font-size="15.9" fill="#111">COMPLEMENT</text>
<text x="1219.7" y="1491.9352941176471" font-size="15.9" fill="#111">IL6_JAK_STAT3_SIGNALING</text>
<text x="1219.7" y="1511.1117647058825" font-size="15.9" fill="#111">INFLAMMATORY_RESPONSE</text>
<rect x="1501.1" y="873.9" width="19.8" height="96.8" fill="url(#gE)"/>
<path d="M1501.1 877.6h5M1515.9 877.6h5M1501.1 899.8h5M1515.9 899.8h5M1501.1 922.2h5M1515.9 922.2h5M1501.1 944.6h5M1515.9 944.6h5M1501.1 967.0h5M1515.9 967.0h5" stroke="#fff" stroke-width="1.6"/>
<text x="1526.5" y="883.9" font-size="17.5" fill="#111">2</text>
<text x="1526.5" y="906.0999999999999" font-size="17.5" fill="#111">1</text>
<text x="1526.5" y="928.5" font-size="17.5" fill="#111">0</text>
<text x="1526.5" y="950.9" font-size="17.5" fill="#111">−1</text>
<text x="1526.5" y="973.3" font-size="17.5" fill="#111">−2</text>
</svg></body></html>
